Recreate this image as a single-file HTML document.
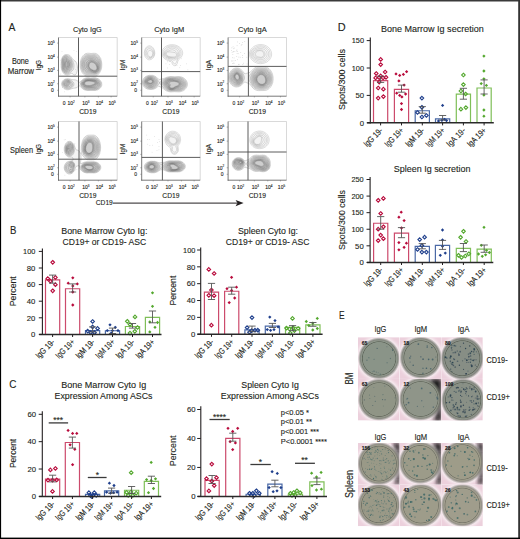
<!DOCTYPE html>
<html><head><meta charset="utf-8"><style>
html,body{margin:0;padding:0;background:#fff;}
svg{display:block;}
text{font-family:"Liberation Sans", sans-serif;stroke:#231f20;stroke-width:0.12px;}
</style></head><body>
<svg width="520" height="539" viewBox="0 0 520 539">
<rect x="0.00" y="0.00" width="520.00" height="539.00" fill="#fff" stroke="none" stroke-width="1"/>
<text x="8.50" y="31.30" font-size="11.2" text-anchor="start" fill="#231f20" textLength="6.90" lengthAdjust="spacingAndGlyphs">A</text>
<text x="9.90" y="233.90" font-size="11.2" text-anchor="start" fill="#231f20" textLength="6.40" lengthAdjust="spacingAndGlyphs">B</text>
<text x="9.20" y="387.90" font-size="11.2" text-anchor="start" fill="#231f20" textLength="7.20" lengthAdjust="spacingAndGlyphs">C</text>
<text x="337.80" y="31.10" font-size="11.2" text-anchor="start" fill="#231f20" textLength="7.90" lengthAdjust="spacingAndGlyphs">D</text>
<text x="339.10" y="318.90" font-size="11.2" text-anchor="start" fill="#231f20" textLength="5.60" lengthAdjust="spacingAndGlyphs">E</text>
<text x="61.20" y="233.60" font-size="9.5" text-anchor="start" fill="#231f20" textLength="86.30" lengthAdjust="spacingAndGlyphs">Bone Marrow Cyto Ig:</text>
<text x="62.50" y="245.00" font-size="9.5" text-anchor="start" fill="#231f20" textLength="83.70" lengthAdjust="spacingAndGlyphs">CD19+ or CD19- ASC</text>
<text x="238.00" y="233.60" font-size="9.5" text-anchor="start" fill="#231f20" textLength="60.00" lengthAdjust="spacingAndGlyphs">Spleen Cyto Ig:</text>
<text x="225.80" y="245.00" font-size="9.5" text-anchor="start" fill="#231f20" textLength="83.70" lengthAdjust="spacingAndGlyphs">CD19+ or CD19- ASC</text>
<text x="61.20" y="388.00" font-size="9.5" text-anchor="start" fill="#231f20" textLength="85.00" lengthAdjust="spacingAndGlyphs">Bone Marrow Cyto Ig</text>
<text x="54.50" y="399.30" font-size="9.5" text-anchor="start" fill="#231f20" textLength="98.00" lengthAdjust="spacingAndGlyphs">Expression Among ASCs</text>
<text x="241.30" y="388.00" font-size="9.5" text-anchor="start" fill="#231f20" textLength="57.50" lengthAdjust="spacingAndGlyphs">Spleen Cyto Ig</text>
<text x="220.80" y="399.30" font-size="9.5" text-anchor="start" fill="#231f20" textLength="98.00" lengthAdjust="spacingAndGlyphs">Expression Among ASCs</text>
<text x="381.00" y="32.20" font-size="9.5" text-anchor="start" fill="#231f20" textLength="102.70" lengthAdjust="spacingAndGlyphs">Bone Marrow Ig secretion</text>
<text x="393.80" y="171.80" font-size="9.5" text-anchor="start" fill="#231f20" textLength="76.70" lengthAdjust="spacingAndGlyphs">Spleen Ig secretion</text>
<text x="16.10" y="291.20" font-size="9.6" text-anchor="middle" fill="#231f20" textLength="30.00" lengthAdjust="spacingAndGlyphs" transform="rotate(-90 16.10 291.20)">Percent</text>
<text x="175.80" y="290.60" font-size="9.6" text-anchor="middle" fill="#231f20" textLength="29.80" lengthAdjust="spacingAndGlyphs" transform="rotate(-90 175.80 290.60)">Percent</text>
<text x="16.30" y="453.40" font-size="9.6" text-anchor="middle" fill="#231f20" textLength="29.30" lengthAdjust="spacingAndGlyphs" transform="rotate(-90 16.30 453.40)">Percent</text>
<text x="175.80" y="450.90" font-size="9.6" text-anchor="middle" fill="#231f20" textLength="30.80" lengthAdjust="spacingAndGlyphs" transform="rotate(-90 175.80 450.90)">Percent</text>
<text x="345.00" y="79.60" font-size="9.6" text-anchor="middle" fill="#231f20" textLength="61.00" lengthAdjust="spacingAndGlyphs" transform="rotate(-90 345.00 79.60)">Spots/300 cells</text>
<text x="345.00" y="220.00" font-size="9.6" text-anchor="middle" fill="#231f20" textLength="60.00" lengthAdjust="spacingAndGlyphs" transform="rotate(-90 345.00 220.00)">Spots/300 cells</text>
<path d="M45.50,334.40V279.79H59.70V334.40" fill="#fff" stroke="#cc4a6c" stroke-width="1.2"/>
<path d="M65.50,334.40V288.75H79.70V334.40" fill="#fff" stroke="#cc4a6c" stroke-width="1.2"/>
<path d="M85.50,334.40V330.58H99.70V334.40" fill="#fff" stroke="#4a69a6" stroke-width="1.2"/>
<path d="M105.40,334.40V330.75H119.60V334.40" fill="#fff" stroke="#4a69a6" stroke-width="1.2"/>
<path d="M125.40,334.40V326.51H139.60V334.40" fill="#fff" stroke="#7fbf58" stroke-width="1.2"/>
<path d="M145.40,334.40V317.38H159.60V334.40" fill="#fff" stroke="#7fbf58" stroke-width="1.2"/>
<path d="M52.70,260.50L54.50,262.30L52.70,264.10L50.90,262.30Z" fill="none" stroke="#b80b3c" stroke-width="1.1"/>
<path d="M47.80,276.80L49.60,278.60L47.80,280.40L46.00,278.60Z" fill="none" stroke="#b80b3c" stroke-width="1.1"/>
<path d="M50.40,279.40L52.20,281.20L50.40,283.00L48.60,281.20Z" fill="none" stroke="#b80b3c" stroke-width="1.1"/>
<path d="M55.40,275.70L57.20,277.50L55.40,279.30L53.60,277.50Z" fill="none" stroke="#b80b3c" stroke-width="1.1"/>
<path d="M55.40,282.90L57.20,284.70L55.40,286.50L53.60,284.70Z" fill="none" stroke="#b80b3c" stroke-width="1.1"/>
<path d="M52.70,289.00L54.50,290.80L52.70,292.60L50.90,290.80Z" fill="none" stroke="#b80b3c" stroke-width="1.1"/>
<path d="M72.80,276.15L74.45,277.80L72.80,279.45L71.15,277.80Z" fill="#b80b3c"/>
<path d="M68.20,281.55L69.85,283.20L68.20,284.85L66.55,283.20Z" fill="#b80b3c"/>
<path d="M77.30,282.25L78.95,283.90L77.30,285.55L75.65,283.90Z" fill="#b80b3c"/>
<path d="M72.80,284.25L74.45,285.90L72.80,287.55L71.15,285.90Z" fill="#b80b3c"/>
<path d="M72.80,290.35L74.45,292.00L72.80,293.65L71.15,292.00Z" fill="#b80b3c"/>
<path d="M72.80,303.35L74.45,305.00L72.80,306.65L71.15,305.00Z" fill="#b80b3c"/>
<path d="M92.60,319.70L94.40,321.50L92.60,323.30L90.80,321.50Z" fill="none" stroke="#1f3f8c" stroke-width="1.1"/>
<path d="M92.60,325.10L94.40,326.90L92.60,328.70L90.80,326.90Z" fill="none" stroke="#1f3f8c" stroke-width="1.1"/>
<path d="M97.60,326.60L99.40,328.40L97.60,330.20L95.80,328.40Z" fill="none" stroke="#1f3f8c" stroke-width="1.1"/>
<path d="M87.70,329.30L89.50,331.10L87.70,332.90L85.90,331.10Z" fill="none" stroke="#1f3f8c" stroke-width="1.1"/>
<path d="M90.70,330.90L92.50,332.70L90.70,334.50L88.90,332.70Z" fill="none" stroke="#1f3f8c" stroke-width="1.1"/>
<path d="M94.50,330.90L96.30,332.70L94.50,334.50L92.70,332.70Z" fill="none" stroke="#1f3f8c" stroke-width="1.1"/>
<path d="M110.00,323.15L111.65,324.80L110.00,326.45L108.35,324.80Z" fill="#1f3f8c"/>
<path d="M115.30,325.65L116.95,327.30L115.30,328.95L113.65,327.30Z" fill="#1f3f8c"/>
<path d="M107.30,328.95L108.95,330.60L107.30,332.25L105.65,330.60Z" fill="#1f3f8c"/>
<path d="M112.50,328.95L114.15,330.60L112.50,332.25L110.85,330.60Z" fill="#1f3f8c"/>
<path d="M118.00,328.95L119.65,330.60L118.00,332.25L116.35,330.60Z" fill="#1f3f8c"/>
<path d="M111.30,331.45L112.95,333.10L111.30,334.75L109.65,333.10Z" fill="#1f3f8c"/>
<path d="M135.00,315.10L136.80,316.90L135.00,318.70L133.20,316.90Z" fill="none" stroke="#54a82e" stroke-width="1.1"/>
<path d="M127.30,319.50L129.10,321.30L127.30,323.10L125.50,321.30Z" fill="none" stroke="#54a82e" stroke-width="1.1"/>
<path d="M130.00,322.60L131.80,324.40L130.00,326.20L128.20,324.40Z" fill="none" stroke="#54a82e" stroke-width="1.1"/>
<path d="M137.50,325.70L139.30,327.50L137.50,329.30L135.70,327.50Z" fill="none" stroke="#54a82e" stroke-width="1.1"/>
<path d="M134.80,329.50L136.60,331.30L134.80,333.10L133.00,331.30Z" fill="none" stroke="#54a82e" stroke-width="1.1"/>
<path d="M130.00,331.30L131.80,333.10L130.00,334.90L128.20,333.10Z" fill="none" stroke="#54a82e" stroke-width="1.1"/>
<path d="M152.50,291.15L154.15,292.80L152.50,294.45L150.85,292.80Z" fill="#54a82e"/>
<path d="M152.50,304.65L154.15,306.30L152.50,307.95L150.85,306.30Z" fill="#54a82e"/>
<path d="M149.80,320.25L151.45,321.90L149.80,323.55L148.15,321.90Z" fill="#54a82e"/>
<path d="M157.50,320.85L159.15,322.50L157.50,324.15L155.85,322.50Z" fill="#54a82e"/>
<path d="M155.00,325.65L156.65,327.30L155.00,328.95L153.35,327.30Z" fill="#54a82e"/>
<path d="M149.80,330.25L151.45,331.90L149.80,333.55L148.15,331.90Z" fill="#54a82e"/>
<path d="M52.60,275.10V283.20M49.00,275.10H56.20M49.00,283.20H56.20" stroke="#555555" stroke-width="0.9" fill="none"/>
<path d="M72.60,283.90V292.00M69.00,283.90H76.20M69.00,292.00H76.20" stroke="#555555" stroke-width="0.9" fill="none"/>
<path d="M92.60,326.90V332.00M89.00,326.90H96.20M89.00,332.00H96.20" stroke="#555555" stroke-width="0.9" fill="none"/>
<path d="M112.50,328.10V333.50M108.90,328.10H116.10M108.90,333.50H116.10" stroke="#555555" stroke-width="0.9" fill="none"/>
<path d="M132.50,323.50V328.10M128.90,323.50H136.10M128.90,328.10H136.10" stroke="#555555" stroke-width="0.9" fill="none"/>
<path d="M152.50,311.00V322.80M148.90,311.00H156.10M148.90,322.80H156.10" stroke="#555555" stroke-width="0.9" fill="none"/>
<line x1="42.40" y1="248.60" x2="42.40" y2="335.00" stroke="#231f20" stroke-width="1.1"/>
<line x1="39.20" y1="334.40" x2="161.50" y2="334.40" stroke="#2a2a2a" stroke-width="1.5"/>
<line x1="38.80" y1="334.40" x2="42.40" y2="334.40" stroke="#231f20" stroke-width="1"/>
<text x="35.40" y="337.15" font-size="7.8" text-anchor="end" fill="#231f20" textLength="4.30" lengthAdjust="spacingAndGlyphs">0</text>
<line x1="38.80" y1="317.80" x2="42.40" y2="317.80" stroke="#231f20" stroke-width="1"/>
<text x="35.40" y="320.55" font-size="7.8" text-anchor="end" fill="#231f20" textLength="8.60" lengthAdjust="spacingAndGlyphs">20</text>
<line x1="38.80" y1="301.20" x2="42.40" y2="301.20" stroke="#231f20" stroke-width="1"/>
<text x="35.40" y="303.95" font-size="7.8" text-anchor="end" fill="#231f20" textLength="8.60" lengthAdjust="spacingAndGlyphs">40</text>
<line x1="38.80" y1="284.60" x2="42.40" y2="284.60" stroke="#231f20" stroke-width="1"/>
<text x="35.40" y="287.35" font-size="7.8" text-anchor="end" fill="#231f20" textLength="8.60" lengthAdjust="spacingAndGlyphs">60</text>
<line x1="38.80" y1="268.00" x2="42.40" y2="268.00" stroke="#231f20" stroke-width="1"/>
<text x="35.40" y="270.75" font-size="7.8" text-anchor="end" fill="#231f20" textLength="8.60" lengthAdjust="spacingAndGlyphs">80</text>
<line x1="38.80" y1="251.40" x2="42.40" y2="251.40" stroke="#231f20" stroke-width="1"/>
<text x="35.40" y="254.15" font-size="7.8" text-anchor="end" fill="#231f20" textLength="12.30" lengthAdjust="spacingAndGlyphs">100</text>
<line x1="52.60" y1="334.40" x2="52.60" y2="337.00" stroke="#231f20" stroke-width="1"/>
<text x="55.40" y="342.70" font-size="8.6" text-anchor="end" fill="#231f20" textLength="23.20" lengthAdjust="spacingAndGlyphs" transform="rotate(-45 55.40 342.70)">IgG 19-</text>
<line x1="72.60" y1="334.40" x2="72.60" y2="337.00" stroke="#231f20" stroke-width="1"/>
<text x="75.40" y="342.70" font-size="8.6" text-anchor="end" fill="#231f20" textLength="23.20" lengthAdjust="spacingAndGlyphs" transform="rotate(-45 75.40 342.70)">IgG 19+</text>
<line x1="92.60" y1="334.40" x2="92.60" y2="337.00" stroke="#231f20" stroke-width="1"/>
<text x="95.40" y="342.70" font-size="8.6" text-anchor="end" fill="#231f20" textLength="23.20" lengthAdjust="spacingAndGlyphs" transform="rotate(-45 95.40 342.70)">IgM 19-</text>
<line x1="112.50" y1="334.40" x2="112.50" y2="337.00" stroke="#231f20" stroke-width="1"/>
<text x="115.30" y="342.70" font-size="8.6" text-anchor="end" fill="#231f20" textLength="23.20" lengthAdjust="spacingAndGlyphs" transform="rotate(-45 115.30 342.70)">IgM 19+</text>
<line x1="132.50" y1="334.40" x2="132.50" y2="337.00" stroke="#231f20" stroke-width="1"/>
<text x="135.30" y="342.70" font-size="8.6" text-anchor="end" fill="#231f20" textLength="23.20" lengthAdjust="spacingAndGlyphs" transform="rotate(-45 135.30 342.70)">IgA 19-</text>
<line x1="152.50" y1="334.40" x2="152.50" y2="337.00" stroke="#231f20" stroke-width="1"/>
<text x="155.30" y="342.70" font-size="8.6" text-anchor="end" fill="#231f20" textLength="23.20" lengthAdjust="spacingAndGlyphs" transform="rotate(-45 155.30 342.70)">IgA 19+</text>
<path d="M204.40,334.20V292.10H218.60V334.20" fill="#fff" stroke="#cc4a6c" stroke-width="1.2"/>
<path d="M224.60,334.20V291.26H238.80V334.20" fill="#fff" stroke="#cc4a6c" stroke-width="1.2"/>
<path d="M244.90,334.20V329.82H259.10V334.20" fill="#fff" stroke="#4a69a6" stroke-width="1.2"/>
<path d="M265.30,334.20V326.20H279.50V334.20" fill="#fff" stroke="#4a69a6" stroke-width="1.2"/>
<path d="M285.50,334.20V327.46H299.70V334.20" fill="#fff" stroke="#7fbf58" stroke-width="1.2"/>
<path d="M305.80,334.20V324.94H320.00V334.20" fill="#fff" stroke="#7fbf58" stroke-width="1.2"/>
<path d="M208.80,267.60L210.60,269.40L208.80,271.20L207.00,269.40Z" fill="none" stroke="#b80b3c" stroke-width="1.1"/>
<path d="M214.10,271.70L215.90,273.50L214.10,275.30L212.30,273.50Z" fill="none" stroke="#b80b3c" stroke-width="1.1"/>
<path d="M211.40,288.20L213.20,290.00L211.40,291.80L209.60,290.00Z" fill="none" stroke="#b80b3c" stroke-width="1.1"/>
<path d="M208.80,293.50L210.60,295.30L208.80,297.10L207.00,295.30Z" fill="none" stroke="#b80b3c" stroke-width="1.1"/>
<path d="M214.10,293.90L215.90,295.70L214.10,297.50L212.30,295.70Z" fill="none" stroke="#b80b3c" stroke-width="1.1"/>
<path d="M211.40,323.40L213.20,325.20L211.40,327.00L209.60,325.20Z" fill="none" stroke="#b80b3c" stroke-width="1.1"/>
<path d="M231.60,275.65L233.25,277.30L231.60,278.95L229.95,277.30Z" fill="#b80b3c"/>
<path d="M227.00,287.05L228.65,288.70L227.00,290.35L225.35,288.70Z" fill="#b80b3c"/>
<path d="M236.50,285.55L238.15,287.20L236.50,288.85L234.85,287.20Z" fill="#b80b3c"/>
<path d="M231.60,288.75L233.25,290.40L231.60,292.05L229.95,290.40Z" fill="#b80b3c"/>
<path d="M234.70,296.35L236.35,298.00L234.70,299.65L233.05,298.00Z" fill="#b80b3c"/>
<path d="M229.20,300.95L230.85,302.60L229.20,304.25L227.55,302.60Z" fill="#b80b3c"/>
<path d="M252.00,315.80L253.80,317.60L252.00,319.40L250.20,317.60Z" fill="none" stroke="#1f3f8c" stroke-width="1.1"/>
<path d="M247.10,325.80L248.90,327.60L247.10,329.40L245.30,327.60Z" fill="none" stroke="#1f3f8c" stroke-width="1.1"/>
<path d="M251.70,328.90L253.50,330.70L251.70,332.50L249.90,330.70Z" fill="none" stroke="#1f3f8c" stroke-width="1.1"/>
<path d="M255.00,328.40L256.80,330.20L255.00,332.00L253.20,330.20Z" fill="none" stroke="#1f3f8c" stroke-width="1.1"/>
<path d="M257.80,328.40L259.60,330.20L257.80,332.00L256.00,330.20Z" fill="none" stroke="#1f3f8c" stroke-width="1.1"/>
<path d="M249.50,330.40L251.30,332.20L249.50,334.00L247.70,332.20Z" fill="none" stroke="#1f3f8c" stroke-width="1.1"/>
<path d="M269.80,315.45L271.45,317.10L269.80,318.75L268.15,317.10Z" fill="#1f3f8c"/>
<path d="M275.00,318.95L276.65,320.60L275.00,322.25L273.35,320.60Z" fill="#1f3f8c"/>
<path d="M278.10,325.25L279.75,326.90L278.10,328.55L276.45,326.90Z" fill="#1f3f8c"/>
<path d="M267.30,327.95L268.95,329.60L267.30,331.25L265.65,329.60Z" fill="#1f3f8c"/>
<path d="M270.60,328.65L272.25,330.30L270.60,331.95L268.95,330.30Z" fill="#1f3f8c"/>
<path d="M274.00,327.95L275.65,329.60L274.00,331.25L272.35,329.60Z" fill="#1f3f8c"/>
<path d="M292.50,316.60L294.30,318.40L292.50,320.20L290.70,318.40Z" fill="none" stroke="#54a82e" stroke-width="1.1"/>
<path d="M286.50,326.30L288.30,328.10L286.50,329.90L284.70,328.10Z" fill="none" stroke="#54a82e" stroke-width="1.1"/>
<path d="M289.40,327.20L291.20,329.00L289.40,330.80L287.60,329.00Z" fill="none" stroke="#54a82e" stroke-width="1.1"/>
<path d="M293.10,326.00L294.90,327.80L293.10,329.60L291.30,327.80Z" fill="none" stroke="#54a82e" stroke-width="1.1"/>
<path d="M298.10,326.70L299.90,328.50L298.10,330.30L296.30,328.50Z" fill="none" stroke="#54a82e" stroke-width="1.1"/>
<path d="M290.30,331.30L292.10,333.10L290.30,334.90L288.50,333.10Z" fill="none" stroke="#54a82e" stroke-width="1.1"/>
<path d="M294.40,328.80L296.20,330.60L294.40,332.40L292.60,330.60Z" fill="none" stroke="#54a82e" stroke-width="1.1"/>
<path d="M317.30,316.75L318.95,318.40L317.30,320.05L315.65,318.40Z" fill="#54a82e"/>
<path d="M306.30,319.85L307.95,321.50L306.30,323.15L304.65,321.50Z" fill="#54a82e"/>
<path d="M312.80,321.45L314.45,323.10L312.80,324.75L311.15,323.10Z" fill="#54a82e"/>
<path d="M308.80,323.95L310.45,325.60L308.80,327.25L307.15,325.60Z" fill="#54a82e"/>
<path d="M317.30,326.85L318.95,328.50L317.30,330.15L315.65,328.50Z" fill="#54a82e"/>
<path d="M312.80,328.35L314.45,330.00L312.80,331.65L311.15,330.00Z" fill="#54a82e"/>
<path d="M211.50,283.40V299.50M207.90,283.40H215.10M207.90,299.50H215.10" stroke="#555555" stroke-width="0.9" fill="none"/>
<path d="M231.70,287.20V294.20M228.10,287.20H235.30M228.10,294.20H235.30" stroke="#555555" stroke-width="0.9" fill="none"/>
<path d="M252.00,326.10V331.70M248.40,326.10H255.60M248.40,331.70H255.60" stroke="#555555" stroke-width="0.9" fill="none"/>
<path d="M272.40,323.40V327.50M268.80,323.40H276.00M268.80,327.50H276.00" stroke="#555555" stroke-width="0.9" fill="none"/>
<path d="M292.60,325.60V330.60M289.00,325.60H296.20M289.00,330.60H296.20" stroke="#555555" stroke-width="0.9" fill="none"/>
<path d="M312.90,322.50V326.30M309.30,322.50H316.50M309.30,326.30H316.50" stroke="#555555" stroke-width="0.9" fill="none"/>
<line x1="200.70" y1="247.50" x2="200.70" y2="334.80" stroke="#231f20" stroke-width="1.1"/>
<line x1="197.50" y1="334.20" x2="322.60" y2="334.20" stroke="#2a2a2a" stroke-width="1.5"/>
<line x1="197.10" y1="334.20" x2="200.70" y2="334.20" stroke="#231f20" stroke-width="1"/>
<text x="195.40" y="336.95" font-size="7.8" text-anchor="end" fill="#231f20" textLength="4.30" lengthAdjust="spacingAndGlyphs">0</text>
<line x1="197.10" y1="317.36" x2="200.70" y2="317.36" stroke="#231f20" stroke-width="1"/>
<text x="195.40" y="320.11" font-size="7.8" text-anchor="end" fill="#231f20" textLength="8.60" lengthAdjust="spacingAndGlyphs">20</text>
<line x1="197.10" y1="300.52" x2="200.70" y2="300.52" stroke="#231f20" stroke-width="1"/>
<text x="195.40" y="303.27" font-size="7.8" text-anchor="end" fill="#231f20" textLength="8.60" lengthAdjust="spacingAndGlyphs">40</text>
<line x1="197.10" y1="283.68" x2="200.70" y2="283.68" stroke="#231f20" stroke-width="1"/>
<text x="195.40" y="286.43" font-size="7.8" text-anchor="end" fill="#231f20" textLength="8.60" lengthAdjust="spacingAndGlyphs">60</text>
<line x1="197.10" y1="266.84" x2="200.70" y2="266.84" stroke="#231f20" stroke-width="1"/>
<text x="195.40" y="269.59" font-size="7.8" text-anchor="end" fill="#231f20" textLength="8.60" lengthAdjust="spacingAndGlyphs">80</text>
<line x1="197.10" y1="250.00" x2="200.70" y2="250.00" stroke="#231f20" stroke-width="1"/>
<text x="195.40" y="252.75" font-size="7.8" text-anchor="end" fill="#231f20" textLength="12.30" lengthAdjust="spacingAndGlyphs">100</text>
<line x1="211.50" y1="334.20" x2="211.50" y2="336.80" stroke="#231f20" stroke-width="1"/>
<text x="214.30" y="342.50" font-size="8.6" text-anchor="end" fill="#231f20" textLength="23.20" lengthAdjust="spacingAndGlyphs" transform="rotate(-45 214.30 342.50)">IgG 19-</text>
<line x1="231.70" y1="334.20" x2="231.70" y2="336.80" stroke="#231f20" stroke-width="1"/>
<text x="234.50" y="342.50" font-size="8.6" text-anchor="end" fill="#231f20" textLength="23.20" lengthAdjust="spacingAndGlyphs" transform="rotate(-45 234.50 342.50)">IgG 19+</text>
<line x1="252.00" y1="334.20" x2="252.00" y2="336.80" stroke="#231f20" stroke-width="1"/>
<text x="254.80" y="342.50" font-size="8.6" text-anchor="end" fill="#231f20" textLength="23.20" lengthAdjust="spacingAndGlyphs" transform="rotate(-45 254.80 342.50)">IgM 19-</text>
<line x1="272.40" y1="334.20" x2="272.40" y2="336.80" stroke="#231f20" stroke-width="1"/>
<text x="275.20" y="342.50" font-size="8.6" text-anchor="end" fill="#231f20" textLength="23.20" lengthAdjust="spacingAndGlyphs" transform="rotate(-45 275.20 342.50)">IgM 19+</text>
<line x1="292.60" y1="334.20" x2="292.60" y2="336.80" stroke="#231f20" stroke-width="1"/>
<text x="295.40" y="342.50" font-size="8.6" text-anchor="end" fill="#231f20" textLength="23.20" lengthAdjust="spacingAndGlyphs" transform="rotate(-45 295.40 342.50)">IgA 19-</text>
<line x1="312.90" y1="334.20" x2="312.90" y2="336.80" stroke="#231f20" stroke-width="1"/>
<text x="315.70" y="342.50" font-size="8.6" text-anchor="end" fill="#231f20" textLength="23.20" lengthAdjust="spacingAndGlyphs" transform="rotate(-45 315.70 342.50)">IgA 19+</text>
<path d="M45.50,496.40V479.16H59.70V496.40" fill="#fff" stroke="#cc4a6c" stroke-width="1.2"/>
<path d="M65.30,496.40V442.49H79.50V496.40" fill="#fff" stroke="#cc4a6c" stroke-width="1.2"/>
<path d="M85.50,496.40V494.35H99.70V496.40" fill="#fff" stroke="#4a69a6" stroke-width="1.2"/>
<path d="M104.50,496.40V490.93H118.70V496.40" fill="#fff" stroke="#4a69a6" stroke-width="1.2"/>
<path d="M124.50,496.40V490.24H138.70V496.40" fill="#fff" stroke="#7fbf58" stroke-width="1.2"/>
<path d="M144.30,496.40V481.35H158.50V496.40" fill="#fff" stroke="#7fbf58" stroke-width="1.2"/>
<path d="M50.40,468.10L52.20,469.90L50.40,471.70L48.60,469.90Z" fill="none" stroke="#b80b3c" stroke-width="1.1"/>
<path d="M55.40,466.70L57.20,468.50L55.40,470.30L53.60,468.50Z" fill="none" stroke="#b80b3c" stroke-width="1.1"/>
<path d="M48.00,478.40L49.80,480.20L48.00,482.00L46.20,480.20Z" fill="none" stroke="#b80b3c" stroke-width="1.1"/>
<path d="M52.50,478.40L54.30,480.20L52.50,482.00L50.70,480.20Z" fill="none" stroke="#b80b3c" stroke-width="1.1"/>
<path d="M56.70,478.10L58.50,479.90L56.70,481.70L54.90,479.90Z" fill="none" stroke="#b80b3c" stroke-width="1.1"/>
<path d="M52.50,489.60L54.30,491.40L52.50,493.20L50.70,491.40Z" fill="none" stroke="#b80b3c" stroke-width="1.1"/>
<path d="M68.10,428.75L69.75,430.40L68.10,432.05L66.45,430.40Z" fill="#b80b3c"/>
<path d="M72.60,431.75L74.25,433.40L72.60,435.05L70.95,433.40Z" fill="#b80b3c"/>
<path d="M76.80,431.75L78.45,433.40L76.80,435.05L75.15,433.40Z" fill="#b80b3c"/>
<path d="M70.10,443.15L71.75,444.80L70.10,446.45L68.45,444.80Z" fill="#b80b3c"/>
<path d="M74.80,447.65L76.45,449.30L74.80,450.95L73.15,449.30Z" fill="#b80b3c"/>
<path d="M72.60,463.05L74.25,464.70L72.60,466.35L70.95,464.70Z" fill="#b80b3c"/>
<path d="M88.90,490.90L90.70,492.70L88.90,494.50L87.10,492.70Z" fill="none" stroke="#1f3f8c" stroke-width="1.1"/>
<path d="M94.30,490.90L96.10,492.70L94.30,494.50L92.50,492.70Z" fill="none" stroke="#1f3f8c" stroke-width="1.1"/>
<path d="M90.50,493.50L92.30,495.30L90.50,497.10L88.70,495.30Z" fill="none" stroke="#1f3f8c" stroke-width="1.1"/>
<path d="M92.80,493.50L94.60,495.30L92.80,497.10L91.00,495.30Z" fill="none" stroke="#1f3f8c" stroke-width="1.1"/>
<path d="M96.20,493.50L98.00,495.30L96.20,497.10L94.40,495.30Z" fill="none" stroke="#1f3f8c" stroke-width="1.1"/>
<path d="M91.50,494.70L93.30,496.50L91.50,498.30L89.70,496.50Z" fill="none" stroke="#1f3f8c" stroke-width="1.1"/>
<path d="M109.40,481.55L111.05,483.20L109.40,484.85L107.75,483.20Z" fill="#1f3f8c"/>
<path d="M114.00,483.85L115.65,485.50L114.00,487.15L112.35,485.50Z" fill="#1f3f8c"/>
<path d="M106.60,490.55L108.25,492.20L106.60,493.85L104.95,492.20Z" fill="#1f3f8c"/>
<path d="M110.50,491.55L112.15,493.20L110.50,494.85L108.85,493.20Z" fill="#1f3f8c"/>
<path d="M113.50,491.05L115.15,492.70L113.50,494.35L111.85,492.70Z" fill="#1f3f8c"/>
<path d="M117.10,490.55L118.75,492.20L117.10,493.85L115.45,492.20Z" fill="#1f3f8c"/>
<path d="M131.20,470.90L133.00,472.70L131.20,474.50L129.40,472.70Z" fill="none" stroke="#54a82e" stroke-width="1.1"/>
<path d="M126.60,490.60L128.40,492.40L126.60,494.20L124.80,492.40Z" fill="none" stroke="#54a82e" stroke-width="1.1"/>
<path d="M131.00,490.20L132.80,492.00L131.00,493.80L129.20,492.00Z" fill="none" stroke="#54a82e" stroke-width="1.1"/>
<path d="M136.20,491.40L138.00,493.20L136.20,495.00L134.40,493.20Z" fill="none" stroke="#54a82e" stroke-width="1.1"/>
<path d="M128.20,493.50L130.00,495.30L128.20,497.10L126.40,495.30Z" fill="none" stroke="#54a82e" stroke-width="1.1"/>
<path d="M132.80,493.50L134.60,495.30L132.80,497.10L131.00,495.30Z" fill="none" stroke="#54a82e" stroke-width="1.1"/>
<path d="M151.20,460.75L152.85,462.40L151.20,464.05L149.55,462.40Z" fill="#54a82e"/>
<path d="M146.60,477.95L148.25,479.60L146.60,481.25L144.95,479.60Z" fill="#54a82e"/>
<path d="M155.50,477.15L157.15,478.80L155.50,480.45L153.85,478.80Z" fill="#54a82e"/>
<path d="M151.20,478.75L152.85,480.40L151.20,482.05L149.55,480.40Z" fill="#54a82e"/>
<path d="M153.50,486.85L155.15,488.50L153.50,490.15L151.85,488.50Z" fill="#54a82e"/>
<path d="M148.50,491.05L150.15,492.70L148.50,494.35L146.85,492.70Z" fill="#54a82e"/>
<path d="M52.60,475.20V481.90M49.00,475.20H56.20M49.00,481.90H56.20" stroke="#555555" stroke-width="0.9" fill="none"/>
<path d="M72.40,437.10V448.10M68.80,437.10H76.00M68.80,448.10H76.00" stroke="#555555" stroke-width="0.9" fill="none"/>
<path d="M111.60,488.10V493.20M108.00,488.10H115.20M108.00,493.20H115.20" stroke="#555555" stroke-width="0.9" fill="none"/>
<path d="M131.60,486.50V493.50M128.00,486.50H135.20M128.00,493.50H135.20" stroke="#555555" stroke-width="0.9" fill="none"/>
<path d="M151.40,476.20V483.50M147.80,476.20H155.00M147.80,483.50H155.00" stroke="#555555" stroke-width="0.9" fill="none"/>
<line x1="42.30" y1="411.30" x2="42.30" y2="497.00" stroke="#231f20" stroke-width="1.1"/>
<line x1="39.10" y1="496.40" x2="161.20" y2="496.40" stroke="#2a2a2a" stroke-width="1.5"/>
<line x1="38.70" y1="496.40" x2="42.30" y2="496.40" stroke="#231f20" stroke-width="1"/>
<text x="36.00" y="499.15" font-size="7.8" text-anchor="end" fill="#231f20" textLength="4.30" lengthAdjust="spacingAndGlyphs">0</text>
<line x1="38.70" y1="469.03" x2="42.30" y2="469.03" stroke="#231f20" stroke-width="1"/>
<text x="36.00" y="471.78" font-size="7.8" text-anchor="end" fill="#231f20" textLength="8.60" lengthAdjust="spacingAndGlyphs">20</text>
<line x1="38.70" y1="441.67" x2="42.30" y2="441.67" stroke="#231f20" stroke-width="1"/>
<text x="36.00" y="444.42" font-size="7.8" text-anchor="end" fill="#231f20" textLength="8.60" lengthAdjust="spacingAndGlyphs">40</text>
<line x1="38.70" y1="414.30" x2="42.30" y2="414.30" stroke="#231f20" stroke-width="1"/>
<text x="36.00" y="417.05" font-size="7.8" text-anchor="end" fill="#231f20" textLength="8.60" lengthAdjust="spacingAndGlyphs">60</text>
<line x1="52.60" y1="496.40" x2="52.60" y2="499.00" stroke="#231f20" stroke-width="1"/>
<text x="55.40" y="504.70" font-size="8.6" text-anchor="end" fill="#231f20" textLength="23.20" lengthAdjust="spacingAndGlyphs" transform="rotate(-45 55.40 504.70)">IgG 19-</text>
<line x1="72.40" y1="496.40" x2="72.40" y2="499.00" stroke="#231f20" stroke-width="1"/>
<text x="75.20" y="504.70" font-size="8.6" text-anchor="end" fill="#231f20" textLength="23.20" lengthAdjust="spacingAndGlyphs" transform="rotate(-45 75.20 504.70)">IgG 19+</text>
<line x1="92.60" y1="496.40" x2="92.60" y2="499.00" stroke="#231f20" stroke-width="1"/>
<text x="95.40" y="504.70" font-size="8.6" text-anchor="end" fill="#231f20" textLength="23.20" lengthAdjust="spacingAndGlyphs" transform="rotate(-45 95.40 504.70)">IgM 19-</text>
<line x1="111.60" y1="496.40" x2="111.60" y2="499.00" stroke="#231f20" stroke-width="1"/>
<text x="114.40" y="504.70" font-size="8.6" text-anchor="end" fill="#231f20" textLength="23.20" lengthAdjust="spacingAndGlyphs" transform="rotate(-45 114.40 504.70)">IgM 19+</text>
<line x1="131.60" y1="496.40" x2="131.60" y2="499.00" stroke="#231f20" stroke-width="1"/>
<text x="134.40" y="504.70" font-size="8.6" text-anchor="end" fill="#231f20" textLength="23.20" lengthAdjust="spacingAndGlyphs" transform="rotate(-45 134.40 504.70)">IgA 19-</text>
<line x1="151.40" y1="496.40" x2="151.40" y2="499.00" stroke="#231f20" stroke-width="1"/>
<text x="154.20" y="504.70" font-size="8.6" text-anchor="end" fill="#231f20" textLength="23.20" lengthAdjust="spacingAndGlyphs" transform="rotate(-45 154.20 504.70)">IgA 19+</text>
<line x1="48.70" y1="422.90" x2="68.10" y2="422.90" stroke="#3a3a3a" stroke-width="1.3"/>
<text x="58.20" y="423.00" font-size="8.5" text-anchor="middle" fill="#231f20">***</text>
<line x1="87.80" y1="477.50" x2="106.60" y2="477.50" stroke="#3a3a3a" stroke-width="1.3"/>
<text x="97.40" y="477.70" font-size="8.5" text-anchor="middle" fill="#231f20">*</text>
<path d="M205.00,496.40V480.47H219.20V496.40" fill="#fff" stroke="#cc4a6c" stroke-width="1.2"/>
<path d="M225.70,496.40V438.47H239.90V496.40" fill="#fff" stroke="#cc4a6c" stroke-width="1.2"/>
<path d="M246.10,496.40V494.23H260.30V496.40" fill="#fff" stroke="#4a69a6" stroke-width="1.2"/>
<path d="M267.80,496.40V484.09H282.00V496.40" fill="#fff" stroke="#4a69a6" stroke-width="1.2"/>
<path d="M288.30,496.40V494.23H302.50V496.40" fill="#fff" stroke="#7fbf58" stroke-width="1.2"/>
<path d="M309.80,496.40V481.92H324.00V496.40" fill="#fff" stroke="#7fbf58" stroke-width="1.2"/>
<path d="M211.80,462.30L213.60,464.10L211.80,465.90L210.00,464.10Z" fill="none" stroke="#b80b3c" stroke-width="1.1"/>
<path d="M206.50,476.90L208.30,478.70L206.50,480.50L204.70,478.70Z" fill="none" stroke="#b80b3c" stroke-width="1.1"/>
<path d="M211.80,479.40L213.60,481.20L211.80,483.00L210.00,481.20Z" fill="none" stroke="#b80b3c" stroke-width="1.1"/>
<path d="M216.50,475.90L218.30,477.70L216.50,479.50L214.70,477.70Z" fill="none" stroke="#b80b3c" stroke-width="1.1"/>
<path d="M214.20,483.80L216.00,485.60L214.20,487.40L212.40,485.60Z" fill="none" stroke="#b80b3c" stroke-width="1.1"/>
<path d="M208.90,489.10L210.70,490.90L208.90,492.70L207.10,490.90Z" fill="none" stroke="#b80b3c" stroke-width="1.1"/>
<path d="M228.00,426.65L229.65,428.30L228.00,429.95L226.35,428.30Z" fill="#b80b3c"/>
<path d="M232.70,429.85L234.35,431.50L232.70,433.15L231.05,431.50Z" fill="#b80b3c"/>
<path d="M237.70,426.65L239.35,428.30L237.70,429.95L236.05,428.30Z" fill="#b80b3c"/>
<path d="M230.10,440.05L231.75,441.70L230.10,443.35L228.45,441.70Z" fill="#b80b3c"/>
<path d="M235.40,441.25L237.05,442.90L235.40,444.55L233.75,442.90Z" fill="#b80b3c"/>
<path d="M232.70,447.95L234.35,449.60L232.70,451.25L231.05,449.60Z" fill="#b80b3c"/>
<path d="M249.50,491.50L251.30,493.30L249.50,495.10L247.70,493.30Z" fill="none" stroke="#1f3f8c" stroke-width="1.1"/>
<path d="M252.80,491.50L254.60,493.30L252.80,495.10L251.00,493.30Z" fill="none" stroke="#1f3f8c" stroke-width="1.1"/>
<path d="M256.40,489.00L258.20,490.80L256.40,492.60L254.60,490.80Z" fill="none" stroke="#1f3f8c" stroke-width="1.1"/>
<path d="M259.30,491.50L261.10,493.30L259.30,495.10L257.50,493.30Z" fill="none" stroke="#1f3f8c" stroke-width="1.1"/>
<path d="M251.20,493.20L253.00,495.00L251.20,496.80L249.40,495.00Z" fill="none" stroke="#1f3f8c" stroke-width="1.1"/>
<path d="M254.40,493.60L256.20,495.40L254.40,497.20L252.60,495.40Z" fill="none" stroke="#1f3f8c" stroke-width="1.1"/>
<path d="M272.10,470.05L273.75,471.70L272.10,473.35L270.45,471.70Z" fill="#1f3f8c"/>
<path d="M277.30,471.75L278.95,473.40L277.30,475.05L275.65,473.40Z" fill="#1f3f8c"/>
<path d="M269.10,485.95L270.75,487.60L269.10,489.25L267.45,487.60Z" fill="#1f3f8c"/>
<path d="M273.20,490.05L274.85,491.70L273.20,493.35L271.55,491.70Z" fill="#1f3f8c"/>
<path d="M277.00,489.15L278.65,490.80L277.00,492.45L275.35,490.80Z" fill="#1f3f8c"/>
<path d="M280.90,485.95L282.55,487.60L280.90,489.25L279.25,487.60Z" fill="#1f3f8c"/>
<path d="M290.40,491.50L292.20,493.30L290.40,495.10L288.60,493.30Z" fill="none" stroke="#54a82e" stroke-width="1.1"/>
<path d="M293.60,490.70L295.40,492.50L293.60,494.30L291.80,492.50Z" fill="none" stroke="#54a82e" stroke-width="1.1"/>
<path d="M296.90,489.00L298.70,490.80L296.90,492.60L295.10,490.80Z" fill="none" stroke="#54a82e" stroke-width="1.1"/>
<path d="M300.20,491.00L302.00,492.80L300.20,494.60L298.40,492.80Z" fill="none" stroke="#54a82e" stroke-width="1.1"/>
<path d="M295.30,493.20L297.10,495.00L295.30,496.80L293.50,495.00Z" fill="none" stroke="#54a82e" stroke-width="1.1"/>
<path d="M292.00,493.60L293.80,495.40L292.00,497.20L290.20,495.40Z" fill="none" stroke="#54a82e" stroke-width="1.1"/>
<path d="M311.60,471.55L313.25,473.20L311.60,474.85L309.95,473.20Z" fill="#54a82e"/>
<path d="M321.10,470.75L322.75,472.40L321.10,474.05L319.45,472.40Z" fill="#54a82e"/>
<path d="M316.50,475.35L318.15,477.00L316.50,478.65L314.85,477.00Z" fill="#54a82e"/>
<path d="M312.00,483.95L313.65,485.60L312.00,487.25L310.35,485.60Z" fill="#54a82e"/>
<path d="M316.50,488.35L318.15,490.00L316.50,491.65L314.85,490.00Z" fill="#54a82e"/>
<path d="M321.40,487.55L323.05,489.20L321.40,490.85L319.75,489.20Z" fill="#54a82e"/>
<path d="M212.10,475.50V483.50M208.50,475.50H215.70M208.50,483.50H215.70" stroke="#555555" stroke-width="0.9" fill="none"/>
<path d="M232.80,433.20V441.20M229.20,433.20H236.40M229.20,441.20H236.40" stroke="#555555" stroke-width="0.9" fill="none"/>
<path d="M274.90,480.20V486.80M271.30,480.20H278.50M271.30,486.80H278.50" stroke="#555555" stroke-width="0.9" fill="none"/>
<path d="M316.90,478.10V484.60M313.30,478.10H320.50M313.30,484.60H320.50" stroke="#555555" stroke-width="0.9" fill="none"/>
<line x1="200.80" y1="406.30" x2="200.80" y2="497.00" stroke="#231f20" stroke-width="1.1"/>
<line x1="197.60" y1="496.40" x2="327.00" y2="496.40" stroke="#2a2a2a" stroke-width="1.5"/>
<line x1="197.20" y1="496.40" x2="200.80" y2="496.40" stroke="#231f20" stroke-width="1"/>
<text x="195.50" y="499.15" font-size="7.8" text-anchor="end" fill="#231f20" textLength="4.30" lengthAdjust="spacingAndGlyphs">0</text>
<line x1="197.20" y1="467.43" x2="200.80" y2="467.43" stroke="#231f20" stroke-width="1"/>
<text x="195.50" y="470.18" font-size="7.8" text-anchor="end" fill="#231f20" textLength="8.60" lengthAdjust="spacingAndGlyphs">20</text>
<line x1="197.20" y1="438.47" x2="200.80" y2="438.47" stroke="#231f20" stroke-width="1"/>
<text x="195.50" y="441.22" font-size="7.8" text-anchor="end" fill="#231f20" textLength="8.60" lengthAdjust="spacingAndGlyphs">40</text>
<line x1="197.20" y1="409.50" x2="200.80" y2="409.50" stroke="#231f20" stroke-width="1"/>
<text x="195.50" y="412.25" font-size="7.8" text-anchor="end" fill="#231f20" textLength="8.60" lengthAdjust="spacingAndGlyphs">60</text>
<line x1="212.10" y1="496.40" x2="212.10" y2="499.00" stroke="#231f20" stroke-width="1"/>
<text x="214.90" y="504.70" font-size="8.6" text-anchor="end" fill="#231f20" textLength="23.20" lengthAdjust="spacingAndGlyphs" transform="rotate(-45 214.90 504.70)">IgG 19-</text>
<line x1="232.80" y1="496.40" x2="232.80" y2="499.00" stroke="#231f20" stroke-width="1"/>
<text x="235.60" y="504.70" font-size="8.6" text-anchor="end" fill="#231f20" textLength="23.20" lengthAdjust="spacingAndGlyphs" transform="rotate(-45 235.60 504.70)">IgG 19+</text>
<line x1="253.20" y1="496.40" x2="253.20" y2="499.00" stroke="#231f20" stroke-width="1"/>
<text x="256.00" y="504.70" font-size="8.6" text-anchor="end" fill="#231f20" textLength="23.20" lengthAdjust="spacingAndGlyphs" transform="rotate(-45 256.00 504.70)">IgM 19-</text>
<line x1="274.90" y1="496.40" x2="274.90" y2="499.00" stroke="#231f20" stroke-width="1"/>
<text x="277.70" y="504.70" font-size="8.6" text-anchor="end" fill="#231f20" textLength="23.20" lengthAdjust="spacingAndGlyphs" transform="rotate(-45 277.70 504.70)">IgM 19+</text>
<line x1="295.40" y1="496.40" x2="295.40" y2="499.00" stroke="#231f20" stroke-width="1"/>
<text x="298.20" y="504.70" font-size="8.6" text-anchor="end" fill="#231f20" textLength="23.20" lengthAdjust="spacingAndGlyphs" transform="rotate(-45 298.20 504.70)">IgA 19-</text>
<line x1="316.90" y1="496.40" x2="316.90" y2="499.00" stroke="#231f20" stroke-width="1"/>
<text x="319.70" y="504.70" font-size="8.6" text-anchor="end" fill="#231f20" textLength="23.20" lengthAdjust="spacingAndGlyphs" transform="rotate(-45 319.70 504.70)">IgA 19+</text>
<line x1="209.50" y1="419.50" x2="229.70" y2="419.50" stroke="#3a3a3a" stroke-width="1.3"/>
<text x="219.50" y="419.90" font-size="8.5" text-anchor="middle" fill="#231f20">****</text>
<line x1="250.40" y1="464.50" x2="270.80" y2="464.50" stroke="#3a3a3a" stroke-width="1.3"/>
<text x="260.30" y="464.50" font-size="8.5" text-anchor="middle" fill="#231f20">*</text>
<line x1="295.00" y1="463.30" x2="314.90" y2="463.30" stroke="#3a3a3a" stroke-width="1.3"/>
<text x="304.50" y="463.30" font-size="8.5" text-anchor="middle" fill="#231f20">**</text>
<text x="280.80" y="414.50" font-size="7.5" text-anchor="start" fill="#231f20">p&lt;0.05 *</text>
<text x="280.80" y="424.20" font-size="7.5" text-anchor="start" fill="#231f20">p&lt;0.01 **</text>
<text x="280.80" y="433.90" font-size="7.5" text-anchor="start" fill="#231f20">p&lt;0.001 ***</text>
<text x="280.80" y="443.60" font-size="7.5" text-anchor="start" fill="#231f20">P&lt;0.0001 ****</text>
<path d="M373.50,122.80V80.60H387.70V122.80" fill="#fff" stroke="#cc4a6c" stroke-width="1.2"/>
<path d="M394.40,122.80V89.37H408.60V122.80" fill="#fff" stroke="#cc4a6c" stroke-width="1.2"/>
<path d="M415.20,122.80V110.74H429.40V122.80" fill="#fff" stroke="#4a69a6" stroke-width="1.2"/>
<path d="M435.50,122.80V118.80H449.70V122.80" fill="#fff" stroke="#4a69a6" stroke-width="1.2"/>
<path d="M456.30,122.80V94.03H470.50V122.80" fill="#fff" stroke="#7fbf58" stroke-width="1.2"/>
<path d="M477.00,122.80V88.00H491.20V122.80" fill="#fff" stroke="#7fbf58" stroke-width="1.2"/>
<path d="M380.70,57.60L382.50,59.40L380.70,61.20L378.90,59.40Z" fill="none" stroke="#b80b3c" stroke-width="1.1"/>
<path d="M380.70,62.80L382.50,64.60L380.70,66.40L378.90,64.60Z" fill="none" stroke="#b80b3c" stroke-width="1.1"/>
<path d="M376.20,71.70L378.00,73.50L376.20,75.30L374.40,73.50Z" fill="none" stroke="#b80b3c" stroke-width="1.1"/>
<path d="M385.10,70.20L386.90,72.00L385.10,73.80L383.30,72.00Z" fill="none" stroke="#b80b3c" stroke-width="1.1"/>
<path d="M380.70,74.10L382.50,75.90L380.70,77.70L378.90,75.90Z" fill="none" stroke="#b80b3c" stroke-width="1.1"/>
<path d="M375.60,76.10L377.40,77.90L375.60,79.70L373.80,77.90Z" fill="none" stroke="#b80b3c" stroke-width="1.1"/>
<path d="M379.20,75.80L381.00,77.60L379.20,79.40L377.40,77.60Z" fill="none" stroke="#b80b3c" stroke-width="1.1"/>
<path d="M383.10,76.10L384.90,77.90L383.10,79.70L381.30,77.90Z" fill="none" stroke="#b80b3c" stroke-width="1.1"/>
<path d="M386.00,75.50L387.80,77.30L386.00,79.10L384.20,77.30Z" fill="none" stroke="#b80b3c" stroke-width="1.1"/>
<path d="M379.20,80.30L381.00,82.10L379.20,83.90L377.40,82.10Z" fill="none" stroke="#b80b3c" stroke-width="1.1"/>
<path d="M378.20,86.20L380.00,88.00L378.20,89.80L376.40,88.00Z" fill="none" stroke="#b80b3c" stroke-width="1.1"/>
<path d="M383.40,87.40L385.20,89.20L383.40,91.00L381.60,89.20Z" fill="none" stroke="#b80b3c" stroke-width="1.1"/>
<path d="M378.20,96.30L380.00,98.10L378.20,99.90L376.40,98.10Z" fill="none" stroke="#b80b3c" stroke-width="1.1"/>
<path d="M383.40,94.80L385.20,96.60L383.40,98.40L381.60,96.60Z" fill="none" stroke="#b80b3c" stroke-width="1.1"/>
<path d="M396.00,72.25L397.65,73.90L396.00,75.55L394.35,73.90Z" fill="#b80b3c"/>
<path d="M399.70,73.75L401.35,75.40L399.70,77.05L398.05,75.40Z" fill="#b80b3c"/>
<path d="M403.40,72.75L405.05,74.40L403.40,76.05L401.75,74.40Z" fill="#b80b3c"/>
<path d="M406.60,70.05L408.25,71.70L406.60,73.35L404.95,71.70Z" fill="#b80b3c"/>
<path d="M398.90,79.25L400.55,80.90L398.90,82.55L397.25,80.90Z" fill="#b80b3c"/>
<path d="M404.10,83.45L405.75,85.10L404.10,86.75L402.45,85.10Z" fill="#b80b3c"/>
<path d="M396.70,91.55L398.35,93.20L396.70,94.85L395.05,93.20Z" fill="#b80b3c"/>
<path d="M399.70,93.75L401.35,95.40L399.70,97.05L398.05,95.40Z" fill="#b80b3c"/>
<path d="M401.90,95.25L403.55,96.90L401.90,98.55L400.25,96.90Z" fill="#b80b3c"/>
<path d="M405.60,92.35L407.25,94.00L405.60,95.65L403.95,94.00Z" fill="#b80b3c"/>
<path d="M401.50,101.95L403.15,103.60L401.50,105.25L399.85,103.60Z" fill="#b80b3c"/>
<path d="M401.50,107.85L403.15,109.50L401.50,111.15L399.85,109.50Z" fill="#b80b3c"/>
<path d="M421.90,96.30L423.70,98.10L421.90,99.90L420.10,98.10Z" fill="none" stroke="#1f3f8c" stroke-width="1.1"/>
<path d="M421.90,105.50L423.70,107.30L421.90,109.10L420.10,107.30Z" fill="none" stroke="#1f3f8c" stroke-width="1.1"/>
<path d="M417.50,110.70L419.30,112.50L417.50,114.30L415.70,112.50Z" fill="none" stroke="#1f3f8c" stroke-width="1.1"/>
<path d="M426.40,113.70L428.20,115.50L426.40,117.30L424.60,115.50Z" fill="none" stroke="#1f3f8c" stroke-width="1.1"/>
<path d="M421.90,115.20L423.70,117.00L421.90,118.80L420.10,117.00Z" fill="none" stroke="#1f3f8c" stroke-width="1.1"/>
<path d="M442.60,103.75L444.25,105.40L442.60,107.05L440.95,105.40Z" fill="#1f3f8c"/>
<path d="M441.90,118.75L443.55,120.40L441.90,122.05L440.25,120.40Z" fill="#1f3f8c"/>
<path d="M444.50,117.65L446.15,119.30L444.50,120.95L442.85,119.30Z" fill="#1f3f8c"/>
<path d="M438.50,119.35L440.15,121.00L438.50,122.65L436.85,121.00Z" fill="#1f3f8c"/>
<path d="M446.50,118.95L448.15,120.60L446.50,122.25L444.85,120.60Z" fill="#1f3f8c"/>
<path d="M463.40,73.20L465.20,75.00L463.40,76.80L461.60,75.00Z" fill="none" stroke="#54a82e" stroke-width="1.1"/>
<path d="M463.40,82.80L465.20,84.60L463.40,86.40L461.60,84.60Z" fill="none" stroke="#54a82e" stroke-width="1.1"/>
<path d="M460.90,89.20L462.70,91.00L460.90,92.80L459.10,91.00Z" fill="none" stroke="#54a82e" stroke-width="1.1"/>
<path d="M465.60,92.20L467.40,94.00L465.60,95.80L463.80,94.00Z" fill="none" stroke="#54a82e" stroke-width="1.1"/>
<path d="M460.90,107.40L462.70,109.20L460.90,111.00L459.10,109.20Z" fill="none" stroke="#54a82e" stroke-width="1.1"/>
<path d="M465.90,105.80L467.70,107.60L465.90,109.40L464.10,107.60Z" fill="none" stroke="#54a82e" stroke-width="1.1"/>
<path d="M483.90,54.45L485.55,56.10L483.90,57.75L482.25,56.10Z" fill="#54a82e"/>
<path d="M483.90,69.35L485.55,71.00L483.90,72.65L482.25,71.00Z" fill="#54a82e"/>
<path d="M483.90,77.15L485.55,78.80L483.90,80.45L482.25,78.80Z" fill="#54a82e"/>
<path d="M481.20,81.95L482.85,83.60L481.20,85.25L479.55,83.60Z" fill="#54a82e"/>
<path d="M486.40,83.75L488.05,85.40L486.40,87.05L484.75,85.40Z" fill="#54a82e"/>
<path d="M483.90,93.45L485.55,95.10L483.90,96.75L482.25,95.10Z" fill="#54a82e"/>
<path d="M483.90,108.35L485.55,110.00L483.90,111.65L482.25,110.00Z" fill="#54a82e"/>
<path d="M483.90,114.55L485.55,116.20L483.90,117.85L482.25,116.20Z" fill="#54a82e"/>
<path d="M380.60,76.20V82.40M377.00,76.20H384.20M377.00,82.40H384.20" stroke="#555555" stroke-width="0.9" fill="none"/>
<path d="M401.50,85.10V92.20M397.90,85.10H405.10M397.90,92.20H405.10" stroke="#555555" stroke-width="0.9" fill="none"/>
<path d="M422.30,106.60V113.20M418.70,106.60H425.90M418.70,113.20H425.90" stroke="#555555" stroke-width="0.9" fill="none"/>
<path d="M442.60,115.50V120.00M439.00,115.50H446.20M439.00,120.00H446.20" stroke="#555555" stroke-width="0.9" fill="none"/>
<path d="M463.40,88.30V99.20M459.80,88.30H467.00M459.80,99.20H467.00" stroke="#555555" stroke-width="0.9" fill="none"/>
<path d="M484.10,79.90V94.00M480.50,79.90H487.70M480.50,94.00H487.70" stroke="#555555" stroke-width="0.9" fill="none"/>
<line x1="370.30" y1="37.60" x2="370.30" y2="123.40" stroke="#231f20" stroke-width="1.1"/>
<line x1="367.10" y1="122.80" x2="493.80" y2="122.80" stroke="#2a2a2a" stroke-width="1.5"/>
<line x1="366.70" y1="122.80" x2="370.30" y2="122.80" stroke="#231f20" stroke-width="1"/>
<text x="364.00" y="125.55" font-size="7.8" text-anchor="end" fill="#231f20" textLength="4.30" lengthAdjust="spacingAndGlyphs">0</text>
<line x1="366.70" y1="95.40" x2="370.30" y2="95.40" stroke="#231f20" stroke-width="1"/>
<text x="364.00" y="98.15" font-size="7.8" text-anchor="end" fill="#231f20" textLength="8.60" lengthAdjust="spacingAndGlyphs">50</text>
<line x1="366.70" y1="68.00" x2="370.30" y2="68.00" stroke="#231f20" stroke-width="1"/>
<text x="364.00" y="70.75" font-size="7.8" text-anchor="end" fill="#231f20" textLength="12.30" lengthAdjust="spacingAndGlyphs">100</text>
<line x1="366.70" y1="40.60" x2="370.30" y2="40.60" stroke="#231f20" stroke-width="1"/>
<text x="364.00" y="43.35" font-size="7.8" text-anchor="end" fill="#231f20" textLength="12.30" lengthAdjust="spacingAndGlyphs">150</text>
<line x1="380.60" y1="122.80" x2="380.60" y2="125.40" stroke="#231f20" stroke-width="1"/>
<text x="383.40" y="131.10" font-size="8.6" text-anchor="end" fill="#231f20" textLength="23.20" lengthAdjust="spacingAndGlyphs" transform="rotate(-45 383.40 131.10)">IgG 19-</text>
<line x1="401.50" y1="122.80" x2="401.50" y2="125.40" stroke="#231f20" stroke-width="1"/>
<text x="404.30" y="131.10" font-size="8.6" text-anchor="end" fill="#231f20" textLength="23.20" lengthAdjust="spacingAndGlyphs" transform="rotate(-45 404.30 131.10)">IgG 19+</text>
<line x1="422.30" y1="122.80" x2="422.30" y2="125.40" stroke="#231f20" stroke-width="1"/>
<text x="425.10" y="131.10" font-size="8.6" text-anchor="end" fill="#231f20" textLength="23.20" lengthAdjust="spacingAndGlyphs" transform="rotate(-45 425.10 131.10)">IgM 19-</text>
<line x1="442.60" y1="122.80" x2="442.60" y2="125.40" stroke="#231f20" stroke-width="1"/>
<text x="445.40" y="131.10" font-size="8.6" text-anchor="end" fill="#231f20" textLength="23.20" lengthAdjust="spacingAndGlyphs" transform="rotate(-45 445.40 131.10)">IgM 19+</text>
<line x1="463.40" y1="122.80" x2="463.40" y2="125.40" stroke="#231f20" stroke-width="1"/>
<text x="466.20" y="131.10" font-size="8.6" text-anchor="end" fill="#231f20" textLength="23.20" lengthAdjust="spacingAndGlyphs" transform="rotate(-45 466.20 131.10)">IgA 19-</text>
<line x1="484.10" y1="122.80" x2="484.10" y2="125.40" stroke="#231f20" stroke-width="1"/>
<text x="486.90" y="131.10" font-size="8.6" text-anchor="end" fill="#231f20" textLength="23.20" lengthAdjust="spacingAndGlyphs" transform="rotate(-45 486.90 131.10)">IgA 19+</text>
<path d="M373.60,262.40V223.27H387.80V262.40" fill="#fff" stroke="#cc4a6c" stroke-width="1.2"/>
<path d="M394.40,262.40V233.22H408.60V262.40" fill="#fff" stroke="#cc4a6c" stroke-width="1.2"/>
<path d="M415.20,262.40V246.32H429.40V262.40" fill="#fff" stroke="#4a69a6" stroke-width="1.2"/>
<path d="M435.40,262.40V245.32H449.60V262.40" fill="#fff" stroke="#4a69a6" stroke-width="1.2"/>
<path d="M456.30,262.40V248.31H470.50V262.40" fill="#fff" stroke="#7fbf58" stroke-width="1.2"/>
<path d="M477.10,262.40V249.14H491.30V262.40" fill="#fff" stroke="#7fbf58" stroke-width="1.2"/>
<path d="M378.20,198.50L380.00,200.30L378.20,202.10L376.40,200.30Z" fill="none" stroke="#b80b3c" stroke-width="1.1"/>
<path d="M383.40,196.60L385.20,198.40L383.40,200.20L381.60,198.40Z" fill="none" stroke="#b80b3c" stroke-width="1.1"/>
<path d="M380.70,211.70L382.50,213.50L380.70,215.30L378.90,213.50Z" fill="none" stroke="#b80b3c" stroke-width="1.1"/>
<path d="M378.20,227.40L380.00,229.20L378.20,231.00L376.40,229.20Z" fill="none" stroke="#b80b3c" stroke-width="1.1"/>
<path d="M383.40,225.00L385.20,226.80L383.40,228.60L381.60,226.80Z" fill="none" stroke="#b80b3c" stroke-width="1.1"/>
<path d="M380.70,233.30L382.50,235.10L380.70,236.90L378.90,235.10Z" fill="none" stroke="#b80b3c" stroke-width="1.1"/>
<path d="M378.20,238.80L380.00,240.60L378.20,242.40L376.40,240.60Z" fill="none" stroke="#b80b3c" stroke-width="1.1"/>
<path d="M383.40,236.90L385.20,238.70L383.40,240.50L381.60,238.70Z" fill="none" stroke="#b80b3c" stroke-width="1.1"/>
<path d="M401.20,210.55L402.85,212.20L401.20,213.85L399.55,212.20Z" fill="#b80b3c"/>
<path d="M398.90,215.55L400.55,217.20L398.90,218.85L397.25,217.20Z" fill="#b80b3c"/>
<path d="M404.10,218.95L405.75,220.60L404.10,222.25L402.45,220.60Z" fill="#b80b3c"/>
<path d="M401.50,226.35L403.15,228.00L401.50,229.65L399.85,228.00Z" fill="#b80b3c"/>
<path d="M398.90,240.95L400.55,242.60L398.90,244.25L397.25,242.60Z" fill="#b80b3c"/>
<path d="M406.40,241.55L408.05,243.20L406.40,244.85L404.75,243.20Z" fill="#b80b3c"/>
<path d="M404.10,245.65L405.75,247.30L404.10,248.95L402.45,247.30Z" fill="#b80b3c"/>
<path d="M398.90,248.15L400.55,249.80L398.90,251.45L397.25,249.80Z" fill="#b80b3c"/>
<path d="M419.70,237.80L421.50,239.60L419.70,241.40L417.90,239.60Z" fill="none" stroke="#1f3f8c" stroke-width="1.1"/>
<path d="M424.60,235.40L426.40,237.20L424.60,239.00L422.80,237.20Z" fill="none" stroke="#1f3f8c" stroke-width="1.1"/>
<path d="M421.90,243.70L423.70,245.50L421.90,247.30L420.10,245.50Z" fill="none" stroke="#1f3f8c" stroke-width="1.1"/>
<path d="M417.50,247.70L419.30,249.50L417.50,251.30L415.70,249.50Z" fill="none" stroke="#1f3f8c" stroke-width="1.1"/>
<path d="M421.90,250.30L423.70,252.10L421.90,253.90L420.10,252.10Z" fill="none" stroke="#1f3f8c" stroke-width="1.1"/>
<path d="M426.40,250.30L428.20,252.10L426.40,253.90L424.60,252.10Z" fill="none" stroke="#1f3f8c" stroke-width="1.1"/>
<path d="M442.50,228.35L444.15,230.00L442.50,231.65L440.85,230.00Z" fill="#1f3f8c"/>
<path d="M442.50,238.35L444.15,240.00L442.50,241.65L440.85,240.00Z" fill="#1f3f8c"/>
<path d="M442.50,244.65L444.15,246.30L442.50,247.95L440.85,246.30Z" fill="#1f3f8c"/>
<path d="M445.30,251.45L446.95,253.10L445.30,254.75L443.65,253.10Z" fill="#1f3f8c"/>
<path d="M440.30,253.65L441.95,255.30L440.30,256.95L438.65,255.30Z" fill="#1f3f8c"/>
<path d="M463.50,229.50L465.30,231.30L463.50,233.10L461.70,231.30Z" fill="none" stroke="#54a82e" stroke-width="1.1"/>
<path d="M460.60,235.50L462.40,237.30L460.60,239.10L458.80,237.30Z" fill="none" stroke="#54a82e" stroke-width="1.1"/>
<path d="M466.00,239.70L467.80,241.50L466.00,243.30L464.20,241.50Z" fill="none" stroke="#54a82e" stroke-width="1.1"/>
<path d="M458.50,253.50L460.30,255.30L458.50,257.10L456.70,255.30Z" fill="none" stroke="#54a82e" stroke-width="1.1"/>
<path d="M461.50,255.70L463.30,257.50L461.50,259.30L459.70,257.50Z" fill="none" stroke="#54a82e" stroke-width="1.1"/>
<path d="M465.30,254.20L467.10,256.00L465.30,257.80L463.50,256.00Z" fill="none" stroke="#54a82e" stroke-width="1.1"/>
<path d="M468.80,252.00L470.60,253.80L468.80,255.60L467.00,253.80Z" fill="none" stroke="#54a82e" stroke-width="1.1"/>
<path d="M484.00,225.65L485.65,227.30L484.00,228.95L482.35,227.30Z" fill="#54a82e"/>
<path d="M481.30,243.65L482.95,245.30L481.30,246.95L479.65,245.30Z" fill="#54a82e"/>
<path d="M486.50,248.65L488.15,250.30L486.50,251.95L484.85,250.30Z" fill="#54a82e"/>
<path d="M489.40,250.85L491.05,252.50L489.40,254.15L487.75,252.50Z" fill="#54a82e"/>
<path d="M478.50,252.35L480.15,254.00L478.50,255.65L476.85,254.00Z" fill="#54a82e"/>
<path d="M485.60,253.15L487.25,254.80L485.60,256.45L483.95,254.80Z" fill="#54a82e"/>
<path d="M482.30,254.65L483.95,256.30L482.30,257.95L480.65,256.30Z" fill="#54a82e"/>
<path d="M380.70,216.60V229.20M377.10,216.60H384.30M377.10,229.20H384.30" stroke="#555555" stroke-width="0.9" fill="none"/>
<path d="M401.50,227.60V237.70M397.90,227.60H405.10M397.90,237.70H405.10" stroke="#555555" stroke-width="0.9" fill="none"/>
<path d="M422.30,243.60V248.80M418.70,243.60H425.90M418.70,248.80H425.90" stroke="#555555" stroke-width="0.9" fill="none"/>
<path d="M442.50,240.40V249.40M438.90,240.40H446.10M438.90,249.40H446.10" stroke="#555555" stroke-width="0.9" fill="none"/>
<path d="M463.40,243.50V251.60M459.80,243.50H467.00M459.80,251.60H467.00" stroke="#555555" stroke-width="0.9" fill="none"/>
<path d="M484.20,245.00V252.30M480.60,245.00H487.80M480.60,252.30H487.80" stroke="#555555" stroke-width="0.9" fill="none"/>
<line x1="370.10" y1="177.00" x2="370.10" y2="263.00" stroke="#231f20" stroke-width="1.1"/>
<line x1="366.90" y1="262.40" x2="493.30" y2="262.40" stroke="#2a2a2a" stroke-width="1.5"/>
<line x1="366.50" y1="262.40" x2="370.10" y2="262.40" stroke="#231f20" stroke-width="1"/>
<text x="363.70" y="265.15" font-size="7.8" text-anchor="end" fill="#231f20" textLength="4.30" lengthAdjust="spacingAndGlyphs">0</text>
<line x1="366.50" y1="245.82" x2="370.10" y2="245.82" stroke="#231f20" stroke-width="1"/>
<text x="363.70" y="248.57" font-size="7.8" text-anchor="end" fill="#231f20" textLength="8.60" lengthAdjust="spacingAndGlyphs">50</text>
<line x1="366.50" y1="229.24" x2="370.10" y2="229.24" stroke="#231f20" stroke-width="1"/>
<text x="363.70" y="231.99" font-size="7.8" text-anchor="end" fill="#231f20" textLength="12.30" lengthAdjust="spacingAndGlyphs">100</text>
<line x1="366.50" y1="212.66" x2="370.10" y2="212.66" stroke="#231f20" stroke-width="1"/>
<text x="363.70" y="215.41" font-size="7.8" text-anchor="end" fill="#231f20" textLength="12.30" lengthAdjust="spacingAndGlyphs">150</text>
<line x1="366.50" y1="196.08" x2="370.10" y2="196.08" stroke="#231f20" stroke-width="1"/>
<text x="363.70" y="198.83" font-size="7.8" text-anchor="end" fill="#231f20" textLength="12.30" lengthAdjust="spacingAndGlyphs">200</text>
<line x1="366.50" y1="179.50" x2="370.10" y2="179.50" stroke="#231f20" stroke-width="1"/>
<text x="363.70" y="182.25" font-size="7.8" text-anchor="end" fill="#231f20" textLength="12.30" lengthAdjust="spacingAndGlyphs">250</text>
<line x1="380.70" y1="262.40" x2="380.70" y2="265.00" stroke="#231f20" stroke-width="1"/>
<text x="383.50" y="270.70" font-size="8.6" text-anchor="end" fill="#231f20" textLength="23.20" lengthAdjust="spacingAndGlyphs" transform="rotate(-45 383.50 270.70)">IgG 19-</text>
<line x1="401.50" y1="262.40" x2="401.50" y2="265.00" stroke="#231f20" stroke-width="1"/>
<text x="404.30" y="270.70" font-size="8.6" text-anchor="end" fill="#231f20" textLength="23.20" lengthAdjust="spacingAndGlyphs" transform="rotate(-45 404.30 270.70)">IgG 19+</text>
<line x1="422.30" y1="262.40" x2="422.30" y2="265.00" stroke="#231f20" stroke-width="1"/>
<text x="425.10" y="270.70" font-size="8.6" text-anchor="end" fill="#231f20" textLength="23.20" lengthAdjust="spacingAndGlyphs" transform="rotate(-45 425.10 270.70)">IgM 19-</text>
<line x1="442.50" y1="262.40" x2="442.50" y2="265.00" stroke="#231f20" stroke-width="1"/>
<text x="445.30" y="270.70" font-size="8.6" text-anchor="end" fill="#231f20" textLength="23.20" lengthAdjust="spacingAndGlyphs" transform="rotate(-45 445.30 270.70)">IgM 19+</text>
<line x1="463.40" y1="262.40" x2="463.40" y2="265.00" stroke="#231f20" stroke-width="1"/>
<text x="466.20" y="270.70" font-size="8.6" text-anchor="end" fill="#231f20" textLength="23.20" lengthAdjust="spacingAndGlyphs" transform="rotate(-45 466.20 270.70)">IgA 19-</text>
<line x1="484.20" y1="262.40" x2="484.20" y2="265.00" stroke="#231f20" stroke-width="1"/>
<text x="487.00" y="270.70" font-size="8.6" text-anchor="end" fill="#231f20" textLength="23.20" lengthAdjust="spacingAndGlyphs" transform="rotate(-45 487.00 270.70)">IgA 19+</text>
<defs><filter id="fb" x="-20%" y="-20%" width="140%" height="140%"><feGaussianBlur stdDeviation="0.3"/></filter></defs>
<text x="87.30" y="32.00" font-size="7.6" text-anchor="middle" fill="#231f20" textLength="28.80" lengthAdjust="spacingAndGlyphs">Cyto IgG</text>
<text x="169.20" y="32.00" font-size="7.6" text-anchor="middle" fill="#231f20" textLength="30.00" lengthAdjust="spacingAndGlyphs">Cyto IgM</text>
<text x="252.40" y="32.00" font-size="7.6" text-anchor="middle" fill="#231f20" textLength="28.80" lengthAdjust="spacingAndGlyphs">Cyto IgA</text>
<text x="20.40" y="64.40" font-size="8.4" text-anchor="middle" fill="#231f20" textLength="17.00" lengthAdjust="spacingAndGlyphs">Bone</text>
<text x="20.90" y="73.60" font-size="8.4" text-anchor="middle" fill="#231f20" textLength="26.20" lengthAdjust="spacingAndGlyphs">Marrow</text>
<text x="21.50" y="153.40" font-size="8.4" text-anchor="middle" fill="#231f20" textLength="23.00" lengthAdjust="spacingAndGlyphs">Spleen</text>
<g filter="url(#fb)"><path d="M95.5,76.0L94.0,76.2L90.8,75.9L87.8,76.2L86.0,75.9L84.5,75.1L83.3,74.0L82.3,72.8L81.4,71.0L80.6,68.8L80.2,66.0L80.2,63.5L80.6,60.8L81.3,58.5L82.6,56.2L84.0,54.7L85.8,53.6L87.8,53.2L91.0,53.5L94.5,53.3L96.0,53.5L97.2,54.2L98.6,55.2L99.7,56.8L100.7,58.5L101.4,61.0L101.8,64.0L101.7,67.0L101.2,69.5L100.1,72.0L98.9,73.8L97.5,75.1L95.5,76.0ZM74.8,75.0L73.8,74.8L72.2,73.5L71.8,73.3L71.0,73.5L68.2,74.9L67.2,75.0L66.0,74.8L65.0,74.4L64.0,73.7L63.1,72.8L62.3,71.5L61.6,69.5L61.1,66.8L61.0,64.0L61.3,60.8L61.8,58.5L62.4,57.0L63.3,55.8L64.5,54.9L65.8,54.6L67.2,54.6L68.5,54.8L69.8,55.4L71.1,56.8L73.2,59.7L75.5,61.3L76.5,62.8L77.0,64.2L77.4,66.2L77.5,68.2L77.3,70.2L77.0,72.0L76.4,73.5L75.5,74.6L74.8,75.0ZM95.0,90.5L91.0,90.4L87.5,90.5L85.0,90.1L83.8,89.6L82.5,88.8L80.0,86.2L79.2,85.8L78.8,86.0L77.2,87.3L76.0,87.9L73.2,88.3L69.0,89.6L67.5,89.7L66.2,89.6L65.0,89.1L64.0,88.6L62.5,87.0L61.7,85.0L61.6,83.8L61.8,82.8L62.4,81.2L63.5,80.0L65.0,79.1L66.8,78.7L68.5,78.7L72.8,79.7L75.8,79.9L77.2,80.7L78.8,82.1L79.2,82.3L79.8,82.1L83.0,79.2L84.5,78.4L86.0,77.9L87.8,77.6L90.8,77.9L94.0,77.6L95.8,77.8L98.5,78.9L100.2,80.3L101.5,82.2L101.8,84.5L101.6,85.8L101.2,86.8L99.8,88.6L97.8,89.9L95.0,90.5Z" fill="#6a6a6a" fill-opacity="0.070" stroke="#555" stroke-opacity="0.52" stroke-width="0.45"/><path d="M95.5,74.8L94.0,75.0L90.8,74.7L88.0,74.9L86.5,74.7L85.2,74.2L84.2,73.5L83.2,72.4L82.4,71.0L81.6,69.0L81.1,66.8L81.0,64.5L81.2,62.0L81.8,59.8L82.8,57.8L84.0,56.2L85.5,55.0L86.5,54.6L87.8,54.5L91.0,54.7L94.0,54.5L95.2,54.6L96.5,55.0L97.8,55.9L98.8,57.0L99.7,58.5L100.6,61.0L101.0,63.2L101.0,65.8L100.6,68.5L99.8,70.8L98.8,72.5L97.2,74.0L95.5,74.8ZM68.0,73.8L67.0,73.9L65.8,73.7L64.0,72.7L63.2,71.8L62.6,70.8L61.9,68.0L61.7,62.5L62.2,59.0L62.7,57.8L63.5,56.5L64.5,55.7L65.5,55.4L66.8,55.5L68.5,56.0L69.5,56.5L70.5,57.4L71.6,59.0L72.6,61.0L73.6,63.2L74.0,65.0L73.9,67.8L73.6,69.0L73.0,70.0L69.8,72.9L68.0,73.8ZM95.5,89.8L87.2,89.9L85.8,89.6L84.2,89.1L82.4,87.8L81.0,85.8L80.4,84.0L80.8,82.5L81.8,81.1L83.2,79.9L84.8,79.1L86.2,78.6L87.8,78.5L91.0,78.6L94.5,78.5L96.0,78.7L97.8,79.3L99.2,80.3L100.4,81.8L101.0,83.5L100.9,85.2L100.3,86.8L99.0,88.2L97.5,89.2L95.5,89.8ZM69.0,88.8L67.0,88.8L65.2,88.3L63.8,87.2L62.8,85.8L62.4,84.0L62.7,82.2L63.7,80.8L65.0,79.8L67.2,79.4L69.8,79.8L72.2,81.0L73.0,81.8L73.7,82.8L73.9,83.8L73.9,84.8L73.6,85.8L73.1,86.5L71.2,87.9L69.0,88.8Z" fill="#6a6a6a" fill-opacity="0.070" stroke="#555" stroke-opacity="0.52" stroke-width="0.45"/><path d="M94.2,74.0L91.0,73.7L87.8,73.9L86.5,73.7L85.5,73.2L84.5,72.4L83.5,71.3L82.8,70.0L82.1,68.0L81.7,65.8L81.7,63.8L82.1,61.5L82.6,59.8L83.6,58.0L84.8,56.7L86.0,55.9L87.8,55.5L91.0,55.7L94.0,55.5L95.2,55.7L96.5,56.2L97.5,57.0L98.5,58.1L99.3,59.5L100.1,62.0L100.4,64.5L100.2,67.2L99.6,69.8L98.7,71.5L97.5,72.9L96.0,73.7L94.2,74.0ZM68.0,72.8L66.0,73.0L65.0,72.7L64.2,72.2L63.0,70.5L62.4,68.2L62.2,62.2L62.4,59.8L62.8,58.5L63.5,57.3L64.2,56.6L65.2,56.1L66.2,56.1L67.5,56.5L69.0,57.3L70.0,58.1L70.9,59.2L71.6,60.8L72.5,63.8L72.6,66.5L71.9,69.0L71.1,70.2L70.0,71.5L69.0,72.3L68.0,72.8ZM95.0,89.3L87.5,89.3L86.0,89.1L84.8,88.7L83.1,87.5L81.7,85.8L81.1,84.0L81.4,82.5L82.2,81.4L83.5,80.3L84.8,79.6L86.5,79.1L88.2,79.0L91.2,79.1L94.8,79.1L96.2,79.3L97.5,79.8L99.0,80.9L99.9,82.2L100.3,83.8L100.2,85.2L99.5,86.8L98.3,88.0L96.8,88.9L95.0,89.3ZM68.5,88.0L67.0,88.0L65.5,87.5L64.2,86.6L63.4,85.2L63.1,83.8L63.4,82.2L64.2,81.0L65.5,80.2L67.5,79.9L69.5,80.3L71.5,81.8L72.3,83.0L72.5,83.8L72.5,84.8L71.8,86.2L70.2,87.5L68.5,88.0Z" fill="#6a6a6a" fill-opacity="0.070" stroke="#555" stroke-opacity="0.52" stroke-width="0.45"/><path d="M95.0,73.3L91.0,72.8L88.0,72.8L86.8,72.6L85.0,71.6L83.7,70.0L83.0,68.2L82.5,66.5L82.4,64.5L82.6,62.8L83.0,61.0L83.8,59.4L84.8,58.0L85.8,57.2L86.8,56.8L88.0,56.6L94.8,56.7L95.8,57.0L96.8,57.6L98.3,59.5L99.2,61.5L99.6,64.0L99.7,66.5L99.3,68.8L98.6,70.8L97.8,71.9L96.5,72.8L95.0,73.3ZM67.2,72.0L66.2,72.2L65.5,72.1L64.2,71.4L63.2,69.8L62.8,67.8L62.6,62.0L62.9,59.8L63.3,58.5L64.0,57.6L64.8,57.0L65.5,56.8L66.2,56.8L67.3,57.2L68.8,58.2L69.8,59.1L71.0,61.2L71.7,64.0L71.6,66.8L70.8,69.0L69.2,71.0L67.2,72.0ZM95.8,88.5L94.0,88.7L87.8,88.7L85.2,88.2L83.5,87.1L82.1,85.5L81.6,84.0L81.8,82.8L82.5,81.8L83.8,80.7L85.2,79.9L86.8,79.5L88.5,79.3L94.2,79.5L96.8,80.1L98.0,80.8L98.9,81.8L99.5,83.0L99.6,84.5L99.3,85.8L98.5,87.0L97.2,88.0L95.8,88.5ZM68.2,87.0L66.8,87.1L65.5,86.7L64.5,85.9L63.9,85.0L63.7,83.8L63.9,82.5L64.6,81.5L65.5,80.9L67.5,80.4L69.0,80.6L70.2,81.5L70.9,82.8L71.2,84.2L70.8,85.5L69.8,86.5L68.2,87.0Z" fill="#6a6a6a" fill-opacity="0.070" stroke="#555" stroke-opacity="0.52" stroke-width="0.45"/><path d="M67.0,71.3L65.8,71.4L64.5,70.8L63.7,69.5L63.2,67.5L63.1,62.0L63.3,60.2L63.7,59.0L64.2,58.2L64.8,57.8L65.5,57.5L66.2,57.6L67.1,58.0L69.3,60.0L70.3,61.8L70.9,64.0L70.8,66.2L70.1,68.2L68.8,70.0L67.0,71.3ZM96.0,72.5L94.2,72.7L91.0,72.0L87.2,71.6L86.0,71.0L84.8,69.8L84.0,68.5L83.5,67.0L83.2,65.5L83.3,63.8L83.5,62.2L84.0,60.8L84.8,59.5L85.8,58.6L86.8,58.0L88.0,57.7L93.8,57.7L95.8,58.2L97.2,59.6L98.2,61.2L98.8,63.2L99.1,65.2L99.0,67.5L98.7,69.5L98.1,70.8L97.2,71.8L96.0,72.5ZM95.0,88.0L88.0,88.1L85.5,87.6L84.0,86.8L82.7,85.5L82.1,84.2L82.2,83.0L82.8,82.0L83.8,81.2L85.2,80.3L86.8,79.8L88.5,79.7L94.0,79.9L96.2,80.4L97.5,81.1L98.4,82.0L98.9,83.2L98.9,84.5L98.5,85.8L97.7,86.8L96.5,87.6L95.0,88.0ZM67.2,86.3L66.0,86.2L64.8,85.5L64.3,84.5L64.3,83.2L64.8,82.2L65.8,81.5L67.2,80.9L68.5,80.9L69.2,81.2L69.8,81.8L70.0,82.5L69.9,83.2L69.0,85.2L68.2,85.9L67.2,86.3Z" fill="#6a6a6a" fill-opacity="0.070" stroke="#555" stroke-opacity="0.52" stroke-width="0.45"/><path d="M66.5,70.6L65.5,70.5L64.5,69.8L63.9,68.5L63.7,67.0L63.6,62.2L63.8,60.7L64.5,59.1L65.0,58.7L65.8,58.4L67.0,58.8L68.9,60.8L69.7,62.2L70.1,64.2L69.9,66.2L69.4,67.8L67.8,69.8L66.5,70.6ZM96.0,72.0L95.0,72.2L94.0,72.2L88.5,70.6L86.8,69.9L85.5,68.8L84.5,66.7L84.3,64.0L84.5,62.7L85.0,61.5L86.2,59.9L87.2,59.3L88.5,58.9L90.2,58.7L92.2,58.7L93.8,59.0L95.0,59.4L95.9,60.0L96.7,60.8L97.6,62.2L98.2,64.0L98.5,65.8L98.5,67.8L98.3,69.2L97.8,70.5L97.0,71.4L96.0,72.0ZM93.2,87.5L88.0,87.5L86.5,87.3L85.2,86.9L84.0,86.2L83.0,85.1L82.6,84.0L82.7,83.0L83.4,82.0L84.5,81.1L85.8,80.4L87.0,80.1L88.8,80.0L94.0,80.3L96.0,80.7L97.2,81.5L98.0,82.5L98.2,83.8L97.9,85.0L97.2,86.0L96.2,86.8L95.0,87.3L93.2,87.5ZM67.2,85.5L66.2,85.6L65.4,85.2L64.9,84.5L64.9,83.5L65.4,82.8L67.0,81.6L68.2,81.3L69.1,81.8L69.4,82.2L69.4,82.8L68.0,85.0L67.2,85.5Z" fill="#6a6a6a" fill-opacity="0.070" stroke="#555" stroke-opacity="0.52" stroke-width="0.45"/><path d="M66.8,69.5L65.8,69.5L65.0,68.9L64.4,67.8L64.2,66.2L64.1,63.0L64.3,61.5L65.0,60.1L66.0,59.4L67.0,59.7L68.3,61.0L69.1,62.5L69.5,64.0L69.4,65.5L68.9,67.0L68.0,68.5L66.8,69.5ZM95.2,71.8L93.5,71.6L89.8,70.2L88.1,69.2L86.8,67.8L86.0,65.8L86.1,63.8L86.8,62.0L88.4,60.5L90.5,59.8L92.8,60.0L95.2,61.1L96.2,62.0L97.0,63.0L97.6,64.2L97.9,65.5L98.1,67.2L98.0,68.8L97.7,69.8L97.1,70.8L96.2,71.4L95.2,71.8ZM91.5,87.0L87.2,86.9L86.0,86.6L84.8,86.1L83.8,85.4L83.2,84.5L83.0,83.8L83.3,82.8L84.0,81.9L85.0,81.1L86.2,80.6L87.8,80.3L94.5,80.7L95.8,81.1L96.8,81.8L97.3,82.5L97.5,83.5L97.2,84.2L96.5,85.2L95.5,85.9L94.2,86.5L91.5,87.0ZM66.8,84.5L66.0,84.2L65.9,83.8L67.2,82.3L68.0,82.2L68.4,82.5L68.4,83.0L67.2,84.2L66.8,84.5Z" fill="#6a6a6a" fill-opacity="0.070" stroke="#555" stroke-opacity="0.52" stroke-width="0.45"/><path d="M66.5,68.5L65.8,68.2L65.0,67.0L64.7,65.8L64.6,64.2L64.7,62.8L65.1,61.8L65.8,60.8L66.5,60.5L67.2,60.8L68.2,62.0L68.7,63.2L68.9,64.5L68.7,65.8L68.1,67.2L67.2,68.2L66.5,68.5ZM95.5,71.3L93.8,71.2L90.7,70.0L89.1,69.0L88.1,67.8L87.6,66.0L87.8,63.8L88.5,62.2L89.8,61.1L90.5,60.8L91.5,60.7L93.2,61.1L95.5,62.5L96.8,64.0L97.5,66.2L97.7,68.5L97.4,69.5L97.0,70.2L96.2,70.9L95.5,71.3ZM92.0,86.3L90.5,86.5L88.2,86.4L85.5,86.0L84.5,85.4L83.8,84.8L83.6,84.0L83.7,83.0L84.4,82.0L85.2,81.3L86.5,80.8L87.8,80.6L94.2,81.0L95.5,81.4L96.4,82.0L96.7,82.5L96.8,83.2L96.3,84.2L95.2,84.9L92.0,86.3Z" fill="#6a6a6a" fill-opacity="0.070" stroke="#555" stroke-opacity="0.52" stroke-width="0.45"/><path d="M66.8,67.3L66.2,67.2L65.8,66.6L65.4,65.8L65.2,64.5L65.5,62.6L66.0,61.8L66.5,61.6L67.0,61.8L67.5,62.5L67.9,64.5L67.7,66.2L67.2,67.0L66.8,67.3ZM95.5,70.8L94.2,70.9L93.0,70.6L90.4,69.2L89.1,68.0L88.5,66.5L88.5,64.8L89.0,63.1L90.0,62.0L91.5,61.6L93.0,61.9L95.0,63.0L96.2,64.2L97.1,66.5L97.3,68.2L96.8,69.8L95.5,70.8ZM91.0,85.8L87.8,86.0L85.5,85.5L84.8,85.0L84.3,84.5L84.1,83.8L84.2,83.0L84.7,82.2L85.6,81.5L86.5,81.1L87.8,80.9L93.8,81.4L95.0,81.7L95.8,82.2L96.0,82.8L96.0,83.2L95.4,84.0L93.8,84.8L91.0,85.8Z" fill="#6a6a6a" fill-opacity="0.070" stroke="#555" stroke-opacity="0.52" stroke-width="0.45"/><path d="M95.2,70.3L94.0,70.4L92.8,70.0L90.8,68.9L89.6,67.8L89.0,66.2L89.1,64.8L89.6,63.5L90.5,62.5L91.8,62.2L93.2,62.6L94.8,63.5L95.8,64.8L96.7,66.8L96.9,68.2L96.4,69.5L95.2,70.3ZM89.5,85.5L87.0,85.4L85.5,85.0L84.7,84.0L84.7,83.2L84.9,82.5L85.7,81.8L86.5,81.4L88.8,81.1L91.2,81.3L93.4,81.8L94.6,82.2L95.0,82.8L94.9,83.5L93.8,84.2L91.2,85.2L89.5,85.5Z" fill="#e4e4e4" fill-opacity="0.55" stroke="#555" stroke-opacity="0.52" stroke-width="0.45"/></g>
<rect x="62.4" y="87.3" width="0.55" height="0.55" fill="#888" fill-opacity="0.5"/><rect x="73.7" y="61.2" width="0.55" height="0.55" fill="#888" fill-opacity="0.5"/><rect x="68.9" y="69.8" width="0.55" height="0.55" fill="#888" fill-opacity="0.5"/><rect x="71.7" y="84.7" width="0.55" height="0.55" fill="#888" fill-opacity="0.5"/><rect x="61.7" y="51.2" width="0.55" height="0.55" fill="#888" fill-opacity="0.5"/><rect x="75.0" y="69.0" width="0.55" height="0.55" fill="#888" fill-opacity="0.5"/><rect x="73.7" y="50.1" width="0.55" height="0.55" fill="#888" fill-opacity="0.5"/><rect x="68.0" y="81.7" width="0.55" height="0.55" fill="#888" fill-opacity="0.5"/><rect x="64.1" y="91.6" width="0.55" height="0.55" fill="#888" fill-opacity="0.5"/><rect x="76.2" y="51.3" width="0.55" height="0.55" fill="#888" fill-opacity="0.5"/><rect x="60.5" y="73.8" width="0.55" height="0.55" fill="#888" fill-opacity="0.5"/><rect x="76.9" y="66.8" width="0.55" height="0.55" fill="#888" fill-opacity="0.5"/><rect x="63.9" y="68.6" width="0.55" height="0.55" fill="#888" fill-opacity="0.5"/><rect x="60.5" y="59.8" width="0.55" height="0.55" fill="#888" fill-opacity="0.5"/>
<path d="M58.50,37.50H117.20V96.20" fill="none" stroke="#c8c8c8" stroke-width="0.7"/>
<line x1="78.50" y1="37.50" x2="78.50" y2="96.20" stroke="#4a4a4a" stroke-width="0.9"/>
<line x1="58.50" y1="76.20" x2="117.20" y2="76.20" stroke="#4a4a4a" stroke-width="0.9"/>
<line x1="58.50" y1="37.50" x2="58.50" y2="96.60" stroke="#555" stroke-width="0.8"/>
<line x1="58.10" y1="96.20" x2="117.20" y2="96.20" stroke="#555" stroke-width="0.8"/>
<line x1="57.10" y1="43.10" x2="58.50" y2="43.10" stroke="#666" stroke-width="0.5"/>
<text x="47.40" y="44.90" font-size="5.0" fill="#231f20">10<tspan font-size="3.0" dy="-2.2">5</tspan></text>
<line x1="57.10" y1="57.13" x2="58.50" y2="57.13" stroke="#666" stroke-width="0.5"/>
<text x="47.40" y="58.93" font-size="5.0" fill="#231f20">10<tspan font-size="3.0" dy="-2.2">4</tspan></text>
<line x1="57.10" y1="70.39" x2="58.50" y2="70.39" stroke="#666" stroke-width="0.5"/>
<text x="47.40" y="72.19" font-size="5.0" fill="#231f20">10<tspan font-size="3.0" dy="-2.2">3</tspan></text>
<line x1="57.10" y1="83.78" x2="58.50" y2="83.78" stroke="#666" stroke-width="0.5"/>
<text x="47.40" y="85.58" font-size="5.0" fill="#231f20">10<tspan font-size="3.0" dy="-2.2">2</tspan></text>
<line x1="57.10" y1="90.29" x2="58.50" y2="90.29" stroke="#666" stroke-width="0.5"/>
<text x="53.90" y="92.09" font-size="5.0" text-anchor="end" fill="#231f20">0</text>
<line x1="70.08" y1="96.20" x2="70.08" y2="97.40" stroke="#666" stroke-width="0.5"/>
<text x="67.48" y="105.40" font-size="5.0" fill="#231f20">10<tspan font-size="3.0" dy="-2.2">2</tspan></text>
<line x1="84.87" y1="96.20" x2="84.87" y2="97.40" stroke="#666" stroke-width="0.5"/>
<text x="82.27" y="105.40" font-size="5.0" fill="#231f20">10<tspan font-size="3.0" dy="-2.2">3</tspan></text>
<line x1="98.37" y1="96.20" x2="98.37" y2="97.40" stroke="#666" stroke-width="0.5"/>
<text x="95.77" y="105.40" font-size="5.0" fill="#231f20">10<tspan font-size="3.0" dy="-2.2">4</tspan></text>
<line x1="111.11" y1="96.20" x2="111.11" y2="97.40" stroke="#666" stroke-width="0.5"/>
<text x="108.51" y="105.40" font-size="5.0" fill="#231f20">10<tspan font-size="3.0" dy="-2.2">5</tspan></text>
<text x="64.25" y="105.40" font-size="5.0" text-anchor="middle" fill="#231f20">0</text>
<text x="87.85" y="114.40" font-size="8.0" text-anchor="middle" fill="#231f20" textLength="17.20" lengthAdjust="spacingAndGlyphs">CD19</text>
<text x="41.50" y="65.09" font-size="7.6" text-anchor="middle" fill="#231f20" textLength="10.40" lengthAdjust="spacingAndGlyphs" transform="rotate(-90 41.50 65.09)">IgG</text>
<g filter="url(#fb)"><path d="M149.4,59.8L148.4,59.6L147.4,59.2L145.9,57.8L145.1,56.5L144.6,55.2L144.3,52.8L144.7,50.2L145.7,48.0L146.4,47.2L147.4,46.4L148.4,46.0L149.4,45.8L150.4,46.0L151.4,46.4L152.4,47.1L153.3,48.0L154.4,50.2L154.8,53.2L154.4,55.8L153.3,57.8L151.4,59.3L150.4,59.6L149.4,59.8Z" fill="#888" fill-opacity="0.02" stroke="#6a6a6a" stroke-opacity="0.50" stroke-width="0.45"/><path d="M150.4,58.5L148.7,58.5L147.0,57.5L145.8,55.8L145.3,53.8L145.3,51.5L146.1,49.2L147.4,47.7L148.2,47.3L149.2,47.1L150.7,47.3L152.2,48.3L153.6,50.5L154.1,52.5L154.1,54.5L153.4,56.2L152.2,57.6L150.4,58.5Z" fill="#888" fill-opacity="0.02" stroke="#6a6a6a" stroke-opacity="0.50" stroke-width="0.45"/><path d="M150.9,57.6L149.7,57.6L148.2,57.0L147.1,55.8L146.4,54.0L146.3,52.2L146.8,50.5L147.7,49.2L148.9,48.6L150.2,48.6L151.4,49.3L152.7,50.7L153.3,52.2L153.4,53.8L153.1,55.2L152.1,56.8L150.9,57.6Z" fill="#888" fill-opacity="0.02" stroke="#6a6a6a" stroke-opacity="0.50" stroke-width="0.45"/><path d="M150.9,57.0L149.9,57.1L148.9,56.5L148.1,55.5L147.6,54.2L147.6,53.0L147.9,51.7L148.7,50.7L149.7,50.3L150.7,50.4L151.7,50.9L152.3,51.8L152.7,52.8L152.7,54.0L152.3,55.5L151.7,56.5L150.9,57.0Z" fill="#888" fill-opacity="0.02" stroke="#6a6a6a" stroke-opacity="0.50" stroke-width="0.45"/></g>
<g filter="url(#fb)"><path d="M174.9,65.8L173.9,65.6L173.1,65.0L172.4,64.0L171.7,62.2L171.0,61.5L167.4,60.4L164.7,58.8L163.0,57.0L162.1,55.2L161.8,53.8L161.8,52.2L162.3,50.5L162.9,49.2L163.9,48.0L165.2,46.8L166.7,45.9L168.2,45.3L170.2,44.8L172.7,44.7L174.7,44.9L176.9,45.6L178.9,46.7L180.3,47.8L181.5,49.2L182.3,51.0L182.6,52.2L182.6,53.8L182.3,55.0L181.8,56.2L180.5,58.0L178.2,60.2L177.2,63.5L176.5,64.8L175.7,65.5L174.9,65.8Z" fill="#888" fill-opacity="0.02" stroke="#6a6a6a" stroke-opacity="0.50" stroke-width="0.45"/><path d="M174.9,63.8L174.2,63.8L173.7,63.4L172.4,61.2L171.6,60.5L167.9,59.4L165.4,58.0L164.1,56.8L163.2,55.2L162.9,54.0L163.0,52.8L163.4,51.2L164.0,50.0L165.7,48.0L166.9,47.1L168.4,46.4L170.4,45.9L172.2,45.8L173.9,45.9L175.9,46.4L177.4,47.1L179.0,48.2L180.1,49.5L180.9,51.0L181.2,53.2L181.0,54.5L180.6,55.8L179.6,57.2L177.4,59.5L176.0,63.0L175.4,63.6L174.9,63.8Z" fill="#888" fill-opacity="0.02" stroke="#6a6a6a" stroke-opacity="0.50" stroke-width="0.45"/><path d="M174.9,60.0L173.4,60.1L171.7,59.3L167.7,58.1L165.7,57.1L164.3,55.8L163.8,54.8L163.7,54.0L164.1,52.2L165.7,49.8L167.4,48.2L168.9,47.4L170.4,47.0L172.2,46.8L173.9,47.0L175.4,47.4L176.9,48.2L178.2,49.2L179.1,50.2L179.7,51.5L179.9,52.8L179.8,54.2L179.4,55.8L178.2,57.5L175.9,59.5L174.9,60.0Z" fill="#888" fill-opacity="0.02" stroke="#6a6a6a" stroke-opacity="0.50" stroke-width="0.45"/><path d="M175.2,58.5L173.7,58.7L169.9,57.9L167.4,57.2L166.2,56.6L165.2,55.7L164.6,54.5L164.6,53.2L165.1,52.2L165.9,51.2L167.9,49.5L170.2,48.4L171.7,48.1L173.2,48.2L174.7,48.6L175.9,49.2L177.0,50.0L177.9,51.2L178.5,53.0L178.7,54.5L178.4,55.8L177.8,56.8L176.4,57.9L175.2,58.5Z" fill="#888" fill-opacity="0.02" stroke="#6a6a6a" stroke-opacity="0.50" stroke-width="0.45"/><path d="M174.4,57.8L170.2,57.3L168.4,56.9L166.9,56.2L166.0,55.5L165.5,54.8L165.3,53.8L165.7,52.8L166.3,52.0L167.2,51.4L170.9,49.9L172.9,49.8L174.7,50.5L175.9,51.5L176.9,52.6L177.6,53.8L177.7,54.8L177.4,55.8L176.6,56.8L175.5,57.5L174.4,57.8Z" fill="#888" fill-opacity="0.02" stroke="#6a6a6a" stroke-opacity="0.50" stroke-width="0.45"/><path d="M174.2,57.0L170.9,56.9L169.2,56.6L167.9,56.1L167.0,55.5L166.4,54.8L166.2,53.8L166.4,53.0L167.4,52.1L169.2,51.8L174.2,52.4L175.4,52.8L176.4,53.8L176.6,55.0L176.3,55.8L175.7,56.4L174.2,57.0Z" fill="#888" fill-opacity="0.02" stroke="#6a6a6a" stroke-opacity="0.50" stroke-width="0.45"/></g>
<g filter="url(#fb)"><path d="M179.9,91.8L178.2,91.9L174.4,91.7L170.7,91.9L168.4,91.6L165.9,90.6L162.2,87.8L158.9,86.2L158.2,86.3L155.7,88.3L153.7,89.2L150.4,89.5L147.4,89.1L145.2,87.9L144.2,87.0L143.3,85.8L142.8,84.5L142.5,83.0L142.5,81.5L142.8,80.2L143.8,78.2L145.2,76.8L146.9,75.9L149.4,75.3L152.2,75.3L154.4,75.9L156.2,76.9L158.4,79.1L159.2,79.5L163.8,78.5L167.2,77.1L169.4,76.6L171.2,76.5L174.9,76.7L178.7,76.5L181.4,76.9L183.9,78.1L186.0,80.0L187.1,82.2L187.4,83.5L187.4,85.0L187.1,86.2L186.6,87.5L185.0,89.5L183.7,90.5L182.4,91.1L179.9,91.8Z" fill="#6a6a6a" fill-opacity="0.070" stroke="#555" stroke-opacity="0.52" stroke-width="0.45"/><path d="M151.7,88.8L148.9,88.7L146.4,87.8L144.6,86.2L143.6,84.2L143.3,83.0L143.3,81.8L144.0,79.5L145.4,77.6L146.4,76.9L147.7,76.4L149.2,76.0L151.2,76.0L153.2,76.3L154.7,76.9L155.7,77.5L156.7,78.5L159.6,82.8L159.6,83.0L157.1,86.0L155.7,87.3L153.7,88.4L151.7,88.8ZM179.4,91.0L174.7,90.9L170.4,91.1L168.9,90.9L167.4,90.4L165.2,89.0L161.7,85.8L160.5,84.2L159.7,83.0L159.7,82.8L161.0,81.2L162.3,80.2L166.4,78.2L168.7,77.5L170.7,77.2L174.7,77.5L178.9,77.3L180.7,77.6L182.2,78.1L184.2,79.4L185.7,81.2L186.4,83.2L186.3,85.5L185.5,87.5L183.9,89.2L181.9,90.4L179.4,91.0Z" fill="#6a6a6a" fill-opacity="0.070" stroke="#555" stroke-opacity="0.52" stroke-width="0.45"/><path d="M152.4,88.0L149.9,88.2L147.7,87.6L145.8,86.5L144.5,84.8L143.9,82.5L144.3,80.5L145.4,78.5L147.2,77.2L148.7,76.7L149.9,76.5L151.4,76.6L152.9,76.9L154.2,77.4L155.4,78.2L156.2,79.0L157.0,80.2L157.5,81.5L157.6,82.8L157.3,84.0L156.8,85.0L155.9,86.1L154.9,87.0L153.7,87.6L152.4,88.0ZM179.7,90.3L170.7,90.5L168.9,90.2L167.4,89.6L165.2,88.0L162.9,85.2L162.5,84.2L162.4,83.2L162.8,81.5L163.9,80.2L165.7,79.1L167.4,78.4L169.4,77.9L179.2,78.1L180.7,78.3L182.2,78.9L183.9,80.2L185.1,81.8L185.6,83.5L185.6,85.2L184.9,87.0L183.4,88.7L181.7,89.7L179.7,90.3Z" fill="#6a6a6a" fill-opacity="0.070" stroke="#555" stroke-opacity="0.52" stroke-width="0.45"/><path d="M151.7,87.5L149.4,87.5L147.4,86.8L145.9,85.5L144.8,83.5L144.5,81.8L145.1,80.0L146.4,78.3L147.9,77.4L149.2,77.1L150.4,77.0L152.9,77.5L155.0,78.8L155.8,79.8L156.4,80.8L156.6,81.8L156.7,83.0L156.4,84.0L155.9,85.0L155.2,85.8L154.2,86.6L152.9,87.2L151.7,87.5ZM172.4,90.0L170.2,89.9L168.2,89.3L166.5,88.2L164.5,86.0L163.6,84.5L163.4,82.8L163.8,81.5L165.0,80.2L166.4,79.3L168.2,78.7L169.7,78.4L171.4,78.3L180.2,78.9L182.2,79.8L183.8,81.2L184.7,83.0L184.8,85.0L184.1,86.8L182.7,88.3L181.2,89.1L179.7,89.6L175.2,89.7L172.4,90.0Z" fill="#6a6a6a" fill-opacity="0.070" stroke="#555" stroke-opacity="0.52" stroke-width="0.45"/><path d="M152.2,86.8L150.2,86.9L148.2,86.4L146.7,85.2L145.2,83.2L145.0,82.0L145.3,80.8L146.4,79.0L147.7,78.0L149.7,77.5L151.9,77.8L153.9,78.8L155.3,80.5L155.7,81.5L155.8,82.5L155.3,84.2L154.1,85.8L152.2,86.8ZM173.4,89.5L171.4,89.7L169.7,89.4L168.2,88.8L167.0,87.8L165.1,85.5L164.3,84.0L164.1,83.0L164.3,82.2L164.6,81.5L165.3,80.8L166.4,79.9L167.9,79.2L169.4,78.9L171.2,78.8L179.7,79.6L181.4,80.3L182.9,81.5L183.8,83.0L183.9,84.5L183.4,86.1L182.4,87.5L181.2,88.3L179.7,88.8L175.9,89.0L173.4,89.5Z" fill="#6a6a6a" fill-opacity="0.070" stroke="#555" stroke-opacity="0.52" stroke-width="0.45"/><path d="M150.9,86.3L149.4,86.1L148.3,85.5L146.2,83.7L145.5,82.5L145.5,81.2L146.2,80.0L147.4,78.7L148.9,78.0L150.7,78.0L152.4,78.6L153.8,79.8L154.7,81.5L154.6,83.2L153.9,84.8L152.7,85.8L150.9,86.3ZM172.9,89.3L171.4,89.4L169.9,89.2L168.7,88.6L167.8,87.8L165.6,85.0L165.0,83.8L165.0,82.2L165.4,81.5L166.2,80.8L167.3,80.0L168.7,79.5L170.2,79.3L171.9,79.3L179.4,80.5L180.9,81.1L182.2,82.2L182.8,83.5L182.8,84.8L182.3,86.0L181.4,87.0L179.4,87.9L176.2,88.4L172.9,89.3Z" fill="#6a6a6a" fill-opacity="0.070" stroke="#555" stroke-opacity="0.52" stroke-width="0.45"/><path d="M151.7,85.3L150.4,85.5L149.4,85.2L146.9,83.7L146.1,82.8L145.9,81.8L146.2,80.8L147.2,79.6L148.4,78.7L149.9,78.4L151.4,78.6L152.7,79.4L153.5,80.5L153.9,81.8L153.6,83.2L152.8,84.5L151.7,85.3ZM172.7,89.0L171.4,89.1L170.2,88.9L169.2,88.5L168.4,87.8L167.5,86.0L166.1,84.5L165.7,83.5L165.8,82.2L166.8,81.0L167.7,80.4L168.9,79.9L170.4,79.7L171.9,79.8L178.4,80.9L179.9,81.5L181.1,82.5L181.7,83.5L181.7,84.5L181.3,85.5L180.5,86.2L178.9,87.1L176.4,87.7L174.2,88.6L172.7,89.0Z" fill="#6a6a6a" fill-opacity="0.070" stroke="#555" stroke-opacity="0.52" stroke-width="0.45"/><path d="M151.2,84.3L149.9,84.3L147.7,83.5L146.9,83.0L146.6,82.5L146.4,81.8L146.6,81.0L146.9,80.5L148.4,79.4L149.7,78.9L151.2,79.0L152.4,79.8L153.2,81.0L153.2,82.2L152.4,83.5L151.2,84.3ZM172.2,88.8L170.1,88.5L169.2,88.0L168.8,87.5L168.2,85.8L166.9,84.4L166.5,83.5L166.6,82.2L167.5,81.2L168.4,80.7L169.7,80.3L172.4,80.3L177.9,81.4L179.4,82.0L180.2,82.8L180.6,83.5L180.7,84.2L180.4,85.0L179.7,85.8L178.4,86.5L175.9,87.2L173.9,88.3L172.2,88.8Z" fill="#6a6a6a" fill-opacity="0.070" stroke="#555" stroke-opacity="0.52" stroke-width="0.45"/><path d="M151.2,83.5L150.2,83.6L147.9,83.0L147.2,82.1L147.2,81.0L147.9,80.3L149.7,79.5L150.7,79.4L151.7,79.8L152.5,80.5L152.8,81.8L152.2,83.0L151.2,83.5ZM172.9,88.3L170.9,88.3L170.0,88.0L169.4,87.5L169.1,86.8L169.1,85.2L167.8,84.0L167.5,83.2L167.6,82.5L168.2,81.8L169.2,81.2L170.4,80.9L173.9,81.0L177.6,81.8L178.6,82.2L179.5,83.0L179.8,83.5L179.8,84.2L179.4,85.0L178.9,85.5L177.7,86.2L175.7,86.8L173.9,87.9L172.9,88.3Z" fill="#6a6a6a" fill-opacity="0.070" stroke="#555" stroke-opacity="0.52" stroke-width="0.45"/><path d="M151.2,83.1L149.9,83.1L148.4,82.6L147.8,81.8L147.9,81.0L148.7,80.5L150.2,79.9L150.9,79.9L151.7,80.2L152.2,80.8L152.4,81.8L151.9,82.6L151.2,83.1ZM173.2,87.8L172.2,87.9L171.2,87.9L170.4,87.6L169.9,87.1L169.8,86.2L170.3,85.2L170.4,84.8L169.4,83.8L169.2,83.2L169.3,82.8L169.8,82.2L170.7,81.8L171.7,81.5L174.4,81.4L177.1,82.0L178.7,83.0L179.0,83.5L179.0,84.2L178.3,85.2L177.4,85.8L175.2,86.5L173.2,87.8Z" fill="#e4e4e4" fill-opacity="0.55" stroke="#555" stroke-opacity="0.52" stroke-width="0.45"/></g>
<rect x="175.4" y="64.7" width="0.55" height="0.55" fill="#888" fill-opacity="0.6"/><rect x="186.3" y="63.6" width="0.55" height="0.55" fill="#888" fill-opacity="0.6"/><rect x="176.7" y="65.0" width="0.55" height="0.55" fill="#888" fill-opacity="0.6"/><rect x="169.2" y="64.1" width="0.55" height="0.55" fill="#888" fill-opacity="0.6"/><rect x="179.5" y="67.5" width="0.55" height="0.55" fill="#888" fill-opacity="0.6"/><rect x="167.2" y="61.6" width="0.55" height="0.55" fill="#888" fill-opacity="0.6"/><rect x="167.1" y="67.7" width="0.55" height="0.55" fill="#888" fill-opacity="0.6"/><rect x="180.9" y="58.5" width="0.55" height="0.55" fill="#888" fill-opacity="0.6"/><rect x="187.6" y="69.6" width="0.55" height="0.55" fill="#888" fill-opacity="0.6"/><rect x="180.0" y="65.4" width="0.55" height="0.55" fill="#888" fill-opacity="0.6"/><rect x="168.6" y="58.2" width="0.55" height="0.55" fill="#888" fill-opacity="0.6"/><rect x="177.2" y="58.7" width="0.55" height="0.55" fill="#888" fill-opacity="0.6"/><rect x="169.4" y="60.9" width="0.55" height="0.55" fill="#888" fill-opacity="0.6"/><rect x="165.7" y="63.6" width="0.55" height="0.55" fill="#888" fill-opacity="0.6"/>
<path d="M141.70,37.50H200.20V96.20" fill="none" stroke="#c8c8c8" stroke-width="0.7"/>
<line x1="161.50" y1="37.50" x2="161.50" y2="96.20" stroke="#4a4a4a" stroke-width="0.9"/>
<line x1="141.70" y1="71.60" x2="200.20" y2="71.60" stroke="#4a4a4a" stroke-width="0.9"/>
<line x1="141.70" y1="37.50" x2="141.70" y2="96.60" stroke="#555" stroke-width="0.8"/>
<line x1="141.30" y1="96.20" x2="200.20" y2="96.20" stroke="#555" stroke-width="0.8"/>
<line x1="140.30" y1="43.10" x2="141.70" y2="43.10" stroke="#666" stroke-width="0.5"/>
<text x="130.60" y="44.90" font-size="5.0" fill="#231f20">10<tspan font-size="3.0" dy="-2.2">5</tspan></text>
<line x1="140.30" y1="57.13" x2="141.70" y2="57.13" stroke="#666" stroke-width="0.5"/>
<text x="130.60" y="58.93" font-size="5.0" fill="#231f20">10<tspan font-size="3.0" dy="-2.2">4</tspan></text>
<line x1="140.30" y1="70.39" x2="141.70" y2="70.39" stroke="#666" stroke-width="0.5"/>
<text x="130.60" y="72.19" font-size="5.0" fill="#231f20">10<tspan font-size="3.0" dy="-2.2">3</tspan></text>
<line x1="140.30" y1="83.78" x2="141.70" y2="83.78" stroke="#666" stroke-width="0.5"/>
<text x="130.60" y="85.58" font-size="5.0" fill="#231f20">10<tspan font-size="3.0" dy="-2.2">2</tspan></text>
<line x1="140.30" y1="90.29" x2="141.70" y2="90.29" stroke="#666" stroke-width="0.5"/>
<text x="137.10" y="92.09" font-size="5.0" text-anchor="end" fill="#231f20">0</text>
<line x1="153.25" y1="96.20" x2="153.25" y2="97.40" stroke="#666" stroke-width="0.5"/>
<text x="150.65" y="105.40" font-size="5.0" fill="#231f20">10<tspan font-size="3.0" dy="-2.2">2</tspan></text>
<line x1="167.99" y1="96.20" x2="167.99" y2="97.40" stroke="#666" stroke-width="0.5"/>
<text x="165.39" y="105.40" font-size="5.0" fill="#231f20">10<tspan font-size="3.0" dy="-2.2">3</tspan></text>
<line x1="181.45" y1="96.20" x2="181.45" y2="97.40" stroke="#666" stroke-width="0.5"/>
<text x="178.85" y="105.40" font-size="5.0" fill="#231f20">10<tspan font-size="3.0" dy="-2.2">4</tspan></text>
<line x1="194.14" y1="96.20" x2="194.14" y2="97.40" stroke="#666" stroke-width="0.5"/>
<text x="191.54" y="105.40" font-size="5.0" fill="#231f20">10<tspan font-size="3.0" dy="-2.2">5</tspan></text>
<text x="147.43" y="105.40" font-size="5.0" text-anchor="middle" fill="#231f20">0</text>
<text x="170.95" y="114.40" font-size="8.0" text-anchor="middle" fill="#231f20" textLength="17.20" lengthAdjust="spacingAndGlyphs">CD19</text>
<text x="124.70" y="65.09" font-size="7.6" text-anchor="middle" fill="#231f20" textLength="10.40" lengthAdjust="spacingAndGlyphs" transform="rotate(-90 124.70 65.09)">IgM</text>
<g filter="url(#fb)"><path d="M262.6,63.5L260.4,63.7L258.4,63.5L256.4,62.9L254.6,62.0L252.8,60.8L251.4,59.2L250.2,57.5L249.5,55.8L249.3,54.2L249.5,52.5L250.2,50.8L251.1,49.2L252.3,47.9L253.8,46.6L255.6,45.6L257.6,44.9L259.9,44.6L262.1,44.6L264.4,45.1L266.1,45.8L267.9,46.9L269.3,48.2L270.4,49.8L271.3,51.8L271.6,53.8L271.5,55.8L270.9,57.5L269.9,59.2L268.4,60.9L266.6,62.2L264.6,63.0L262.6,63.5Z" fill="#888" fill-opacity="0.02" stroke="#6a6a6a" stroke-opacity="0.50" stroke-width="0.45"/><path d="M262.4,62.3L260.6,62.4L258.9,62.3L257.4,61.9L255.6,61.1L253.8,60.0L252.3,58.6L251.3,57.2L250.6,55.8L250.4,54.5L250.5,53.0L251.0,51.5L251.8,50.2L253.1,48.9L254.6,47.7L256.1,46.8L257.9,46.2L259.6,45.8L261.6,45.8L263.6,46.2L265.4,46.9L267.1,48.0L268.4,49.2L269.3,50.5L269.9,52.2L270.2,54.0L270.0,55.8L269.5,57.2L268.6,58.8L267.4,60.0L265.9,61.1L264.1,61.9L262.4,62.3Z" fill="#888" fill-opacity="0.02" stroke="#6a6a6a" stroke-opacity="0.50" stroke-width="0.45"/><path d="M262.4,61.0L260.9,61.2L259.4,61.1L256.4,60.1L254.6,59.1L253.3,58.2L252.3,57.0L251.7,55.8L251.4,54.8L251.4,53.5L251.8,52.2L252.3,51.2L253.1,50.2L254.3,49.2L257.4,47.6L259.1,47.2L260.9,47.0L262.6,47.2L264.1,47.7L265.6,48.5L266.8,49.5L267.8,50.8L268.4,52.0L268.7,53.5L268.7,55.0L268.3,56.5L267.6,57.8L266.6,58.9L265.4,59.9L263.9,60.6L262.4,61.0Z" fill="#888" fill-opacity="0.02" stroke="#6a6a6a" stroke-opacity="0.50" stroke-width="0.45"/><path d="M262.4,59.5L260.1,59.7L257.9,59.3L255.6,58.4L253.8,57.2L252.8,55.8L252.5,54.0L252.8,52.5L253.8,51.0L255.1,50.1L256.6,49.3L258.6,48.7L260.4,48.5L261.9,48.6L263.4,49.0L264.6,49.7L265.6,50.5L266.5,51.8L267.0,53.0L267.1,54.5L266.8,55.8L266.2,57.0L265.1,58.2L263.9,59.0L262.4,59.5Z" fill="#888" fill-opacity="0.02" stroke="#6a6a6a" stroke-opacity="0.50" stroke-width="0.45"/><path d="M262.1,58.1L260.4,58.2L257.9,58.0L256.4,57.6L255.1,56.8L254.1,55.8L253.7,54.5L253.8,53.2L254.5,52.0L256.1,50.8L259.1,49.9L261.4,49.9L262.4,50.2L263.4,50.8L264.3,51.8L264.8,52.8L265.1,53.8L265.1,55.0L264.7,56.0L264.0,57.0L263.1,57.7L262.1,58.1Z" fill="#888" fill-opacity="0.02" stroke="#6a6a6a" stroke-opacity="0.50" stroke-width="0.45"/><path d="M261.6,57.3L260.4,57.3L259.1,57.1L257.1,56.6L256.1,56.0L255.5,55.2L255.3,54.2L255.4,53.2L256.0,52.2L257.4,51.2L259.4,50.6L261.1,50.7L262.6,51.4L263.6,53.0L263.9,54.0L263.9,55.0L263.7,55.8L263.1,56.5L261.6,57.3Z" fill="#888" fill-opacity="0.02" stroke="#6a6a6a" stroke-opacity="0.50" stroke-width="0.45"/></g>
<g filter="url(#fb)"><path d="M264.6,90.5L258.6,90.6L257.1,90.4L255.6,89.9L254.1,89.1L252.9,88.0L249.6,83.9L245.1,82.1L244.6,82.1L244.1,82.3L241.3,85.3L239.1,86.6L237.8,86.9L236.3,87.0L235.1,86.9L233.6,86.3L232.1,85.3L230.9,84.0L229.9,82.5L229.1,80.5L228.8,78.5L228.8,76.5L229.2,74.2L229.9,72.5L231.1,70.8L232.6,69.3L234.3,68.4L235.8,68.0L238.1,68.1L240.1,68.9L241.9,70.2L244.3,73.3L245.3,73.7L250.1,72.3L253.6,68.7L255.1,67.7L256.6,67.1L258.9,66.8L263.9,66.8L265.9,67.1L267.4,67.6L268.9,68.6L270.1,69.8L271.0,71.0L272.0,72.8L272.7,74.8L273.0,76.5L273.2,78.8L273.0,80.8L272.7,82.5L272.0,84.5L271.3,86.0L270.2,87.5L269.1,88.6L267.6,89.6L266.4,90.2L264.6,90.5Z" fill="#6a6a6a" fill-opacity="0.070" stroke="#555" stroke-opacity="0.52" stroke-width="0.45"/><path d="M264.9,89.3L262.6,89.5L258.6,89.4L256.9,89.1L255.1,88.3L253.8,87.4L252.6,86.0L249.0,80.2L248.7,79.2L248.7,78.0L248.8,76.8L249.3,75.8L253.3,70.5L254.6,69.4L255.8,68.7L257.6,68.1L259.6,67.9L263.6,68.0L265.9,68.3L267.6,69.1L269.0,70.2L270.3,71.8L271.2,73.5L272.0,76.0L272.2,78.5L272.0,81.2L271.3,83.8L270.2,85.8L268.6,87.5L266.9,88.7L264.9,89.3ZM237.3,86.0L235.8,86.0L234.6,85.6L233.3,85.0L232.1,84.0L231.3,83.0L230.4,81.5L229.9,80.0L229.6,78.2L229.6,76.5L229.9,75.0L230.4,73.5L231.3,72.0L232.3,70.8L233.6,69.8L234.8,69.3L236.3,69.0L237.6,69.0L238.8,69.4L240.1,70.0L241.3,71.1L242.5,72.5L243.4,74.2L244.2,76.0L244.5,77.5L244.5,78.5L244.0,80.0L242.7,82.5L241.8,83.8L240.8,84.7L239.8,85.3L238.6,85.8L237.3,86.0Z" fill="#6a6a6a" fill-opacity="0.070" stroke="#555" stroke-opacity="0.52" stroke-width="0.45"/><path d="M262.6,88.5L258.1,88.3L256.6,87.9L255.1,87.2L253.8,86.1L252.8,84.8L251.7,82.8L250.8,80.5L250.5,78.8L250.6,77.2L251.1,75.8L251.8,74.2L253.1,72.2L254.2,71.0L255.6,69.9L257.1,69.3L259.4,68.9L262.4,68.9L264.6,69.1L266.4,69.6L267.9,70.5L269.1,71.8L270.2,73.5L270.9,75.2L271.4,77.8L271.3,80.2L270.7,82.8L269.8,84.8L268.4,86.5L266.9,87.5L265.1,88.2L262.6,88.5ZM238.6,85.0L237.3,85.2L235.8,85.1L234.6,84.7L233.3,84.0L232.3,83.0L231.4,81.8L230.8,80.2L230.5,79.0L230.3,77.5L230.5,75.8L230.9,74.2L231.6,73.0L232.3,71.9L233.4,71.0L234.6,70.3L235.8,69.9L237.1,69.9L238.3,70.1L239.6,70.7L240.6,71.5L241.5,72.5L242.3,73.8L243.2,76.5L243.2,79.2L242.7,81.0L242.2,82.2L241.5,83.2L240.6,84.1L238.6,85.0Z" fill="#6a6a6a" fill-opacity="0.070" stroke="#555" stroke-opacity="0.52" stroke-width="0.45"/><path d="M263.4,87.5L261.1,87.6L259.1,87.5L257.4,87.1L256.1,86.6L254.9,85.8L253.9,84.8L253.0,83.2L252.3,81.8L251.8,80.0L251.7,78.5L251.9,76.8L252.4,75.2L253.3,73.5L254.3,72.2L255.6,71.1L257.1,70.4L259.1,69.9L261.4,69.8L263.6,69.9L265.6,70.4L266.9,71.0L268.1,72.0L269.1,73.3L269.9,75.0L270.5,77.0L270.6,79.2L270.2,81.5L269.4,83.5L268.4,85.1L266.9,86.4L265.4,87.1L263.4,87.5ZM238.8,84.3L236.6,84.4L235.3,84.1L234.1,83.5L233.1,82.6L232.3,81.7L231.7,80.5L231.3,79.2L231.2,76.5L231.9,74.0L232.6,72.9L233.5,72.0L234.6,71.3L235.6,70.9L236.8,70.8L237.8,70.9L238.8,71.3L239.8,71.9L241.4,73.8L242.2,76.0L242.5,79.0L242.0,81.5L241.4,82.5L240.6,83.4L238.8,84.3Z" fill="#6a6a6a" fill-opacity="0.070" stroke="#555" stroke-opacity="0.52" stroke-width="0.45"/><path d="M262.6,86.8L260.9,86.8L259.1,86.6L257.6,86.2L256.4,85.6L255.3,84.8L254.3,83.7L253.5,82.2L253.0,80.8L252.8,79.2L252.8,77.8L253.2,76.0L253.8,74.6L254.8,73.2L255.8,72.2L257.1,71.5L258.4,71.0L260.1,70.7L262.1,70.7L263.9,70.9L265.6,71.5L266.9,72.3L268.0,73.5L268.8,74.8L269.4,76.2L269.7,78.0L269.6,80.0L269.2,81.8L268.3,83.5L267.3,84.8L265.9,85.8L264.4,86.4L262.6,86.8ZM238.3,83.8L236.3,83.5L234.1,82.3L232.8,80.8L232.0,78.8L232.0,76.5L232.8,74.2L233.5,73.2L234.3,72.5L236.1,71.7L237.1,71.7L238.1,71.9L239.8,73.0L241.0,74.8L241.8,77.2L241.9,79.8L241.2,81.8L240.1,83.1L239.3,83.5L238.3,83.8Z" fill="#6a6a6a" fill-opacity="0.070" stroke="#555" stroke-opacity="0.52" stroke-width="0.45"/><path d="M262.9,86.0L261.4,86.1L259.9,85.9L258.4,85.5L257.1,84.9L255.3,83.2L254.5,82.0L254.0,80.8L253.8,79.2L253.8,78.0L254.1,76.5L254.7,75.2L255.6,74.0L256.6,73.0L257.9,72.3L259.1,71.9L260.6,71.6L262.1,71.6L263.6,71.9L265.1,72.5L266.2,73.2L267.2,74.2L267.9,75.5L268.4,76.8L268.6,78.2L268.6,79.8L268.2,81.2L267.6,82.8L266.7,84.0L265.6,84.9L264.4,85.6L262.9,86.0ZM238.8,83.0L237.3,83.1L235.6,82.2L233.8,80.5L233.1,78.8L232.9,76.8L233.5,74.8L234.6,73.3L236.1,72.5L237.6,72.5L239.1,73.3L240.2,74.8L241.1,77.0L241.4,79.0L241.1,80.8L240.1,82.2L238.8,83.0Z" fill="#6a6a6a" fill-opacity="0.070" stroke="#555" stroke-opacity="0.52" stroke-width="0.45"/><path d="M262.4,85.5L260.9,85.5L259.6,85.2L257.4,84.1L256.4,83.2L255.6,82.2L254.8,80.0L254.7,78.5L255.0,77.2L255.4,76.0L256.1,75.0L257.9,73.4L259.1,72.8L260.4,72.5L261.6,72.4L262.9,72.6L264.1,73.1L265.1,73.8L266.1,74.8L266.7,75.8L267.5,78.0L267.3,80.8L267.0,82.0L266.3,83.2L265.6,84.1L264.6,84.8L263.6,85.3L262.4,85.5ZM238.8,82.3L237.6,82.4L236.3,81.8L234.9,80.2L234.0,78.5L233.7,76.8L234.0,75.2L234.8,73.9L236.1,73.1L237.6,73.1L238.8,73.8L239.7,75.0L240.5,77.0L240.8,78.8L240.6,80.2L239.9,81.5L238.8,82.3Z" fill="#6a6a6a" fill-opacity="0.070" stroke="#555" stroke-opacity="0.52" stroke-width="0.45"/><path d="M262.6,85.0L260.4,84.9L258.1,83.8L256.6,82.2L255.7,80.2L255.7,78.0L256.5,76.0L258.1,74.2L260.1,73.3L262.1,73.3L263.1,73.6L264.1,74.2L265.5,75.8L266.4,78.0L266.6,80.8L265.9,82.8L264.6,84.3L263.6,84.8L262.6,85.0ZM238.1,81.5L237.1,81.4L236.1,80.6L235.0,79.0L234.4,77.5L234.3,76.0L234.8,74.8L235.6,73.8L236.6,73.4L237.8,73.6L238.8,74.4L239.6,75.8L240.1,77.8L240.2,79.0L239.8,80.2L239.1,81.1L238.1,81.5Z" fill="#6a6a6a" fill-opacity="0.070" stroke="#555" stroke-opacity="0.52" stroke-width="0.45"/><path d="M237.8,80.5L237.1,80.4L236.1,79.6L235.3,78.5L234.8,77.2L234.8,76.0L235.1,75.0L235.8,74.2L236.6,73.9L237.6,74.0L238.4,74.5L239.0,75.5L239.5,77.0L239.6,78.2L239.4,79.2L238.6,80.2L237.8,80.5ZM263.1,84.5L261.1,84.6L259.1,83.8L257.4,82.2L256.5,80.5L256.4,78.5L257.1,76.5L258.4,75.0L260.1,74.1L261.9,74.0L263.6,74.8L264.9,76.1L265.7,78.0L266.0,80.2L265.7,82.2L264.6,83.7L263.1,84.5Z" fill="#6a6a6a" fill-opacity="0.070" stroke="#555" stroke-opacity="0.52" stroke-width="0.45"/><path d="M238.1,79.5L237.3,79.7L236.6,79.3L235.8,78.5L235.3,77.5L235.1,76.5L235.2,75.8L235.6,75.0L236.3,74.4L237.1,74.3L237.8,74.6L238.3,75.1L238.8,76.0L239.1,77.2L239.1,78.2L238.7,79.0L238.1,79.5ZM262.6,84.3L260.9,84.2L259.1,83.3L257.8,82.0L257.1,80.2L257.0,78.5L257.7,76.8L258.9,75.4L260.4,74.7L262.1,74.7L263.5,75.5L264.7,77.0L265.5,79.0L265.6,81.0L265.1,82.5L264.1,83.6L262.6,84.3Z" fill="#e4e4e4" fill-opacity="0.55" stroke="#555" stroke-opacity="0.52" stroke-width="0.45"/></g>
<rect x="238.6" y="56.8" width="0.55" height="0.55" fill="#888" fill-opacity="0.7"/><rect x="241.7" y="44.4" width="0.55" height="0.55" fill="#888" fill-opacity="0.7"/><rect x="231.2" y="50.0" width="0.55" height="0.55" fill="#888" fill-opacity="0.7"/><rect x="235.4" y="60.4" width="0.55" height="0.55" fill="#888" fill-opacity="0.7"/><rect x="242.0" y="55.4" width="0.55" height="0.55" fill="#888" fill-opacity="0.7"/><rect x="239.9" y="56.9" width="0.55" height="0.55" fill="#888" fill-opacity="0.7"/><rect x="233.3" y="51.6" width="0.55" height="0.55" fill="#888" fill-opacity="0.7"/><rect x="233.6" y="62.7" width="0.55" height="0.55" fill="#888" fill-opacity="0.7"/><rect x="231.9" y="60.7" width="0.55" height="0.55" fill="#888" fill-opacity="0.7"/><rect x="232.2" y="57.5" width="0.55" height="0.55" fill="#888" fill-opacity="0.7"/><rect x="236.4" y="50.7" width="0.55" height="0.55" fill="#888" fill-opacity="0.7"/><rect x="244.5" y="41.4" width="0.55" height="0.55" fill="#888" fill-opacity="0.7"/><rect x="232.0" y="63.0" width="0.55" height="0.55" fill="#888" fill-opacity="0.7"/><rect x="239.1" y="43.2" width="0.55" height="0.55" fill="#888" fill-opacity="0.7"/><rect x="246.8" y="63.7" width="0.55" height="0.55" fill="#888" fill-opacity="0.7"/><rect x="232.8" y="51.2" width="0.55" height="0.55" fill="#888" fill-opacity="0.7"/><rect x="233.2" y="48.5" width="0.55" height="0.55" fill="#888" fill-opacity="0.7"/><rect x="240.9" y="44.9" width="0.55" height="0.55" fill="#888" fill-opacity="0.7"/><rect x="242.1" y="42.2" width="0.55" height="0.55" fill="#888" fill-opacity="0.7"/><rect x="233.7" y="60.6" width="0.55" height="0.55" fill="#888" fill-opacity="0.7"/><rect x="237.4" y="51.1" width="0.55" height="0.55" fill="#888" fill-opacity="0.7"/><rect x="240.5" y="52.4" width="0.55" height="0.55" fill="#888" fill-opacity="0.7"/><rect x="237.2" y="41.7" width="0.55" height="0.55" fill="#888" fill-opacity="0.7"/><rect x="242.6" y="64.2" width="0.55" height="0.55" fill="#888" fill-opacity="0.7"/><rect x="246.6" y="56.9" width="0.55" height="0.55" fill="#888" fill-opacity="0.7"/><rect x="236.7" y="49.7" width="0.55" height="0.55" fill="#888" fill-opacity="0.7"/><rect x="242.0" y="57.2" width="0.55" height="0.55" fill="#888" fill-opacity="0.7"/><rect x="232.8" y="46.6" width="0.55" height="0.55" fill="#888" fill-opacity="0.7"/><rect x="236.8" y="53.3" width="0.55" height="0.55" fill="#888" fill-opacity="0.7"/><rect x="244.0" y="53.0" width="0.55" height="0.55" fill="#888" fill-opacity="0.7"/><rect x="231.5" y="60.7" width="0.55" height="0.55" fill="#888" fill-opacity="0.7"/><rect x="237.9" y="53.5" width="0.55" height="0.55" fill="#888" fill-opacity="0.7"/><rect x="234.6" y="51.3" width="0.55" height="0.55" fill="#888" fill-opacity="0.7"/><rect x="237.2" y="59.5" width="0.55" height="0.55" fill="#888" fill-opacity="0.7"/><rect x="232.6" y="54.2" width="0.55" height="0.55" fill="#888" fill-opacity="0.7"/><rect x="233.8" y="57.7" width="0.55" height="0.55" fill="#888" fill-opacity="0.7"/><rect x="231.6" y="47.6" width="0.55" height="0.55" fill="#888" fill-opacity="0.7"/><rect x="236.5" y="56.3" width="0.55" height="0.55" fill="#888" fill-opacity="0.7"/><rect x="231.8" y="52.0" width="0.55" height="0.55" fill="#888" fill-opacity="0.7"/><rect x="234.3" y="47.8" width="0.55" height="0.55" fill="#888" fill-opacity="0.7"/><rect x="238.6" y="64.0" width="0.55" height="0.55" fill="#888" fill-opacity="0.7"/><rect x="238.7" y="63.9" width="0.55" height="0.55" fill="#888" fill-opacity="0.7"/><rect x="233.7" y="63.2" width="0.55" height="0.55" fill="#888" fill-opacity="0.7"/><rect x="236.8" y="45.5" width="0.55" height="0.55" fill="#888" fill-opacity="0.7"/><rect x="243.0" y="62.9" width="0.55" height="0.55" fill="#888" fill-opacity="0.7"/>
<path d="M228.10,37.50H286.50V96.20" fill="none" stroke="#c8c8c8" stroke-width="0.7"/>
<line x1="248.40" y1="37.50" x2="248.40" y2="96.20" stroke="#4a4a4a" stroke-width="0.9"/>
<line x1="228.10" y1="66.40" x2="286.50" y2="66.40" stroke="#4a4a4a" stroke-width="0.9"/>
<line x1="228.10" y1="37.50" x2="228.10" y2="96.60" stroke="#555" stroke-width="0.8"/>
<line x1="227.70" y1="96.20" x2="286.50" y2="96.20" stroke="#555" stroke-width="0.8"/>
<line x1="226.70" y1="43.10" x2="228.10" y2="43.10" stroke="#666" stroke-width="0.5"/>
<text x="217.00" y="44.90" font-size="5.0" fill="#231f20">10<tspan font-size="3.0" dy="-2.2">5</tspan></text>
<line x1="226.70" y1="57.13" x2="228.10" y2="57.13" stroke="#666" stroke-width="0.5"/>
<text x="217.00" y="58.93" font-size="5.0" fill="#231f20">10<tspan font-size="3.0" dy="-2.2">4</tspan></text>
<line x1="226.70" y1="70.39" x2="228.10" y2="70.39" stroke="#666" stroke-width="0.5"/>
<text x="217.00" y="72.19" font-size="5.0" fill="#231f20">10<tspan font-size="3.0" dy="-2.2">3</tspan></text>
<line x1="226.70" y1="83.78" x2="228.10" y2="83.78" stroke="#666" stroke-width="0.5"/>
<text x="217.00" y="85.58" font-size="5.0" fill="#231f20">10<tspan font-size="3.0" dy="-2.2">2</tspan></text>
<line x1="226.70" y1="90.29" x2="228.10" y2="90.29" stroke="#666" stroke-width="0.5"/>
<text x="223.50" y="92.09" font-size="5.0" text-anchor="end" fill="#231f20">0</text>
<line x1="239.64" y1="96.20" x2="239.64" y2="97.40" stroke="#666" stroke-width="0.5"/>
<text x="237.04" y="105.40" font-size="5.0" fill="#231f20">10<tspan font-size="3.0" dy="-2.2">2</tspan></text>
<line x1="254.35" y1="96.20" x2="254.35" y2="97.40" stroke="#666" stroke-width="0.5"/>
<text x="251.75" y="105.40" font-size="5.0" fill="#231f20">10<tspan font-size="3.0" dy="-2.2">3</tspan></text>
<line x1="267.78" y1="96.20" x2="267.78" y2="97.40" stroke="#666" stroke-width="0.5"/>
<text x="265.18" y="105.40" font-size="5.0" fill="#231f20">10<tspan font-size="3.0" dy="-2.2">4</tspan></text>
<line x1="280.46" y1="96.20" x2="280.46" y2="97.40" stroke="#666" stroke-width="0.5"/>
<text x="277.86" y="105.40" font-size="5.0" fill="#231f20">10<tspan font-size="3.0" dy="-2.2">5</tspan></text>
<text x="233.82" y="105.40" font-size="5.0" text-anchor="middle" fill="#231f20">0</text>
<text x="257.30" y="114.40" font-size="8.0" text-anchor="middle" fill="#231f20" textLength="17.20" lengthAdjust="spacingAndGlyphs">CD19</text>
<text x="211.10" y="65.09" font-size="7.6" text-anchor="middle" fill="#231f20" textLength="10.40" lengthAdjust="spacingAndGlyphs" transform="rotate(-90 211.10 65.09)">IgA</text>
<g filter="url(#fb)"><path d="M94.0,159.8L89.0,159.9L87.5,159.7L86.5,159.3L85.1,158.2L83.6,156.8L82.1,154.8L81.4,153.0L81.2,150.5L81.3,146.8L81.7,144.0L82.4,141.2L83.4,139.0L84.6,137.2L86.2,135.9L87.8,135.3L89.5,135.1L93.2,135.1L94.5,135.3L95.8,135.9L97.1,137.0L98.3,138.5L99.3,140.5L100.0,142.5L100.5,145.2L100.6,148.2L100.3,151.0L99.6,153.8L98.6,156.0L97.2,157.9L95.8,159.1L94.0,159.8ZM70.8,173.8L69.5,174.0L68.5,173.9L67.2,173.4L66.2,172.6L64.9,170.8L64.4,169.2L64.2,168.0L64.3,166.5L64.7,165.0L65.3,163.8L66.2,162.6L68.0,161.5L72.5,160.6L72.8,160.5L73.0,160.0L72.9,158.2L72.5,157.4L72.0,157.2L68.8,157.1L67.5,156.6L66.5,155.8L65.1,153.8L64.4,151.5L64.2,149.5L64.3,147.8L65.1,144.8L66.0,143.2L67.0,142.2L68.0,141.6L69.2,141.3L71.0,141.6L72.6,142.8L74.1,145.0L75.8,149.4L76.2,149.9L77.5,150.1L78.5,150.6L79.4,151.5L80.4,153.0L80.9,154.5L81.0,157.0L80.9,159.8L80.3,163.2L80.5,163.8L84.0,162.3L86.5,161.7L94.5,161.7L97.0,162.4L99.0,163.6L100.3,165.2L100.8,167.2L100.6,168.8L99.9,170.2L98.8,171.4L97.0,172.4L95.5,172.8L94.0,173.0L90.5,172.9L86.8,173.0L84.0,172.4L81.8,171.0L80.9,170.0L80.1,168.8L79.2,165.6L78.8,165.6L76.0,166.4L74.6,170.0L73.6,171.8L72.2,173.2L70.8,173.8Z" fill="#6a6a6a" fill-opacity="0.070" stroke="#555" stroke-opacity="0.52" stroke-width="0.45"/><path d="M93.8,158.5L92.0,158.7L89.0,158.6L87.8,158.4L86.5,157.8L85.2,156.9L84.1,155.5L83.1,153.8L82.6,152.2L82.2,149.8L82.1,147.2L82.4,144.5L83.1,142.0L83.9,140.0L85.0,138.4L86.2,137.3L87.8,136.6L89.5,136.3L92.5,136.3L94.0,136.5L95.2,137.0L96.5,137.9L97.6,139.2L98.4,140.8L99.2,142.8L99.7,145.2L99.8,148.0L99.6,150.5L98.9,153.0L97.9,155.2L96.8,156.8L95.5,157.8L93.8,158.5ZM71.0,156.0L70.0,156.2L69.0,156.2L68.0,155.9L67.0,155.1L65.7,153.2L64.9,150.5L65.0,147.5L65.3,146.0L65.9,144.8L66.6,143.8L67.5,142.9L69.2,142.2L71.0,142.4L72.5,143.6L73.7,145.8L74.3,148.5L74.4,151.0L73.8,153.2L72.6,155.0L71.0,156.0ZM71.0,173.0L69.8,173.1L68.5,172.9L66.8,172.0L65.9,171.0L65.4,170.0L65.0,168.8L64.9,167.2L65.5,165.0L66.8,163.2L67.5,162.7L68.8,162.1L70.5,161.5L71.8,161.4L73.0,161.8L74.1,162.8L74.6,164.0L74.8,165.5L74.4,167.8L73.4,171.0L72.5,172.3L71.8,172.8L71.0,173.0ZM95.2,172.3L93.8,172.5L90.5,172.3L87.0,172.4L85.2,172.2L84.0,171.7L82.3,170.5L81.2,169.0L80.7,167.2L80.8,166.2L81.1,165.5L81.9,164.5L83.0,163.6L84.5,162.9L86.2,162.4L94.0,162.3L95.8,162.6L97.0,163.1L98.4,164.0L99.5,165.2L100.0,166.5L100.0,168.0L99.5,169.5L98.5,170.7L97.0,171.7L95.2,172.3Z" fill="#6a6a6a" fill-opacity="0.070" stroke="#555" stroke-opacity="0.52" stroke-width="0.45"/><path d="M93.2,157.5L89.5,157.6L88.0,157.4L86.8,156.8L85.5,155.9L84.5,154.8L83.6,153.2L83.1,151.8L82.8,149.8L82.8,147.2L83.1,144.5L83.7,142.2L84.5,140.5L85.5,139.2L86.8,138.1L88.2,137.5L90.0,137.3L92.5,137.4L94.0,137.7L95.2,138.2L96.4,139.2L97.4,140.5L98.1,142.0L98.7,143.8L99.1,146.2L99.1,148.5L98.8,150.8L98.1,153.0L97.2,154.8L96.0,156.2L94.8,157.0L93.2,157.5ZM70.2,155.3L69.2,155.4L68.2,155.1L66.8,154.0L65.8,152.2L65.4,149.8L65.6,147.0L66.4,145.0L67.8,143.6L68.8,143.1L69.8,142.9L71.2,143.2L72.4,144.2L73.3,146.5L73.7,149.0L73.6,151.2L72.8,153.2L71.8,154.6L70.2,155.3ZM71.0,172.5L70.0,172.5L68.5,172.1L67.0,171.1L66.3,170.2L65.9,169.2L65.6,167.2L66.2,165.2L67.2,163.8L70.0,162.2L71.8,161.9L72.8,162.2L73.6,163.0L74.1,164.0L74.3,165.5L72.9,171.0L72.0,172.1L71.0,172.5ZM95.2,171.8L93.8,172.0L87.2,172.0L86.0,171.8L84.5,171.4L83.0,170.4L81.9,169.0L81.4,167.2L81.7,165.8L82.4,164.8L83.5,163.9L84.8,163.3L86.2,162.9L93.8,162.8L95.2,163.0L96.5,163.4L98.0,164.4L98.9,165.5L99.4,166.8L99.4,168.0L98.9,169.2L98.0,170.4L96.8,171.2L95.2,171.8Z" fill="#6a6a6a" fill-opacity="0.070" stroke="#555" stroke-opacity="0.52" stroke-width="0.45"/><path d="M92.8,156.5L89.5,156.6L88.0,156.4L86.8,155.8L85.8,155.1L84.7,154.0L84.0,152.8L83.5,151.2L83.3,149.5L83.3,147.5L83.7,144.8L84.3,142.5L85.0,141.0L86.0,139.8L87.2,138.8L88.5,138.3L90.0,138.2L92.0,138.3L93.5,138.6L94.8,139.2L95.8,140.0L96.8,141.2L97.4,142.5L98.0,144.2L98.3,146.2L98.4,148.5L98.1,150.5L97.4,152.5L96.6,154.0L95.5,155.3L94.2,156.1L92.8,156.5ZM69.8,154.5L68.2,154.4L67.5,154.0L66.8,153.2L66.0,151.5L65.8,149.2L66.2,146.8L67.0,145.0L67.8,144.4L68.8,143.9L70.2,143.5L71.5,144.0L72.4,145.2L73.0,147.0L73.1,149.5L72.8,151.5L72.0,153.0L71.0,154.0L69.8,154.5ZM71.0,172.0L69.8,171.8L67.5,170.3L66.7,169.0L66.5,167.4L66.8,166.0L67.6,164.8L69.8,162.9L70.8,162.4L71.5,162.3L72.5,162.6L73.3,163.2L73.8,164.2L73.9,165.5L73.6,166.8L72.9,168.5L72.5,170.8L72.0,171.5L71.0,172.0ZM95.0,171.3L93.5,171.5L87.5,171.5L85.0,171.0L83.5,170.1L82.6,169.0L82.0,167.2L82.1,166.0L82.8,165.1L83.8,164.3L86.2,163.4L93.5,163.3L96.0,163.8L97.2,164.5L98.2,165.5L98.7,166.5L98.8,167.8L98.4,169.0L97.6,170.0L96.5,170.8L95.0,171.3Z" fill="#6a6a6a" fill-opacity="0.070" stroke="#555" stroke-opacity="0.52" stroke-width="0.45"/><path d="M90.8,155.8L88.0,155.5L87.0,155.2L86.0,154.5L85.1,153.5L84.5,152.5L84.0,151.2L83.8,149.8L83.8,147.8L84.1,145.5L84.7,143.2L85.3,141.8L86.0,140.8L87.0,139.8L88.2,139.2L89.5,139.0L91.0,139.0L92.8,139.5L94.2,140.2L95.2,140.9L96.1,142.0L96.8,143.2L97.3,144.8L97.5,146.5L97.5,148.5L97.3,150.2L96.8,151.8L95.9,153.2L95.0,154.3L93.8,155.1L92.2,155.6L90.8,155.8ZM69.5,153.8L68.8,153.9L68.0,153.7L66.9,152.5L66.3,150.8L66.3,148.5L66.6,146.8L67.2,145.5L68.2,144.8L70.2,144.1L71.2,144.5L72.0,145.4L72.5,146.8L72.5,148.5L72.2,150.5L71.6,152.0L70.8,153.1L69.5,153.8ZM71.2,171.3L70.2,171.3L69.5,170.8L68.3,168.2L68.2,167.2L68.6,165.5L69.3,164.0L70.2,163.2L71.5,162.8L72.2,163.0L73.0,163.7L73.4,164.5L73.5,165.5L73.2,166.8L72.3,168.2L72.0,170.5L71.2,171.3ZM94.8,170.8L93.0,171.0L87.8,171.0L85.3,170.5L84.0,169.7L83.1,168.5L82.4,167.0L82.6,166.0L83.1,165.2L84.0,164.6L86.2,163.9L93.2,163.8L95.5,164.2L96.8,164.9L97.6,165.8L98.0,166.8L98.1,167.8L97.7,168.8L97.0,169.7L96.0,170.4L94.8,170.8Z" fill="#6a6a6a" fill-opacity="0.070" stroke="#555" stroke-opacity="0.52" stroke-width="0.45"/><path d="M89.5,155.0L88.2,154.9L87.2,154.6L86.2,154.0L85.5,153.2L84.5,151.2L84.2,148.8L84.9,144.5L86.0,141.8L86.8,140.9L87.8,140.2L88.8,139.8L90.0,139.7L91.2,139.8L92.5,140.3L93.9,141.2L94.9,142.2L95.7,143.5L96.2,144.8L96.5,146.2L96.6,147.8L96.4,149.2L96.0,150.7L95.4,152.0L94.6,153.0L93.7,153.8L92.5,154.4L91.0,154.9L89.5,155.0ZM69.5,153.1L68.8,153.2L68.2,153.1L67.2,152.2L66.7,150.8L66.7,148.2L67.0,146.8L67.6,145.8L68.5,145.3L70.2,144.8L71.0,145.0L71.6,145.8L72.0,146.8L72.0,148.0L71.8,149.3L70.7,151.8L70.2,152.5L69.5,153.1ZM71.2,167.8L70.8,167.7L70.0,167.0L69.6,166.2L69.5,165.5L69.6,164.8L70.0,164.1L70.5,163.7L71.2,163.5L72.0,163.7L72.5,164.1L72.8,164.8L72.9,165.5L72.5,166.8L72.0,167.4L71.2,167.8ZM91.2,170.5L87.5,170.4L85.3,169.8L84.2,168.9L83.2,167.8L82.9,166.8L83.0,166.0L83.7,165.2L84.5,164.8L85.8,164.4L87.0,164.3L94.0,164.5L95.5,165.0L96.6,165.8L97.1,166.5L97.3,167.5L97.0,168.5L96.4,169.2L95.5,169.8L94.5,170.2L91.2,170.5ZM70.8,169.9L70.5,169.9L70.4,169.5L70.8,169.1L71.0,169.1L71.1,169.5L70.8,169.9Z" fill="#6a6a6a" fill-opacity="0.070" stroke="#555" stroke-opacity="0.52" stroke-width="0.45"/><path d="M90.5,154.3L88.2,154.4L86.5,153.6L85.7,152.8L85.1,151.8L84.6,149.5L84.9,146.5L86.1,142.8L86.7,141.8L87.5,141.0L88.5,140.5L89.5,140.3L90.5,140.3L91.5,140.7L92.5,141.2L93.3,142.0L94.6,144.2L95.2,146.8L95.0,149.5L94.0,151.8L92.5,153.4L90.5,154.3ZM69.0,152.5L68.0,152.3L67.4,151.5L67.0,150.0L67.0,148.2L67.4,147.0L68.0,146.2L68.8,145.8L70.0,145.7L70.8,146.0L71.1,146.5L71.4,147.2L71.4,148.0L70.0,151.6L69.5,152.2L69.0,152.5ZM71.5,166.6L70.9,166.5L70.4,166.0L70.3,165.2L70.8,164.7L71.4,164.8L72.0,165.5L72.0,166.0L71.5,166.6ZM92.0,170.0L89.0,170.2L86.5,169.6L84.8,168.6L83.8,167.8L83.3,166.8L83.5,166.0L84.0,165.4L84.8,165.0L87.0,164.6L92.5,165.0L94.2,165.4L95.3,166.0L95.8,166.5L96.1,167.2L96.0,167.9L95.7,168.5L94.2,169.4L92.0,170.0Z" fill="#6a6a6a" fill-opacity="0.070" stroke="#555" stroke-opacity="0.52" stroke-width="0.45"/><path d="M90.2,153.8L88.5,153.9L87.5,153.6L86.8,153.2L86.1,152.5L85.5,151.6L85.0,149.5L85.3,146.5L86.4,143.2L87.8,141.6L88.5,141.2L89.5,140.9L91.2,141.2L92.5,142.2L93.4,143.8L93.9,146.0L93.8,149.0L93.2,151.2L92.0,152.8L90.2,153.8ZM69.0,151.4L68.5,151.4L68.0,151.0L67.5,149.8L67.4,148.8L67.8,147.5L68.5,146.7L69.0,146.5L69.5,146.7L69.8,147.0L70.1,148.2L69.5,150.8L69.0,151.4ZM91.5,169.8L89.0,169.9L87.0,169.4L84.2,167.6L83.9,167.0L83.9,166.2L84.8,165.4L86.5,164.9L90.5,165.1L92.5,165.6L93.7,166.5L94.0,167.2L94.0,168.0L93.3,169.0L91.5,169.8Z" fill="#6a6a6a" fill-opacity="0.070" stroke="#555" stroke-opacity="0.52" stroke-width="0.45"/><path d="M89.2,153.5L88.2,153.4L87.5,153.1L86.2,152.0L85.5,150.2L85.4,148.2L85.9,145.8L87.1,143.2L88.5,141.9L90.0,141.6L91.5,142.2L92.1,142.8L92.7,143.8L93.1,145.5L93.1,148.5L92.8,150.5L92.0,152.0L90.8,153.1L89.2,153.5ZM68.5,149.3L68.2,149.2L68.1,148.8L68.2,148.2L68.8,147.9L69.0,148.0L69.1,148.5L68.9,149.0L68.5,149.3ZM91.5,169.5L89.2,169.7L87.4,169.2L84.8,167.5L84.5,167.0L84.5,166.2L85.5,165.5L87.0,165.2L90.2,165.4L92.0,165.9L93.0,166.8L93.2,168.0L92.8,168.9L91.5,169.5Z" fill="#6a6a6a" fill-opacity="0.070" stroke="#555" stroke-opacity="0.52" stroke-width="0.45"/><path d="M89.8,153.0L88.8,153.1L88.0,152.9L86.8,152.0L86.0,150.5L85.7,148.5L86.1,146.2L87.2,144.1L88.5,142.7L89.2,142.4L90.0,142.3L91.2,142.7L92.2,144.0L92.6,145.5L92.7,148.0L92.4,150.0L92.0,151.2L91.0,152.4L89.8,153.0ZM90.5,169.5L88.8,169.5L87.2,168.9L85.4,167.5L85.1,167.0L85.1,166.5L86.0,165.8L87.2,165.5L90.0,165.6L91.8,166.1L92.7,167.0L92.9,167.8L92.8,168.2L92.0,169.0L90.5,169.5Z" fill="#e4e4e4" fill-opacity="0.55" stroke="#555" stroke-opacity="0.52" stroke-width="0.45"/></g>
<rect x="65.0" y="139.4" width="0.55" height="0.55" fill="#888" fill-opacity="0.5"/><rect x="67.7" y="141.7" width="0.55" height="0.55" fill="#888" fill-opacity="0.5"/><rect x="62.1" y="152.3" width="0.55" height="0.55" fill="#888" fill-opacity="0.5"/><rect x="76.6" y="169.4" width="0.55" height="0.55" fill="#888" fill-opacity="0.5"/><rect x="74.0" y="144.5" width="0.55" height="0.55" fill="#888" fill-opacity="0.5"/><rect x="70.1" y="146.9" width="0.55" height="0.55" fill="#888" fill-opacity="0.5"/><rect x="63.9" y="139.6" width="0.55" height="0.55" fill="#888" fill-opacity="0.5"/><rect x="64.6" y="174.9" width="0.55" height="0.55" fill="#888" fill-opacity="0.5"/><rect x="75.1" y="169.7" width="0.55" height="0.55" fill="#888" fill-opacity="0.5"/><rect x="74.6" y="143.3" width="0.55" height="0.55" fill="#888" fill-opacity="0.5"/>
<path d="M58.50,121.50H117.20V180.20" fill="none" stroke="#c8c8c8" stroke-width="0.7"/>
<line x1="79.00" y1="121.50" x2="79.00" y2="180.20" stroke="#4a4a4a" stroke-width="0.9"/>
<line x1="58.50" y1="159.20" x2="117.20" y2="159.20" stroke="#4a4a4a" stroke-width="0.9"/>
<line x1="58.50" y1="121.50" x2="58.50" y2="180.60" stroke="#555" stroke-width="0.8"/>
<line x1="58.10" y1="180.20" x2="117.20" y2="180.20" stroke="#555" stroke-width="0.8"/>
<line x1="57.10" y1="127.10" x2="58.50" y2="127.10" stroke="#666" stroke-width="0.5"/>
<text x="47.40" y="128.90" font-size="5.0" fill="#231f20">10<tspan font-size="3.0" dy="-2.2">5</tspan></text>
<line x1="57.10" y1="141.13" x2="58.50" y2="141.13" stroke="#666" stroke-width="0.5"/>
<text x="47.40" y="142.93" font-size="5.0" fill="#231f20">10<tspan font-size="3.0" dy="-2.2">4</tspan></text>
<line x1="57.10" y1="154.39" x2="58.50" y2="154.39" stroke="#666" stroke-width="0.5"/>
<text x="47.40" y="156.19" font-size="5.0" fill="#231f20">10<tspan font-size="3.0" dy="-2.2">3</tspan></text>
<line x1="57.10" y1="167.78" x2="58.50" y2="167.78" stroke="#666" stroke-width="0.5"/>
<text x="47.40" y="169.58" font-size="5.0" fill="#231f20">10<tspan font-size="3.0" dy="-2.2">2</tspan></text>
<line x1="57.10" y1="174.29" x2="58.50" y2="174.29" stroke="#666" stroke-width="0.5"/>
<text x="53.90" y="176.09" font-size="5.0" text-anchor="end" fill="#231f20">0</text>
<line x1="70.08" y1="180.20" x2="70.08" y2="181.40" stroke="#666" stroke-width="0.5"/>
<text x="67.48" y="189.40" font-size="5.0" fill="#231f20">10<tspan font-size="3.0" dy="-2.2">2</tspan></text>
<line x1="84.87" y1="180.20" x2="84.87" y2="181.40" stroke="#666" stroke-width="0.5"/>
<text x="82.27" y="189.40" font-size="5.0" fill="#231f20">10<tspan font-size="3.0" dy="-2.2">3</tspan></text>
<line x1="98.37" y1="180.20" x2="98.37" y2="181.40" stroke="#666" stroke-width="0.5"/>
<text x="95.77" y="189.40" font-size="5.0" fill="#231f20">10<tspan font-size="3.0" dy="-2.2">4</tspan></text>
<line x1="111.11" y1="180.20" x2="111.11" y2="181.40" stroke="#666" stroke-width="0.5"/>
<text x="108.51" y="189.40" font-size="5.0" fill="#231f20">10<tspan font-size="3.0" dy="-2.2">5</tspan></text>
<text x="64.25" y="189.40" font-size="5.0" text-anchor="middle" fill="#231f20">0</text>
<text x="87.85" y="198.40" font-size="8.0" text-anchor="middle" fill="#231f20" textLength="17.20" lengthAdjust="spacingAndGlyphs">CD19</text>
<text x="41.50" y="149.09" font-size="7.6" text-anchor="middle" fill="#231f20" textLength="10.40" lengthAdjust="spacingAndGlyphs" transform="rotate(-90 41.50 149.09)">IgG</text>
<g filter="url(#fb)"><path d="M175.2,154.3L174.2,154.4L173.2,154.1L172.4,153.7L171.6,152.8L170.8,151.0L170.3,147.8L167.9,146.0L166.7,144.8L165.6,142.8L165.0,140.8L164.9,139.0L165.1,137.5L165.6,136.0L166.3,134.8L167.4,133.4L168.7,132.4L170.2,131.6L171.4,131.3L172.9,131.2L174.4,131.4L175.9,131.9L177.4,132.8L178.7,134.0L179.5,135.2L180.1,136.5L180.5,138.2L180.6,140.2L180.2,142.0L179.7,143.5L178.2,145.7L178.0,146.2L178.4,149.5L178.1,151.5L176.9,153.3L176.2,153.9L175.2,154.3Z" fill="#888" fill-opacity="0.02" stroke="#6a6a6a" stroke-opacity="0.50" stroke-width="0.45"/><path d="M175.2,153.3L173.7,153.3L172.9,152.9L172.2,152.2L171.7,151.2L171.4,150.2L171.2,147.1L170.7,146.6L168.7,145.3L167.7,144.2L166.6,142.5L165.8,140.2L165.6,139.0L165.8,137.8L166.1,136.8L166.8,135.5L167.9,134.3L169.2,133.3L170.4,132.7L171.7,132.4L172.9,132.3L174.2,132.4L175.4,132.8L176.7,133.6L177.7,134.5L178.6,135.8L179.5,138.2L179.6,140.0L179.3,141.8L178.7,143.2L177.2,145.2L177.0,146.0L177.6,149.0L177.5,150.8L177.1,151.8L176.5,152.5L175.2,153.3Z" fill="#888" fill-opacity="0.02" stroke="#6a6a6a" stroke-opacity="0.50" stroke-width="0.45"/><path d="M175.2,152.1L173.9,152.1L172.8,151.2L172.3,149.8L172.5,147.2L172.4,146.8L172.0,146.2L169.7,144.9L168.5,143.8L167.1,141.8L166.4,139.8L166.3,138.5L166.5,137.5L167.4,135.8L169.2,134.4L171.7,133.5L173.9,133.5L175.2,133.9L176.2,134.5L177.7,136.2L178.5,138.5L178.6,140.2L178.3,142.0L177.6,143.5L176.1,145.2L175.7,146.0L175.8,146.5L176.6,148.8L176.6,150.2L176.0,151.5L175.2,152.1Z" fill="#888" fill-opacity="0.02" stroke="#6a6a6a" stroke-opacity="0.50" stroke-width="0.45"/><path d="M174.4,145.3L173.7,145.5L172.9,145.4L170.7,144.6L169.3,143.2L167.6,141.0L167.1,139.5L167.2,137.8L167.9,136.4L169.2,135.4L171.7,134.7L173.9,134.8L175.7,135.7L177.1,137.5L177.8,139.8L177.8,141.0L177.5,142.0L176.4,143.8L174.4,145.3Z" fill="#888" fill-opacity="0.02" stroke="#6a6a6a" stroke-opacity="0.50" stroke-width="0.45"/><path d="M173.9,144.5L172.7,144.6L171.2,144.0L169.9,142.9L168.3,140.8L167.9,139.5L167.9,138.2L168.4,137.0L169.4,136.2L171.2,135.8L173.7,136.3L175.4,137.2L176.6,138.5L177.1,140.2L177.0,141.2L176.7,142.2L175.6,143.8L173.9,144.5Z" fill="#888" fill-opacity="0.02" stroke="#6a6a6a" stroke-opacity="0.50" stroke-width="0.45"/><path d="M174.4,143.8L173.2,143.9L171.9,143.6L170.9,142.9L169.5,141.2L168.9,140.2L168.7,139.0L169.0,138.0L169.7,137.1L170.4,136.8L171.4,136.8L174.7,137.9L175.9,138.9L176.5,140.2L176.3,141.8L175.6,143.0L174.4,143.8Z" fill="#888" fill-opacity="0.02" stroke="#6a6a6a" stroke-opacity="0.50" stroke-width="0.45"/></g>
<g filter="url(#fb)"><path d="M154.2,172.8L151.2,172.8L148.7,172.3L146.7,171.4L145.3,170.0L144.5,168.2L144.3,166.2L145.1,164.2L146.4,162.8L148.7,161.7L151.4,161.2L155.2,161.4L158.6,162.5L159.7,162.7L164.2,162.3L167.7,161.1L169.4,160.8L178.2,160.8L180.9,161.3L182.9,162.3L184.4,163.8L185.3,165.5L185.3,167.2L184.9,168.2L184.3,169.2L182.7,170.6L180.2,171.7L177.7,172.0L169.2,172.0L166.9,171.4L163.7,170.0L161.7,169.7L160.2,170.0L156.9,172.1L154.2,172.8Z" fill="#6a6a6a" fill-opacity="0.070" stroke="#555" stroke-opacity="0.52" stroke-width="0.45"/><path d="M152.9,172.3L150.4,172.1L148.2,171.4L146.7,170.4L145.6,169.0L145.1,167.2L145.3,165.5L146.2,164.0L147.9,162.7L150.7,161.8L154.2,161.8L156.2,162.3L159.9,164.0L161.4,164.4L166.9,162.0L168.7,161.5L170.4,161.4L173.9,161.5L178.2,161.4L180.4,161.8L182.4,162.8L183.9,164.2L184.5,165.8L184.4,167.5L183.3,169.2L181.7,170.4L179.4,171.2L177.2,171.4L170.9,171.5L168.9,171.3L166.7,170.6L162.7,168.4L161.7,168.0L160.7,168.4L158.2,170.5L156.9,171.3L155.2,172.0L152.9,172.3Z" fill="#6a6a6a" fill-opacity="0.070" stroke="#555" stroke-opacity="0.52" stroke-width="0.45"/><path d="M175.4,171.0L170.7,171.1L168.4,170.7L166.9,170.1L165.1,169.0L163.8,167.8L163.3,166.5L163.5,165.2L164.4,164.1L166.4,162.9L168.2,162.2L169.9,161.9L178.7,162.0L180.9,162.6L182.6,163.8L183.5,165.0L183.8,166.2L183.5,167.8L182.7,169.0L181.4,169.9L179.7,170.6L178.2,170.9L175.4,171.0ZM152.9,171.8L150.9,171.7L148.9,171.1L147.4,170.2L146.3,169.0L145.8,167.2L146.0,165.5L146.8,164.2L148.2,163.1L149.4,162.6L150.9,162.3L152.7,162.2L154.4,162.4L155.9,162.8L157.4,163.6L158.8,164.5L159.6,165.5L159.9,166.5L159.8,167.5L159.2,168.5L158.1,169.8L156.9,170.6L155.9,171.1L154.4,171.6L152.9,171.8Z" fill="#6a6a6a" fill-opacity="0.070" stroke="#555" stroke-opacity="0.52" stroke-width="0.45"/><path d="M174.7,170.8L172.4,170.9L170.4,170.7L168.9,170.3L167.2,169.6L165.7,168.6L164.8,167.5L164.4,166.2L164.7,165.2L165.5,164.2L167.2,163.2L168.7,162.6L170.4,162.4L178.7,162.5L180.7,163.1L182.2,164.2L182.9,165.5L183.0,166.8L182.6,168.0L181.7,169.0L180.7,169.7L179.2,170.2L174.7,170.8ZM152.7,171.3L150.7,171.1L148.9,170.5L147.7,169.7L146.7,168.5L146.4,167.0L146.7,165.5L147.4,164.3L148.7,163.4L149.9,162.9L151.4,162.7L154.4,163.0L156.8,164.0L157.8,164.8L158.5,165.8L158.8,166.5L158.7,167.5L158.2,168.5L157.4,169.5L156.4,170.2L155.2,170.8L152.7,171.3Z" fill="#6a6a6a" fill-opacity="0.070" stroke="#555" stroke-opacity="0.52" stroke-width="0.45"/><path d="M174.4,170.5L172.4,170.6L170.7,170.4L169.2,170.0L167.8,169.2L166.4,168.2L165.7,167.2L165.4,166.2L165.7,165.2L166.6,164.2L167.9,163.4L169.4,163.0L171.2,162.8L178.4,163.0L180.4,163.7L181.7,164.8L182.2,165.8L182.2,166.8L181.8,168.0L180.9,168.9L179.9,169.5L178.7,169.9L174.4,170.5ZM154.2,170.5L152.7,170.7L150.9,170.6L149.2,170.1L147.9,169.2L147.2,168.2L147.0,167.0L147.2,165.5L147.9,164.5L148.7,163.9L149.7,163.4L152.2,163.1L154.7,163.6L156.6,164.8L157.3,165.5L157.6,166.2L157.7,167.0L157.5,168.0L156.2,169.6L154.2,170.5Z" fill="#6a6a6a" fill-opacity="0.070" stroke="#555" stroke-opacity="0.52" stroke-width="0.45"/><path d="M174.7,170.3L172.9,170.3L171.2,170.2L169.9,169.8L168.9,169.2L167.4,168.0L166.7,167.0L166.5,166.0L166.9,165.0L167.6,164.2L168.7,163.6L169.9,163.3L171.9,163.1L178.2,163.7L179.7,164.2L180.7,165.0L181.2,165.8L181.3,166.8L181.0,167.8L180.4,168.5L179.7,169.1L178.4,169.6L174.7,170.3ZM153.7,170.0L152.2,170.2L150.7,170.1L149.2,169.6L148.2,168.9L147.6,168.0L147.5,167.0L147.7,165.8L148.3,164.8L148.9,164.2L149.9,163.8L151.9,163.5L153.9,163.9L155.8,165.0L156.6,166.2L156.7,167.0L156.5,167.8L156.1,168.5L155.4,169.2L153.7,170.0Z" fill="#6a6a6a" fill-opacity="0.070" stroke="#555" stroke-opacity="0.52" stroke-width="0.45"/><path d="M174.9,170.0L171.9,170.0L170.8,169.8L169.7,169.2L169.0,168.5L167.6,166.2L167.5,165.5L167.9,164.8L168.7,164.1L169.9,163.6L172.9,163.5L175.2,163.8L177.7,164.5L178.9,165.0L179.7,165.7L180.2,166.5L180.3,167.2L180.1,168.0L179.7,168.5L177.9,169.4L174.9,170.0ZM153.4,169.5L152.2,169.7L150.7,169.7L149.4,169.3L148.7,168.8L148.1,168.0L147.9,167.0L148.1,166.0L148.7,165.0L149.9,164.2L151.7,163.9L153.4,164.2L154.9,165.1L155.7,166.2L155.8,167.5L155.0,168.8L153.4,169.5Z" fill="#6a6a6a" fill-opacity="0.070" stroke="#555" stroke-opacity="0.52" stroke-width="0.45"/><path d="M175.2,169.8L172.2,169.8L171.1,169.5L170.2,169.0L169.9,168.5L169.8,167.2L168.7,166.3L168.3,165.8L168.3,165.2L168.6,164.8L169.4,164.2L170.7,163.8L172.2,163.7L173.9,163.9L175.8,164.5L178.7,166.2L179.3,166.8L179.5,167.2L179.5,167.8L179.0,168.5L177.4,169.2L175.2,169.8ZM152.7,169.3L151.4,169.4L150.4,169.2L149.4,168.8L148.8,168.2L148.4,167.5L148.3,166.8L148.7,165.8L149.4,165.0L150.9,164.3L152.4,164.3L153.9,164.9L154.9,165.8L155.2,167.0L154.9,168.0L153.9,168.8L152.7,169.3Z" fill="#6a6a6a" fill-opacity="0.070" stroke="#555" stroke-opacity="0.52" stroke-width="0.45"/><path d="M175.2,169.5L172.9,169.5L171.1,169.0L170.6,168.2L170.7,167.0L169.2,165.8L169.1,165.5L169.2,165.0L169.8,164.5L170.9,164.1L172.2,164.0L173.7,164.2L175.1,164.8L178.6,167.0L178.8,167.8L178.2,168.5L176.7,169.2L175.2,169.5ZM151.9,169.0L150.9,169.0L149.9,168.6L149.2,168.0L148.8,167.2L148.8,166.5L149.4,165.6L150.4,164.9L151.4,164.6L152.7,164.7L153.7,165.2L154.5,166.0L154.7,166.8L154.5,167.5L154.0,168.2L153.1,168.8L151.9,169.0Z" fill="#6a6a6a" fill-opacity="0.070" stroke="#555" stroke-opacity="0.52" stroke-width="0.45"/><path d="M175.4,169.3L173.4,169.3L171.6,168.8L171.2,168.2L171.4,167.0L170.1,165.8L170.0,165.2L170.2,165.0L171.4,164.4L173.5,164.5L174.4,164.9L177.8,167.0L178.0,167.5L177.7,168.2L176.7,168.9L175.4,169.3ZM152.7,168.5L151.2,168.7L150.0,168.2L149.2,167.2L149.2,166.8L149.4,166.2L150.2,165.5L151.4,165.0L152.4,165.0L153.4,165.4L154.1,166.2L154.2,167.0L153.7,167.9L152.7,168.5Z" fill="#e4e4e4" fill-opacity="0.55" stroke="#555" stroke-opacity="0.52" stroke-width="0.45"/></g>
<rect x="158.7" y="146.0" width="0.55" height="0.55" fill="#888" fill-opacity="0.6"/><rect x="156.7" y="150.2" width="0.55" height="0.55" fill="#888" fill-opacity="0.6"/><rect x="149.6" y="145.1" width="0.55" height="0.55" fill="#888" fill-opacity="0.6"/><rect x="158.7" y="149.6" width="0.55" height="0.55" fill="#888" fill-opacity="0.6"/><rect x="154.0" y="136.2" width="0.55" height="0.55" fill="#888" fill-opacity="0.6"/><rect x="151.8" y="151.9" width="0.55" height="0.55" fill="#888" fill-opacity="0.6"/><rect x="147.4" y="139.1" width="0.55" height="0.55" fill="#888" fill-opacity="0.6"/><rect x="159.3" y="141.5" width="0.55" height="0.55" fill="#888" fill-opacity="0.6"/><rect x="148.9" y="139.0" width="0.55" height="0.55" fill="#888" fill-opacity="0.6"/><rect x="158.7" y="139.4" width="0.55" height="0.55" fill="#888" fill-opacity="0.6"/><rect x="152.0" y="144.9" width="0.55" height="0.55" fill="#888" fill-opacity="0.6"/><rect x="157.3" y="142.4" width="0.55" height="0.55" fill="#888" fill-opacity="0.6"/><rect x="147.1" y="143.9" width="0.55" height="0.55" fill="#888" fill-opacity="0.6"/><rect x="146.5" y="134.8" width="0.55" height="0.55" fill="#888" fill-opacity="0.6"/>
<path d="M141.70,121.50H200.20V180.20" fill="none" stroke="#c8c8c8" stroke-width="0.7"/>
<line x1="162.40" y1="121.50" x2="162.40" y2="180.20" stroke="#4a4a4a" stroke-width="0.9"/>
<line x1="141.70" y1="157.40" x2="200.20" y2="157.40" stroke="#4a4a4a" stroke-width="0.9"/>
<line x1="141.70" y1="121.50" x2="141.70" y2="180.60" stroke="#555" stroke-width="0.8"/>
<line x1="141.30" y1="180.20" x2="200.20" y2="180.20" stroke="#555" stroke-width="0.8"/>
<line x1="140.30" y1="127.10" x2="141.70" y2="127.10" stroke="#666" stroke-width="0.5"/>
<text x="130.60" y="128.90" font-size="5.0" fill="#231f20">10<tspan font-size="3.0" dy="-2.2">5</tspan></text>
<line x1="140.30" y1="141.13" x2="141.70" y2="141.13" stroke="#666" stroke-width="0.5"/>
<text x="130.60" y="142.93" font-size="5.0" fill="#231f20">10<tspan font-size="3.0" dy="-2.2">4</tspan></text>
<line x1="140.30" y1="154.39" x2="141.70" y2="154.39" stroke="#666" stroke-width="0.5"/>
<text x="130.60" y="156.19" font-size="5.0" fill="#231f20">10<tspan font-size="3.0" dy="-2.2">3</tspan></text>
<line x1="140.30" y1="167.78" x2="141.70" y2="167.78" stroke="#666" stroke-width="0.5"/>
<text x="130.60" y="169.58" font-size="5.0" fill="#231f20">10<tspan font-size="3.0" dy="-2.2">2</tspan></text>
<line x1="140.30" y1="174.29" x2="141.70" y2="174.29" stroke="#666" stroke-width="0.5"/>
<text x="137.10" y="176.09" font-size="5.0" text-anchor="end" fill="#231f20">0</text>
<line x1="153.25" y1="180.20" x2="153.25" y2="181.40" stroke="#666" stroke-width="0.5"/>
<text x="150.65" y="189.40" font-size="5.0" fill="#231f20">10<tspan font-size="3.0" dy="-2.2">2</tspan></text>
<line x1="167.99" y1="180.20" x2="167.99" y2="181.40" stroke="#666" stroke-width="0.5"/>
<text x="165.39" y="189.40" font-size="5.0" fill="#231f20">10<tspan font-size="3.0" dy="-2.2">3</tspan></text>
<line x1="181.45" y1="180.20" x2="181.45" y2="181.40" stroke="#666" stroke-width="0.5"/>
<text x="178.85" y="189.40" font-size="5.0" fill="#231f20">10<tspan font-size="3.0" dy="-2.2">4</tspan></text>
<line x1="194.14" y1="180.20" x2="194.14" y2="181.40" stroke="#666" stroke-width="0.5"/>
<text x="191.54" y="189.40" font-size="5.0" fill="#231f20">10<tspan font-size="3.0" dy="-2.2">5</tspan></text>
<text x="147.43" y="189.40" font-size="5.0" text-anchor="middle" fill="#231f20">0</text>
<text x="170.95" y="198.40" font-size="8.0" text-anchor="middle" fill="#231f20" textLength="17.20" lengthAdjust="spacingAndGlyphs">CD19</text>
<text x="124.70" y="149.09" font-size="7.6" text-anchor="middle" fill="#231f20" textLength="10.40" lengthAdjust="spacingAndGlyphs" transform="rotate(-90 124.70 149.09)">IgM</text>
<g filter="url(#fb)"><path d="M261.6,148.5L259.9,148.7L257.9,148.6L255.8,148.1L254.3,147.5L252.8,146.4L251.7,145.2L250.7,143.8L250.1,142.2L249.8,140.5L249.9,138.8L250.3,137.2L251.0,135.8L252.1,134.2L253.3,133.1L254.8,132.1L256.9,131.4L258.6,131.1L260.6,131.1L262.4,131.4L264.1,132.1L265.9,133.2L267.2,134.5L268.2,136.0L268.9,137.8L269.2,139.5L269.1,141.2L268.6,143.0L267.8,144.5L266.6,145.9L265.1,147.1L263.6,147.9L261.6,148.5Z" fill="#888" fill-opacity="0.02" stroke="#6a6a6a" stroke-opacity="0.50" stroke-width="0.45"/><path d="M260.6,147.5L258.9,147.6L257.1,147.4L255.6,146.9L254.3,146.3L253.1,145.3L252.2,144.2L251.5,143.0L251.2,141.8L251.0,140.2L251.2,138.5L251.7,137.0L252.4,135.8L253.3,134.7L254.6,133.7L256.1,132.9L257.9,132.4L259.6,132.2L261.4,132.4L262.9,132.9L264.4,133.6L265.6,134.6L266.6,135.8L267.3,137.0L267.8,138.5L267.9,140.0L267.7,141.5L267.2,143.0L266.2,144.5L265.1,145.6L263.6,146.6L262.1,147.2L260.6,147.5Z" fill="#888" fill-opacity="0.02" stroke="#6a6a6a" stroke-opacity="0.50" stroke-width="0.45"/><path d="M259.9,146.5L258.4,146.6L256.9,146.5L255.6,146.1L254.3,145.4L252.8,143.8L252.2,142.5L252.0,141.2L252.1,139.8L252.5,138.2L253.2,136.8L254.0,135.8L255.1,134.8L256.4,134.0L257.6,133.6L259.1,133.4L260.6,133.4L261.9,133.7L263.1,134.3L264.2,135.0L265.2,136.0L265.9,137.0L266.4,138.2L266.6,139.5L266.6,140.8L266.3,142.0L265.6,143.2L264.9,144.2L263.9,145.1L262.6,145.8L259.9,146.5Z" fill="#888" fill-opacity="0.02" stroke="#6a6a6a" stroke-opacity="0.50" stroke-width="0.45"/><path d="M258.4,145.8L257.1,145.7L255.8,145.4L254.0,144.2L253.3,143.2L252.9,142.2L252.8,141.2L252.9,140.0L253.4,138.8L254.1,137.7L256.1,135.7L257.1,135.2L258.4,134.8L259.6,134.6L260.9,134.8L262.9,135.7L264.4,137.2L265.1,139.0L265.0,141.0L264.2,142.8L262.9,144.1L260.6,145.3L258.4,145.8Z" fill="#888" fill-opacity="0.02" stroke="#6a6a6a" stroke-opacity="0.50" stroke-width="0.45"/><path d="M258.6,145.0L256.6,145.0L254.8,144.2L253.7,142.8L253.4,141.8L253.5,140.8L254.1,139.1L255.3,137.8L258.1,135.9L259.1,135.6L260.1,135.6L261.4,136.1L262.5,137.2L263.2,139.0L263.2,140.5L262.6,142.0L261.5,143.5L260.1,144.5L258.6,145.0Z" fill="#888" fill-opacity="0.02" stroke="#6a6a6a" stroke-opacity="0.50" stroke-width="0.45"/><path d="M257.9,144.5L256.1,144.3L254.8,143.5L254.0,142.0L254.1,140.5L255.0,139.0L258.0,136.8L259.1,136.3L260.1,136.3L261.3,137.0L261.8,138.0L261.1,142.0L260.6,143.0L259.9,143.8L258.9,144.3L257.9,144.5Z" fill="#888" fill-opacity="0.02" stroke="#6a6a6a" stroke-opacity="0.50" stroke-width="0.45"/></g>
<g filter="url(#fb)"><path d="M263.1,171.8L259.4,171.3L256.4,171.5L254.6,171.3L252.8,170.6L249.6,168.5L247.1,167.9L245.1,167.2L244.3,167.4L242.1,169.2L240.3,170.1L238.3,170.4L236.6,170.1L235.3,169.5L234.3,168.8L233.6,168.0L232.8,166.8L232.2,164.5L232.2,163.2L232.4,162.0L233.1,160.5L234.1,159.3L235.3,158.4L236.8,157.8L238.8,157.6L241.1,158.1L242.6,158.9L244.3,160.4L245.1,160.8L248.8,159.4L251.8,156.6L253.1,155.8L254.3,155.4L256.1,155.1L259.6,155.3L262.9,155.1L264.9,155.4L266.1,155.9L267.4,156.8L268.6,158.0L269.4,159.2L270.0,160.8L270.3,162.0L270.3,165.8L269.7,168.0L269.1,169.0L268.1,170.0L266.9,170.8L265.6,171.4L263.1,171.8Z" fill="#6a6a6a" fill-opacity="0.070" stroke="#555" stroke-opacity="0.52" stroke-width="0.45"/><path d="M264.4,171.0L262.4,171.1L258.9,170.6L255.6,170.6L253.6,170.1L252.1,169.1L247.5,165.5L246.7,164.2L246.8,163.2L247.5,162.2L251.6,157.9L252.8,156.9L254.1,156.3L256.1,156.0L259.6,156.2L262.9,156.0L264.1,156.1L265.4,156.5L267.4,157.9L268.8,160.0L269.5,162.2L269.6,165.5L269.2,167.5L268.1,169.2L266.4,170.4L264.4,171.0ZM239.6,169.6L237.6,169.6L235.6,168.9L234.1,167.5L233.0,165.5L232.9,163.2L233.5,161.0L234.6,159.5L236.3,158.6L237.6,158.3L239.3,158.3L240.6,158.6L241.8,159.1L242.8,159.7L243.8,160.8L245.2,163.5L245.3,164.0L245.0,164.8L242.8,167.7L241.3,168.9L239.6,169.6Z" fill="#6a6a6a" fill-opacity="0.070" stroke="#555" stroke-opacity="0.52" stroke-width="0.45"/><path d="M264.4,170.5L262.6,170.6L258.9,169.9L255.1,169.8L253.3,169.1L251.6,167.8L250.4,166.5L249.7,165.5L249.3,163.5L249.4,162.5L249.8,161.5L251.8,158.8L252.8,157.8L253.8,157.2L255.1,156.8L256.4,156.7L263.6,156.8L265.4,157.3L266.9,158.4L268.0,160.0L268.7,161.8L269.0,164.5L268.9,166.5L268.3,168.0L267.4,169.2L265.9,170.1L264.4,170.5ZM239.1,169.0L237.3,168.9L235.6,168.1L234.3,166.9L233.6,165.2L233.5,163.0L234.0,161.0L235.1,159.7L236.6,159.0L239.6,158.9L241.6,159.4L243.0,160.5L244.0,162.2L244.1,163.5L243.9,164.5L242.8,166.8L241.1,168.3L239.1,169.0Z" fill="#6a6a6a" fill-opacity="0.070" stroke="#555" stroke-opacity="0.52" stroke-width="0.45"/><path d="M264.6,170.0L262.4,170.1L258.6,169.3L255.3,169.0L254.1,168.6L252.8,167.9L251.1,166.0L250.6,165.0L250.4,164.0L250.6,162.0L251.9,159.8L252.8,158.8L253.8,158.1L254.8,157.7L256.1,157.5L263.4,157.5L264.9,157.9L266.1,158.7L267.2,160.0L267.9,161.5L268.4,164.0L268.4,166.0L268.0,167.5L267.3,168.5L266.1,169.4L264.6,170.0ZM239.6,168.3L238.1,168.4L236.6,168.0L235.3,167.1L234.5,165.8L234.0,163.8L234.1,161.8L234.8,160.4L236.1,159.5L237.6,159.3L240.8,159.6L242.3,160.3L243.2,161.5L243.5,162.5L243.5,163.5L243.0,165.2L241.5,167.2L240.6,167.9L239.6,168.3Z" fill="#6a6a6a" fill-opacity="0.070" stroke="#555" stroke-opacity="0.52" stroke-width="0.45"/><path d="M264.6,169.5L263.4,169.7L261.9,169.6L258.6,168.7L255.1,168.1L253.4,167.2L252.0,165.8L251.4,164.0L251.5,162.2L252.5,160.2L254.1,158.9L255.1,158.5L256.4,158.2L262.9,158.2L264.4,158.6L265.5,159.2L266.4,160.2L267.1,161.5L267.8,164.0L267.9,165.8L267.6,167.0L266.9,168.2L265.9,169.0L264.6,169.5ZM239.6,167.5L238.1,167.7L236.8,167.3L235.8,166.6L235.1,165.5L234.5,163.5L234.5,162.0L235.1,160.8L236.1,160.0L237.6,159.7L240.8,159.9L242.1,160.5L242.9,161.5L243.1,163.0L242.6,164.9L241.1,166.7L239.6,167.5Z" fill="#6a6a6a" fill-opacity="0.070" stroke="#555" stroke-opacity="0.52" stroke-width="0.45"/><path d="M264.4,169.0L263.1,169.2L261.6,169.0L255.5,167.2L254.1,166.6L252.9,165.2L252.3,163.8L252.4,162.2L253.0,161.0L253.8,160.1L254.8,159.5L256.1,159.1L257.9,158.9L262.1,158.9L263.6,159.3L264.9,159.9L265.8,161.0L266.5,162.2L267.2,164.2L267.3,165.8L267.1,166.8L266.5,167.8L265.6,168.5L264.4,169.0ZM239.6,166.6L238.3,166.7L237.3,166.5L236.3,165.7L235.3,164.3L234.9,163.2L234.9,162.2L235.3,161.2L236.1,160.5L237.3,160.1L240.6,160.2L241.6,160.5L242.4,161.2L242.7,162.0L242.8,162.8L242.2,164.5L241.1,165.8L239.6,166.6Z" fill="#6a6a6a" fill-opacity="0.070" stroke="#555" stroke-opacity="0.52" stroke-width="0.45"/><path d="M264.1,168.5L262.6,168.6L261.1,168.3L254.6,165.7L253.6,164.8L253.0,163.8L253.0,162.5L253.4,161.5L254.3,160.6L255.3,160.1L258.9,159.4L261.6,159.5L262.9,159.8L263.9,160.3L264.8,161.2L265.6,162.4L266.4,164.0L266.7,165.2L266.6,166.2L266.1,167.3L265.3,168.0L264.1,168.5ZM240.3,165.3L238.8,165.4L237.1,164.8L236.1,164.2L235.6,163.5L235.4,162.8L235.5,162.0L236.0,161.2L236.7,160.8L237.6,160.6L240.8,160.5L241.9,161.0L242.5,162.0L242.3,163.2L241.3,164.7L240.3,165.3Z" fill="#6a6a6a" fill-opacity="0.070" stroke="#555" stroke-opacity="0.52" stroke-width="0.45"/><path d="M264.1,167.8L262.6,168.0L261.1,167.7L255.1,165.2L254.2,164.5L253.7,163.8L253.6,162.8L253.8,162.0L254.3,161.3L255.1,160.8L257.6,160.1L260.6,159.8L262.8,160.5L263.6,161.1L264.3,162.0L265.6,163.9L266.0,165.0L265.9,166.0L265.6,166.7L265.1,167.2L264.1,167.8ZM240.8,164.3L239.8,164.5L236.9,163.8L236.2,163.0L236.3,162.2L236.9,161.5L237.6,161.2L239.1,161.1L240.6,160.8L241.3,160.9L242.0,161.5L242.2,162.5L241.8,163.4L240.8,164.3Z" fill="#6a6a6a" fill-opacity="0.070" stroke="#555" stroke-opacity="0.52" stroke-width="0.45"/><path d="M263.1,167.0L261.9,167.1L260.6,166.9L255.5,164.8L254.8,164.2L254.3,163.5L254.2,162.8L254.3,162.2L254.8,161.6L255.6,161.1L257.6,160.5L260.1,160.3L262.1,160.8L262.9,161.4L263.6,162.2L264.7,164.0L265.0,165.0L264.9,165.8L264.6,166.2L263.1,167.0ZM241.1,163.6L240.1,163.6L239.1,163.1L238.1,162.9L237.8,162.5L238.1,162.1L238.8,161.9L239.9,161.2L241.1,161.2L241.6,161.6L241.9,162.2L241.7,163.0L241.1,163.6Z" fill="#6a6a6a" fill-opacity="0.070" stroke="#555" stroke-opacity="0.52" stroke-width="0.45"/><path d="M261.9,166.3L260.4,166.1L256.0,164.5L254.9,163.5L254.8,162.8L255.0,162.2L256.1,161.3L257.9,160.8L260.1,160.7L261.6,161.2L262.9,162.5L263.6,163.8L263.8,164.5L263.8,165.0L263.4,165.6L261.9,166.3ZM241.1,163.1L240.3,163.2L239.8,162.8L239.6,162.2L239.9,161.8L240.6,161.5L241.1,161.8L241.4,162.5L241.1,163.1Z" fill="#e4e4e4" fill-opacity="0.55" stroke="#555" stroke-opacity="0.52" stroke-width="0.45"/></g>
<path d="M228.10,121.50H286.50V180.20" fill="none" stroke="#c8c8c8" stroke-width="0.7"/>
<line x1="248.00" y1="121.50" x2="248.00" y2="180.20" stroke="#4a4a4a" stroke-width="0.9"/>
<line x1="228.10" y1="152.00" x2="286.50" y2="152.00" stroke="#4a4a4a" stroke-width="0.9"/>
<line x1="228.10" y1="121.50" x2="228.10" y2="180.60" stroke="#555" stroke-width="0.8"/>
<line x1="227.70" y1="180.20" x2="286.50" y2="180.20" stroke="#555" stroke-width="0.8"/>
<line x1="226.70" y1="127.10" x2="228.10" y2="127.10" stroke="#666" stroke-width="0.5"/>
<text x="217.00" y="128.90" font-size="5.0" fill="#231f20">10<tspan font-size="3.0" dy="-2.2">5</tspan></text>
<line x1="226.70" y1="141.13" x2="228.10" y2="141.13" stroke="#666" stroke-width="0.5"/>
<text x="217.00" y="142.93" font-size="5.0" fill="#231f20">10<tspan font-size="3.0" dy="-2.2">4</tspan></text>
<line x1="226.70" y1="154.39" x2="228.10" y2="154.39" stroke="#666" stroke-width="0.5"/>
<text x="217.00" y="156.19" font-size="5.0" fill="#231f20">10<tspan font-size="3.0" dy="-2.2">3</tspan></text>
<line x1="226.70" y1="167.78" x2="228.10" y2="167.78" stroke="#666" stroke-width="0.5"/>
<text x="217.00" y="169.58" font-size="5.0" fill="#231f20">10<tspan font-size="3.0" dy="-2.2">2</tspan></text>
<line x1="226.70" y1="174.29" x2="228.10" y2="174.29" stroke="#666" stroke-width="0.5"/>
<text x="223.50" y="176.09" font-size="5.0" text-anchor="end" fill="#231f20">0</text>
<line x1="239.64" y1="180.20" x2="239.64" y2="181.40" stroke="#666" stroke-width="0.5"/>
<text x="237.04" y="189.40" font-size="5.0" fill="#231f20">10<tspan font-size="3.0" dy="-2.2">2</tspan></text>
<line x1="254.35" y1="180.20" x2="254.35" y2="181.40" stroke="#666" stroke-width="0.5"/>
<text x="251.75" y="189.40" font-size="5.0" fill="#231f20">10<tspan font-size="3.0" dy="-2.2">3</tspan></text>
<line x1="267.78" y1="180.20" x2="267.78" y2="181.40" stroke="#666" stroke-width="0.5"/>
<text x="265.18" y="189.40" font-size="5.0" fill="#231f20">10<tspan font-size="3.0" dy="-2.2">4</tspan></text>
<line x1="280.46" y1="180.20" x2="280.46" y2="181.40" stroke="#666" stroke-width="0.5"/>
<text x="277.86" y="189.40" font-size="5.0" fill="#231f20">10<tspan font-size="3.0" dy="-2.2">5</tspan></text>
<text x="233.82" y="189.40" font-size="5.0" text-anchor="middle" fill="#231f20">0</text>
<text x="257.30" y="198.40" font-size="8.0" text-anchor="middle" fill="#231f20" textLength="17.20" lengthAdjust="spacingAndGlyphs">CD19</text>
<text x="211.10" y="149.09" font-size="7.6" text-anchor="middle" fill="#231f20" textLength="10.40" lengthAdjust="spacingAndGlyphs" transform="rotate(-90 211.10 149.09)">IgA</text>
<text x="104.30" y="205.20" font-size="8.0" text-anchor="middle" fill="#231f20" textLength="17.00" lengthAdjust="spacingAndGlyphs">CD19</text>
<line x1="113" y1="203.1" x2="237" y2="203.1" stroke="#231f20" stroke-width="1"/>
<path d="M243.6,203.1L235.6,199.9L237.4,203.1L235.6,206.3Z" fill="#231f20"/>
<defs>
<filter id="wb1" x="-30%" y="-30%" width="160%" height="160%"><feGaussianBlur stdDeviation="1.3"/></filter>
<filter id="wb2" x="-30%" y="-30%" width="160%" height="160%"><feGaussianBlur stdDeviation="0.7"/></filter>
<filter id="wb3" x="-30%" y="-30%" width="160%" height="160%"><feGaussianBlur stdDeviation="2.2"/></filter>
<filter id="wb5" x="-30%" y="-30%" width="160%" height="160%"><feGaussianBlur stdDeviation="1.0"/></filter>
<filter id="wb4"><feGaussianBlur stdDeviation="0.35"/></filter>
</defs>
<svg x="358.00" y="337.20" width="41.60" height="41.70" viewBox="358.00 337.20 41.60 41.70" overflow="hidden">
<rect x="358.00" y="337.20" width="41.60" height="41.70" fill="#ecd0dc"/>
<circle cx="379.10" cy="358.40" r="22.80" fill="#f5e9ee" filter="url(#wb1)"/>
<radialGradient id="wg0" cx="0.5" cy="0.5" r="0.5"><stop offset="0" stop-color="#8a9488"/><stop offset="0.755" stop-color="#8a9488"/><stop offset="0.788" stop-color="#61695d"/><stop offset="0.825" stop-color="#8a9488" stop-opacity="0.95"/><stop offset="0.887" stop-color="#61695d" stop-opacity="0.75"/><stop offset="1" stop-color="#61695d" stop-opacity="0"/></radialGradient>
<circle cx="379.10" cy="358.40" r="21.20" fill="url(#wg0)" filter="url(#wb2)"/>
<g filter="url(#wb4)"><circle cx="386.94" cy="346.78" r="0.50" fill="#3f5a60" fill-opacity="0.55"/><circle cx="368.88" cy="357.67" r="0.62" fill="#3f5a60" fill-opacity="0.57"/><circle cx="366.94" cy="360.20" r="0.67" fill="#3f5a60" fill-opacity="0.65"/><circle cx="376.32" cy="372.12" r="0.57" fill="#3f5a60" fill-opacity="0.55"/><circle cx="392.56" cy="349.83" r="0.63" fill="#3f5a60" fill-opacity="0.81"/><circle cx="374.02" cy="371.18" r="0.66" fill="#3f5a60" fill-opacity="0.72"/><circle cx="374.07" cy="359.29" r="0.50" fill="#3f5a60" fill-opacity="0.69"/><circle cx="392.62" cy="350.17" r="0.52" fill="#3f5a60" fill-opacity="0.80"/><circle cx="378.15" cy="372.81" r="0.54" fill="#3f5a60" fill-opacity="0.46"/><circle cx="377.18" cy="348.42" r="0.64" fill="#3f5a60" fill-opacity="0.72"/><circle cx="390.41" cy="358.48" r="0.65" fill="#3f5a60" fill-opacity="0.55"/><circle cx="372.26" cy="371.78" r="0.42" fill="#3f5a60" fill-opacity="0.68"/><circle cx="380.23" cy="374.20" r="0.63" fill="#3f5a60" fill-opacity="0.63"/><circle cx="387.07" cy="362.81" r="0.53" fill="#3f5a60" fill-opacity="0.82"/></g>
<text x="361.80" y="344.50" font-size="5.0" font-weight="bold" fill="#111" stroke="none" font-family="Liberation Serif, serif">65</text>
</svg>
<svg x="399.60" y="337.20" width="41.60" height="41.70" viewBox="399.60 337.20 41.60 41.70" overflow="hidden">
<rect x="399.60" y="337.20" width="41.60" height="41.70" fill="#ecd0dc"/>
<circle cx="420.80" cy="357.60" r="23.00" fill="#f5e9ee" filter="url(#wb1)"/>
<radialGradient id="wg1" cx="0.5" cy="0.5" r="0.5"><stop offset="0" stop-color="#8e9488"/><stop offset="0.757" stop-color="#8e9488"/><stop offset="0.790" stop-color="#656b60"/><stop offset="0.827" stop-color="#8e9488" stop-opacity="0.95"/><stop offset="0.888" stop-color="#656b60" stop-opacity="0.75"/><stop offset="1" stop-color="#656b60" stop-opacity="0"/></radialGradient>
<circle cx="420.80" cy="357.60" r="21.40" fill="url(#wg1)" filter="url(#wb2)"/>
<g filter="url(#wb4)"><circle cx="430.77" cy="368.82" r="0.83" fill="#27485a" fill-opacity="0.55"/><circle cx="409.88" cy="357.91" r="0.78" fill="#27485a" fill-opacity="0.77"/><circle cx="423.08" cy="359.13" r="0.87" fill="#27485a" fill-opacity="0.62"/><circle cx="420.86" cy="356.85" r="0.67" fill="#27485a" fill-opacity="0.74"/><circle cx="422.91" cy="373.31" r="0.90" fill="#27485a" fill-opacity="0.46"/><circle cx="432.64" cy="359.51" r="0.92" fill="#27485a" fill-opacity="0.60"/><circle cx="423.01" cy="367.96" r="0.46" fill="#27485a" fill-opacity="0.54"/><circle cx="410.19" cy="361.97" r="0.57" fill="#27485a" fill-opacity="0.54"/><circle cx="422.95" cy="368.44" r="0.59" fill="#27485a" fill-opacity="0.46"/><circle cx="427.16" cy="347.24" r="0.77" fill="#27485a" fill-opacity="0.52"/><circle cx="435.90" cy="356.89" r="0.51" fill="#27485a" fill-opacity="0.58"/><circle cx="418.35" cy="344.07" r="0.92" fill="#27485a" fill-opacity="0.62"/><circle cx="427.23" cy="345.91" r="0.60" fill="#27485a" fill-opacity="0.69"/><circle cx="431.89" cy="347.51" r="0.70" fill="#27485a" fill-opacity="0.69"/><circle cx="428.64" cy="359.33" r="0.85" fill="#27485a" fill-opacity="0.62"/><circle cx="426.42" cy="368.29" r="0.80" fill="#27485a" fill-opacity="0.72"/><circle cx="413.18" cy="365.25" r="0.70" fill="#27485a" fill-opacity="0.76"/><circle cx="410.67" cy="356.26" r="0.69" fill="#27485a" fill-opacity="0.46"/></g>
<text x="403.40" y="344.50" font-size="5.0" font-weight="bold" fill="#111" stroke="none" font-family="Liberation Serif, serif">18</text>
</svg>
<svg x="441.20" y="337.20" width="41.60" height="41.70" viewBox="441.20 337.20 41.60 41.70" overflow="hidden">
<rect x="441.20" y="337.20" width="41.60" height="41.70" fill="#ecd0dc"/>
<circle cx="462.30" cy="358.20" r="23.60" fill="#f5e9ee" filter="url(#wb1)"/>
<radialGradient id="wg2" cx="0.5" cy="0.5" r="0.5"><stop offset="0" stop-color="#878e85"/><stop offset="0.764" stop-color="#878e85"/><stop offset="0.795" stop-color="#60665c"/><stop offset="0.832" stop-color="#878e85" stop-opacity="0.95"/><stop offset="0.891" stop-color="#60665c" stop-opacity="0.75"/><stop offset="1" stop-color="#60665c" stop-opacity="0"/></radialGradient>
<circle cx="462.30" cy="358.20" r="22.00" fill="url(#wg2)" filter="url(#wb2)"/>
<g filter="url(#wb4)"><circle cx="478.13" cy="353.71" r="0.48" fill="#23394a" fill-opacity="0.48"/><circle cx="469.72" cy="345.74" r="0.78" fill="#23394a" fill-opacity="0.57"/><circle cx="451.95" cy="350.07" r="0.74" fill="#23394a" fill-opacity="0.51"/><circle cx="452.69" cy="362.67" r="0.81" fill="#23394a" fill-opacity="0.85"/><circle cx="474.14" cy="354.30" r="0.67" fill="#23394a" fill-opacity="0.56"/><circle cx="465.03" cy="358.83" r="0.68" fill="#23394a" fill-opacity="0.58"/><circle cx="450.67" cy="369.12" r="0.71" fill="#23394a" fill-opacity="0.67"/><circle cx="462.53" cy="360.80" r="0.61" fill="#23394a" fill-opacity="0.50"/><circle cx="445.45" cy="357.12" r="0.79" fill="#23394a" fill-opacity="0.52"/><circle cx="474.14" cy="348.85" r="0.82" fill="#23394a" fill-opacity="0.81"/><circle cx="463.51" cy="343.23" r="0.63" fill="#23394a" fill-opacity="0.84"/><circle cx="468.89" cy="356.59" r="0.83" fill="#23394a" fill-opacity="0.74"/><circle cx="450.35" cy="361.16" r="0.70" fill="#23394a" fill-opacity="0.82"/><circle cx="446.89" cy="358.12" r="0.63" fill="#23394a" fill-opacity="0.80"/><circle cx="471.57" cy="351.44" r="0.73" fill="#23394a" fill-opacity="0.82"/><circle cx="460.37" cy="346.57" r="0.56" fill="#23394a" fill-opacity="0.58"/><circle cx="460.15" cy="351.66" r="0.90" fill="#23394a" fill-opacity="0.56"/><circle cx="470.28" cy="353.23" r="0.93" fill="#23394a" fill-opacity="0.73"/><circle cx="450.14" cy="357.88" r="0.78" fill="#23394a" fill-opacity="0.69"/><circle cx="459.38" cy="365.33" r="0.71" fill="#23394a" fill-opacity="0.82"/><circle cx="458.98" cy="354.96" r="0.86" fill="#23394a" fill-opacity="0.74"/><circle cx="468.48" cy="354.15" r="0.82" fill="#23394a" fill-opacity="0.47"/><circle cx="457.24" cy="350.96" r="0.56" fill="#23394a" fill-opacity="0.80"/><circle cx="471.89" cy="365.76" r="0.88" fill="#23394a" fill-opacity="0.55"/><circle cx="466.20" cy="373.57" r="0.66" fill="#23394a" fill-opacity="0.74"/><circle cx="472.27" cy="360.22" r="0.54" fill="#23394a" fill-opacity="0.72"/><circle cx="476.62" cy="366.42" r="0.46" fill="#23394a" fill-opacity="0.74"/><circle cx="470.77" cy="359.33" r="0.86" fill="#23394a" fill-opacity="0.51"/><circle cx="467.98" cy="371.05" r="0.64" fill="#23394a" fill-opacity="0.47"/><circle cx="468.86" cy="357.79" r="0.47" fill="#23394a" fill-opacity="0.59"/><circle cx="451.39" cy="348.55" r="0.51" fill="#23394a" fill-opacity="0.58"/><circle cx="473.41" cy="360.38" r="0.83" fill="#23394a" fill-opacity="0.75"/><circle cx="474.29" cy="349.72" r="0.88" fill="#23394a" fill-opacity="0.73"/><circle cx="454.39" cy="359.57" r="0.78" fill="#23394a" fill-opacity="0.58"/><circle cx="471.36" cy="364.96" r="0.89" fill="#23394a" fill-opacity="0.50"/><circle cx="453.18" cy="352.81" r="0.71" fill="#23394a" fill-opacity="0.51"/><circle cx="470.63" cy="356.05" r="0.75" fill="#23394a" fill-opacity="0.62"/><circle cx="474.84" cy="359.63" r="0.52" fill="#23394a" fill-opacity="0.47"/><circle cx="468.93" cy="359.62" r="0.50" fill="#23394a" fill-opacity="0.70"/><circle cx="445.56" cy="357.33" r="0.92" fill="#23394a" fill-opacity="0.85"/><circle cx="463.54" cy="369.40" r="0.58" fill="#23394a" fill-opacity="0.69"/><circle cx="451.55" cy="347.57" r="0.80" fill="#23394a" fill-opacity="0.55"/><circle cx="451.45" cy="363.90" r="0.45" fill="#23394a" fill-opacity="0.46"/><circle cx="457.57" cy="361.26" r="0.81" fill="#23394a" fill-opacity="0.55"/><circle cx="468.14" cy="362.43" r="0.57" fill="#23394a" fill-opacity="0.54"/><circle cx="450.88" cy="356.70" r="0.60" fill="#23394a" fill-opacity="0.71"/><circle cx="466.06" cy="373.85" r="0.93" fill="#23394a" fill-opacity="0.74"/><circle cx="451.25" cy="363.09" r="0.74" fill="#23394a" fill-opacity="0.47"/><circle cx="451.64" cy="364.23" r="0.54" fill="#23394a" fill-opacity="0.49"/><circle cx="465.62" cy="348.53" r="0.71" fill="#23394a" fill-opacity="0.82"/><circle cx="455.31" cy="352.38" r="0.94" fill="#23394a" fill-opacity="0.60"/><circle cx="476.19" cy="359.87" r="0.50" fill="#23394a" fill-opacity="0.57"/><circle cx="469.77" cy="346.53" r="0.46" fill="#23394a" fill-opacity="0.63"/><circle cx="452.33" cy="364.47" r="0.55" fill="#23394a" fill-opacity="0.69"/><circle cx="470.36" cy="362.23" r="0.64" fill="#23394a" fill-opacity="0.82"/><circle cx="475.32" cy="364.99" r="0.55" fill="#23394a" fill-opacity="0.68"/><circle cx="453.36" cy="365.43" r="0.83" fill="#23394a" fill-opacity="0.61"/><circle cx="466.55" cy="362.28" r="0.49" fill="#23394a" fill-opacity="0.79"/><circle cx="451.83" cy="345.38" r="0.80" fill="#23394a" fill-opacity="0.46"/><circle cx="454.25" cy="345.66" r="0.81" fill="#23394a" fill-opacity="0.65"/><circle cx="455.15" cy="367.11" r="0.85" fill="#23394a" fill-opacity="0.56"/><circle cx="450.78" cy="356.28" r="0.93" fill="#23394a" fill-opacity="0.77"/><circle cx="476.37" cy="351.80" r="0.60" fill="#23394a" fill-opacity="0.54"/><circle cx="453.71" cy="358.81" r="0.66" fill="#23394a" fill-opacity="0.72"/><circle cx="473.58" cy="351.87" r="0.86" fill="#23394a" fill-opacity="0.49"/><circle cx="451.87" cy="371.47" r="0.52" fill="#23394a" fill-opacity="0.62"/><circle cx="466.83" cy="360.22" r="0.90" fill="#23394a" fill-opacity="0.85"/><circle cx="458.68" cy="353.34" r="0.60" fill="#23394a" fill-opacity="0.54"/><circle cx="455.64" cy="345.95" r="0.67" fill="#23394a" fill-opacity="0.66"/><circle cx="471.77" cy="366.25" r="0.92" fill="#23394a" fill-opacity="0.75"/></g>
<text x="445.00" y="344.50" font-size="5.0" font-weight="bold" fill="#111" stroke="none" font-family="Liberation Serif, serif">80</text>
</svg>
<svg x="358.00" y="378.90" width="41.60" height="41.70" viewBox="358.00 378.90 41.60 41.70" overflow="hidden">
<rect x="358.00" y="378.90" width="41.60" height="41.70" fill="#ecd0dc"/>
<circle cx="379.10" cy="399.60" r="23.00" fill="#f5e9ee" filter="url(#wb1)"/>
<radialGradient id="wg10" cx="0.5" cy="0.5" r="0.5"><stop offset="0" stop-color="#909586"/><stop offset="0.757" stop-color="#909586"/><stop offset="0.790" stop-color="#676c60"/><stop offset="0.827" stop-color="#909586" stop-opacity="0.95"/><stop offset="0.888" stop-color="#676c60" stop-opacity="0.75"/><stop offset="1" stop-color="#676c60" stop-opacity="0"/></radialGradient>
<circle cx="379.10" cy="399.60" r="21.40" fill="url(#wg10)" filter="url(#wb2)"/>
<g filter="url(#wb4)"><circle cx="369.48" cy="394.97" r="0.55" fill="#3f5a60" fill-opacity="0.53"/><circle cx="384.83" cy="385.96" r="0.58" fill="#3f5a60" fill-opacity="0.51"/><circle cx="369.85" cy="398.39" r="0.44" fill="#3f5a60" fill-opacity="0.83"/><circle cx="382.54" cy="399.53" r="0.65" fill="#3f5a60" fill-opacity="0.69"/><circle cx="372.71" cy="405.48" r="0.59" fill="#3f5a60" fill-opacity="0.63"/><circle cx="373.90" cy="387.40" r="0.40" fill="#3f5a60" fill-opacity="0.76"/><circle cx="395.05" cy="397.83" r="0.56" fill="#3f5a60" fill-opacity="0.47"/><circle cx="385.06" cy="399.75" r="0.68" fill="#3f5a60" fill-opacity="0.57"/><circle cx="368.80" cy="411.11" r="0.46" fill="#3f5a60" fill-opacity="0.67"/><circle cx="375.28" cy="401.23" r="0.55" fill="#3f5a60" fill-opacity="0.79"/><circle cx="383.38" cy="406.02" r="0.49" fill="#3f5a60" fill-opacity="0.46"/><circle cx="364.36" cy="399.91" r="0.58" fill="#3f5a60" fill-opacity="0.66"/><circle cx="382.97" cy="394.62" r="0.55" fill="#3f5a60" fill-opacity="0.60"/><circle cx="374.70" cy="396.34" r="0.62" fill="#3f5a60" fill-opacity="0.49"/></g>
<text x="361.80" y="386.20" font-size="5.0" font-weight="bold" fill="#111" stroke="none" font-family="Liberation Serif, serif">63</text>
</svg>
<svg x="399.60" y="378.90" width="41.60" height="41.70" viewBox="399.60 378.90 41.60 41.70" overflow="hidden">
<rect x="399.60" y="378.90" width="41.60" height="41.70" fill="#ecd0dc"/>
<circle cx="420.60" cy="399.00" r="23.50" fill="#f5e9ee" filter="url(#wb1)"/>
<path d="M428,378.9 H441.2 V421 H433 C441,410 441,392 428,378.9Z" fill="#151515" filter="url(#wb3)"/>
<radialGradient id="wg11" cx="0.5" cy="0.5" r="0.5"><stop offset="0" stop-color="#8f9589"/><stop offset="0.763" stop-color="#8f9589"/><stop offset="0.795" stop-color="#686d61"/><stop offset="0.831" stop-color="#8f9589" stop-opacity="0.95"/><stop offset="0.890" stop-color="#686d61" stop-opacity="0.75"/><stop offset="1" stop-color="#686d61" stop-opacity="0"/></radialGradient>
<circle cx="420.60" cy="399.00" r="21.90" fill="url(#wg11)" filter="url(#wb2)"/>
<g filter="url(#wb4)"><circle cx="408.59" cy="402.71" r="0.91" fill="#2e5060" fill-opacity="0.64"/><circle cx="407.74" cy="398.37" r="0.54" fill="#2e5060" fill-opacity="0.65"/><circle cx="410.35" cy="388.10" r="0.50" fill="#2e5060" fill-opacity="0.57"/><circle cx="433.33" cy="407.15" r="0.80" fill="#2e5060" fill-opacity="0.47"/><circle cx="437.00" cy="397.16" r="0.78" fill="#2e5060" fill-opacity="0.70"/><circle cx="421.73" cy="400.72" r="0.71" fill="#2e5060" fill-opacity="0.47"/><circle cx="423.63" cy="406.69" r="0.47" fill="#2e5060" fill-opacity="0.64"/><circle cx="406.24" cy="404.63" r="0.71" fill="#2e5060" fill-opacity="0.71"/><circle cx="406.93" cy="399.02" r="0.68" fill="#2e5060" fill-opacity="0.56"/><circle cx="437.36" cy="398.75" r="0.87" fill="#2e5060" fill-opacity="0.73"/><circle cx="417.39" cy="406.38" r="0.59" fill="#2e5060" fill-opacity="0.48"/><circle cx="421.69" cy="388.43" r="0.87" fill="#2e5060" fill-opacity="0.60"/><circle cx="435.53" cy="394.97" r="0.45" fill="#2e5060" fill-opacity="0.53"/><circle cx="430.33" cy="392.85" r="0.94" fill="#2e5060" fill-opacity="0.61"/></g>
<text x="403.40" y="386.20" font-size="5.0" font-weight="bold" fill="#111" stroke="none" font-family="Liberation Serif, serif">12</text>
</svg>
<svg x="441.20" y="378.90" width="41.60" height="41.70" viewBox="441.20 378.90 41.60 41.70" overflow="hidden">
<rect x="441.20" y="378.90" width="41.60" height="41.70" fill="#ecd0dc"/>
<circle cx="463.10" cy="400.20" r="23.80" fill="#f5e9ee" filter="url(#wb1)"/>
<radialGradient id="wg12" cx="0.5" cy="0.5" r="0.5"><stop offset="0" stop-color="#899086"/><stop offset="0.766" stop-color="#899086"/><stop offset="0.797" stop-color="#61685d"/><stop offset="0.833" stop-color="#899086" stop-opacity="0.95"/><stop offset="0.892" stop-color="#61685d" stop-opacity="0.75"/><stop offset="1" stop-color="#61685d" stop-opacity="0"/></radialGradient>
<circle cx="463.10" cy="400.20" r="22.20" fill="url(#wg12)" filter="url(#wb2)"/>
<g filter="url(#wb4)"><circle cx="449.41" cy="402.41" r="0.78" fill="#23394a" fill-opacity="0.51"/><circle cx="473.54" cy="400.91" r="0.59" fill="#23394a" fill-opacity="0.77"/><circle cx="458.26" cy="387.85" r="0.73" fill="#23394a" fill-opacity="0.71"/><circle cx="470.04" cy="409.18" r="0.53" fill="#23394a" fill-opacity="0.81"/><circle cx="477.53" cy="405.79" r="0.49" fill="#23394a" fill-opacity="0.72"/><circle cx="457.45" cy="409.49" r="0.87" fill="#23394a" fill-opacity="0.46"/><circle cx="478.28" cy="406.30" r="0.70" fill="#23394a" fill-opacity="0.49"/><circle cx="479.68" cy="398.86" r="0.51" fill="#23394a" fill-opacity="0.62"/><circle cx="469.42" cy="407.37" r="0.76" fill="#23394a" fill-opacity="0.52"/><circle cx="461.83" cy="396.54" r="0.54" fill="#23394a" fill-opacity="0.78"/><circle cx="454.13" cy="406.68" r="0.75" fill="#23394a" fill-opacity="0.64"/><circle cx="460.87" cy="402.18" r="0.81" fill="#23394a" fill-opacity="0.84"/><circle cx="476.88" cy="398.13" r="0.63" fill="#23394a" fill-opacity="0.60"/><circle cx="457.94" cy="387.15" r="0.51" fill="#23394a" fill-opacity="0.54"/><circle cx="455.11" cy="409.46" r="0.86" fill="#23394a" fill-opacity="0.65"/><circle cx="478.37" cy="402.93" r="0.67" fill="#23394a" fill-opacity="0.66"/><circle cx="465.04" cy="411.21" r="0.64" fill="#23394a" fill-opacity="0.76"/><circle cx="473.24" cy="407.82" r="0.54" fill="#23394a" fill-opacity="0.73"/><circle cx="471.85" cy="402.26" r="0.62" fill="#23394a" fill-opacity="0.70"/><circle cx="474.07" cy="403.92" r="0.55" fill="#23394a" fill-opacity="0.56"/><circle cx="446.54" cy="402.69" r="0.69" fill="#23394a" fill-opacity="0.83"/><circle cx="471.24" cy="414.48" r="0.63" fill="#23394a" fill-opacity="0.53"/><circle cx="462.95" cy="383.87" r="0.45" fill="#23394a" fill-opacity="0.56"/><circle cx="464.39" cy="390.29" r="0.57" fill="#23394a" fill-opacity="0.45"/><circle cx="476.13" cy="403.55" r="0.94" fill="#23394a" fill-opacity="0.85"/><circle cx="460.46" cy="400.14" r="0.61" fill="#23394a" fill-opacity="0.76"/><circle cx="469.83" cy="388.30" r="0.56" fill="#23394a" fill-opacity="0.66"/><circle cx="449.70" cy="402.12" r="0.58" fill="#23394a" fill-opacity="0.83"/><circle cx="468.52" cy="395.96" r="0.60" fill="#23394a" fill-opacity="0.80"/><circle cx="460.16" cy="416.55" r="0.71" fill="#23394a" fill-opacity="0.73"/><circle cx="460.88" cy="392.61" r="0.59" fill="#23394a" fill-opacity="0.55"/><circle cx="457.30" cy="387.19" r="0.52" fill="#23394a" fill-opacity="0.80"/><circle cx="455.73" cy="404.23" r="0.67" fill="#23394a" fill-opacity="0.84"/><circle cx="450.53" cy="395.23" r="0.91" fill="#23394a" fill-opacity="0.83"/><circle cx="463.82" cy="389.17" r="0.74" fill="#23394a" fill-opacity="0.81"/><circle cx="466.28" cy="387.57" r="0.62" fill="#23394a" fill-opacity="0.60"/><circle cx="461.96" cy="387.42" r="0.46" fill="#23394a" fill-opacity="0.73"/><circle cx="475.67" cy="391.52" r="0.90" fill="#23394a" fill-opacity="0.81"/><circle cx="448.27" cy="396.89" r="0.64" fill="#23394a" fill-opacity="0.49"/><circle cx="457.33" cy="407.82" r="0.92" fill="#23394a" fill-opacity="0.73"/><circle cx="450.07" cy="396.71" r="0.51" fill="#23394a" fill-opacity="0.66"/><circle cx="459.82" cy="389.98" r="0.57" fill="#23394a" fill-opacity="0.61"/><circle cx="456.79" cy="412.87" r="0.52" fill="#23394a" fill-opacity="0.49"/><circle cx="457.64" cy="413.38" r="0.83" fill="#23394a" fill-opacity="0.71"/><circle cx="472.58" cy="396.08" r="0.46" fill="#23394a" fill-opacity="0.65"/><circle cx="456.31" cy="402.71" r="0.78" fill="#23394a" fill-opacity="0.59"/><circle cx="463.82" cy="409.96" r="0.92" fill="#23394a" fill-opacity="0.45"/><circle cx="457.32" cy="407.16" r="0.55" fill="#23394a" fill-opacity="0.62"/><circle cx="466.13" cy="416.31" r="0.70" fill="#23394a" fill-opacity="0.73"/><circle cx="469.20" cy="410.13" r="0.75" fill="#23394a" fill-opacity="0.79"/><circle cx="463.11" cy="411.79" r="0.88" fill="#23394a" fill-opacity="0.78"/><circle cx="464.87" cy="412.62" r="0.83" fill="#23394a" fill-opacity="0.61"/><circle cx="456.65" cy="387.86" r="0.94" fill="#23394a" fill-opacity="0.67"/><circle cx="458.84" cy="391.02" r="0.82" fill="#23394a" fill-opacity="0.58"/><circle cx="452.83" cy="400.21" r="0.60" fill="#23394a" fill-opacity="0.50"/><circle cx="465.02" cy="412.67" r="0.58" fill="#23394a" fill-opacity="0.47"/><circle cx="466.12" cy="391.57" r="0.92" fill="#23394a" fill-opacity="0.69"/><circle cx="450.85" cy="410.46" r="0.90" fill="#23394a" fill-opacity="0.58"/><circle cx="472.73" cy="409.93" r="0.87" fill="#23394a" fill-opacity="0.69"/><circle cx="465.45" cy="389.47" r="0.76" fill="#23394a" fill-opacity="0.56"/><circle cx="454.32" cy="406.02" r="0.64" fill="#23394a" fill-opacity="0.61"/><circle cx="465.58" cy="393.60" r="0.55" fill="#23394a" fill-opacity="0.55"/><circle cx="475.26" cy="397.96" r="0.48" fill="#23394a" fill-opacity="0.78"/><circle cx="473.96" cy="389.14" r="0.63" fill="#23394a" fill-opacity="0.74"/><circle cx="460.94" cy="406.15" r="0.88" fill="#23394a" fill-opacity="0.78"/><circle cx="466.97" cy="415.77" r="0.46" fill="#23394a" fill-opacity="0.57"/><circle cx="470.15" cy="400.78" r="0.53" fill="#23394a" fill-opacity="0.74"/><circle cx="460.95" cy="407.34" r="0.54" fill="#23394a" fill-opacity="0.57"/><circle cx="471.73" cy="390.05" r="0.50" fill="#23394a" fill-opacity="0.72"/><circle cx="451.94" cy="397.61" r="0.71" fill="#23394a" fill-opacity="0.71"/><circle cx="466.91" cy="388.66" r="0.77" fill="#23394a" fill-opacity="0.64"/><circle cx="456.00" cy="392.25" r="0.66" fill="#23394a" fill-opacity="0.66"/><circle cx="461.13" cy="391.39" r="0.91" fill="#23394a" fill-opacity="0.65"/><circle cx="471.84" cy="389.00" r="0.93" fill="#23394a" fill-opacity="0.72"/><circle cx="453.34" cy="405.03" r="0.75" fill="#23394a" fill-opacity="0.75"/><circle cx="466.36" cy="394.99" r="0.48" fill="#23394a" fill-opacity="0.49"/><circle cx="466.61" cy="402.25" r="0.45" fill="#23394a" fill-opacity="0.55"/><circle cx="473.82" cy="409.44" r="0.76" fill="#23394a" fill-opacity="0.84"/><circle cx="477.42" cy="396.57" r="0.92" fill="#23394a" fill-opacity="0.46"/><circle cx="465.37" cy="416.50" r="0.69" fill="#23394a" fill-opacity="0.53"/><circle cx="463.58" cy="389.08" r="0.72" fill="#23394a" fill-opacity="0.58"/><circle cx="463.36" cy="405.24" r="0.75" fill="#23394a" fill-opacity="0.83"/><circle cx="478.01" cy="398.95" r="0.92" fill="#23394a" fill-opacity="0.59"/><circle cx="458.20" cy="415.89" r="0.75" fill="#23394a" fill-opacity="0.72"/><circle cx="471.25" cy="400.84" r="0.69" fill="#23394a" fill-opacity="0.74"/><circle cx="469.92" cy="386.98" r="0.62" fill="#23394a" fill-opacity="0.60"/><circle cx="474.14" cy="387.25" r="0.69" fill="#23394a" fill-opacity="0.53"/><circle cx="454.22" cy="391.38" r="0.63" fill="#23394a" fill-opacity="0.54"/><circle cx="453.04" cy="409.03" r="0.51" fill="#23394a" fill-opacity="0.67"/><circle cx="477.20" cy="395.84" r="0.58" fill="#23394a" fill-opacity="0.62"/><circle cx="474.85" cy="409.00" r="0.77" fill="#23394a" fill-opacity="0.52"/><circle cx="450.50" cy="396.27" r="0.74" fill="#23394a" fill-opacity="0.60"/><circle cx="459.36" cy="409.67" r="0.95" fill="#23394a" fill-opacity="0.58"/><circle cx="451.50" cy="400.02" r="0.54" fill="#23394a" fill-opacity="0.61"/><circle cx="465.81" cy="409.52" r="0.63" fill="#23394a" fill-opacity="0.59"/><circle cx="471.72" cy="396.66" r="0.62" fill="#23394a" fill-opacity="0.71"/><circle cx="453.29" cy="407.59" r="0.77" fill="#23394a" fill-opacity="0.48"/><circle cx="460.53" cy="395.41" r="0.58" fill="#23394a" fill-opacity="0.77"/><circle cx="477.11" cy="399.28" r="0.54" fill="#23394a" fill-opacity="0.63"/><circle cx="459.91" cy="415.55" r="0.57" fill="#23394a" fill-opacity="0.53"/></g>
<text x="445.00" y="386.20" font-size="5.0" font-weight="bold" fill="#111" stroke="none" font-family="Liberation Serif, serif">109</text>
</svg>
<svg x="358.00" y="443.00" width="41.60" height="41.70" viewBox="358.00 443.00 41.60 41.70" overflow="hidden">
<rect x="358.00" y="443.00" width="41.60" height="41.70" fill="#ecd0dc"/>
<circle cx="379.00" cy="463.60" r="23.50" fill="#f5e9ee" filter="url(#wb1)"/>
<path d="M393,443 H399.6 V484.5 H395 C400,470 400,455 393,443Z" fill="#101010" filter="url(#wb3)"/>
<radialGradient id="wg100" cx="0.5" cy="0.5" r="0.5"><stop offset="0" stop-color="#999987"/><stop offset="0.763" stop-color="#999987"/><stop offset="0.795" stop-color="#717266"/><stop offset="0.831" stop-color="#999987" stop-opacity="0.95"/><stop offset="0.890" stop-color="#717266" stop-opacity="0.75"/><stop offset="1" stop-color="#717266" stop-opacity="0"/></radialGradient>
<circle cx="379.00" cy="463.60" r="21.90" fill="url(#wg100)" filter="url(#wb2)"/>
<g filter="url(#wb4)"><circle cx="385.91" cy="472.58" r="0.57" fill="#3a6466" fill-opacity="0.73"/><circle cx="377.75" cy="452.61" r="0.58" fill="#3a6466" fill-opacity="0.66"/><circle cx="388.94" cy="469.07" r="0.32" fill="#3a6466" fill-opacity="0.82"/><circle cx="388.20" cy="460.42" r="0.41" fill="#3a6466" fill-opacity="0.76"/><circle cx="381.03" cy="470.40" r="0.37" fill="#3a6466" fill-opacity="0.59"/><circle cx="367.44" cy="451.84" r="0.37" fill="#3a6466" fill-opacity="0.83"/><circle cx="364.01" cy="458.16" r="0.59" fill="#3a6466" fill-opacity="0.51"/><circle cx="375.48" cy="458.84" r="0.30" fill="#3a6466" fill-opacity="0.61"/><circle cx="380.86" cy="451.10" r="0.37" fill="#3a6466" fill-opacity="0.79"/><circle cx="386.01" cy="459.38" r="0.46" fill="#3a6466" fill-opacity="0.71"/><circle cx="383.89" cy="460.16" r="0.49" fill="#3a6466" fill-opacity="0.84"/><circle cx="367.99" cy="454.59" r="0.57" fill="#3a6466" fill-opacity="0.65"/><circle cx="375.80" cy="476.11" r="0.48" fill="#3a6466" fill-opacity="0.59"/><circle cx="385.16" cy="455.57" r="0.47" fill="#3a6466" fill-opacity="0.75"/><circle cx="385.19" cy="449.00" r="0.53" fill="#3a6466" fill-opacity="0.55"/><circle cx="388.20" cy="450.49" r="0.55" fill="#3a6466" fill-opacity="0.76"/><circle cx="367.24" cy="462.59" r="0.50" fill="#3a6466" fill-opacity="0.51"/><circle cx="372.01" cy="449.66" r="0.36" fill="#3a6466" fill-opacity="0.75"/><circle cx="377.41" cy="457.98" r="0.32" fill="#3a6466" fill-opacity="0.69"/><circle cx="380.80" cy="472.78" r="0.52" fill="#3a6466" fill-opacity="0.71"/><circle cx="378.90" cy="450.94" r="0.42" fill="#3a6466" fill-opacity="0.46"/><circle cx="384.56" cy="468.44" r="0.48" fill="#3a6466" fill-opacity="0.74"/><circle cx="381.66" cy="473.75" r="0.63" fill="#3a6466" fill-opacity="0.61"/><circle cx="375.97" cy="450.74" r="0.53" fill="#3a6466" fill-opacity="0.64"/><circle cx="365.50" cy="459.67" r="0.36" fill="#3a6466" fill-opacity="0.77"/><circle cx="381.54" cy="460.99" r="0.37" fill="#3a6466" fill-opacity="0.55"/><circle cx="384.21" cy="467.11" r="0.52" fill="#3a6466" fill-opacity="0.50"/><circle cx="393.92" cy="470.26" r="0.44" fill="#3a6466" fill-opacity="0.67"/><circle cx="369.28" cy="465.19" r="0.46" fill="#3a6466" fill-opacity="0.53"/><circle cx="371.61" cy="459.56" r="0.35" fill="#3a6466" fill-opacity="0.53"/><circle cx="365.17" cy="472.05" r="0.51" fill="#3a6466" fill-opacity="0.84"/><circle cx="372.04" cy="468.61" r="0.55" fill="#3a6466" fill-opacity="0.53"/><circle cx="389.50" cy="463.47" r="0.39" fill="#3a6466" fill-opacity="0.56"/><circle cx="373.54" cy="478.92" r="0.65" fill="#3a6466" fill-opacity="0.67"/><circle cx="379.19" cy="465.25" r="0.33" fill="#3a6466" fill-opacity="0.57"/><circle cx="370.70" cy="453.21" r="0.60" fill="#3a6466" fill-opacity="0.78"/><circle cx="370.71" cy="474.62" r="0.46" fill="#3a6466" fill-opacity="0.74"/><circle cx="385.66" cy="478.81" r="0.31" fill="#3a6466" fill-opacity="0.70"/><circle cx="369.98" cy="475.62" r="0.35" fill="#3a6466" fill-opacity="0.81"/><circle cx="393.40" cy="463.89" r="0.55" fill="#3a6466" fill-opacity="0.65"/><circle cx="383.74" cy="472.84" r="0.46" fill="#3a6466" fill-opacity="0.54"/><circle cx="387.18" cy="476.67" r="0.49" fill="#3a6466" fill-opacity="0.56"/><circle cx="369.57" cy="454.12" r="0.35" fill="#3a6466" fill-opacity="0.68"/><circle cx="374.17" cy="460.77" r="0.41" fill="#3a6466" fill-opacity="0.80"/><circle cx="372.02" cy="459.82" r="0.44" fill="#3a6466" fill-opacity="0.63"/><circle cx="374.96" cy="448.55" r="0.33" fill="#3a6466" fill-opacity="0.47"/><circle cx="376.78" cy="464.45" r="0.35" fill="#3a6466" fill-opacity="0.49"/><circle cx="390.28" cy="470.61" r="0.33" fill="#3a6466" fill-opacity="0.68"/><circle cx="385.15" cy="462.27" r="0.57" fill="#3a6466" fill-opacity="0.68"/><circle cx="386.87" cy="477.96" r="0.56" fill="#3a6466" fill-opacity="0.60"/><circle cx="383.14" cy="460.10" r="0.59" fill="#3a6466" fill-opacity="0.79"/><circle cx="390.99" cy="474.31" r="0.57" fill="#3a6466" fill-opacity="0.82"/><circle cx="376.16" cy="477.75" r="0.57" fill="#3a6466" fill-opacity="0.59"/><circle cx="380.95" cy="464.04" r="0.48" fill="#3a6466" fill-opacity="0.67"/><circle cx="388.44" cy="473.04" r="0.32" fill="#3a6466" fill-opacity="0.64"/><circle cx="371.44" cy="463.09" r="0.32" fill="#3a6466" fill-opacity="0.81"/><circle cx="386.73" cy="453.29" r="0.31" fill="#3a6466" fill-opacity="0.66"/><circle cx="393.32" cy="460.21" r="0.54" fill="#3a6466" fill-opacity="0.47"/><circle cx="371.86" cy="459.77" r="0.65" fill="#3a6466" fill-opacity="0.45"/><circle cx="381.69" cy="479.13" r="0.34" fill="#3a6466" fill-opacity="0.57"/><circle cx="373.53" cy="478.39" r="0.54" fill="#3a6466" fill-opacity="0.82"/><circle cx="380.78" cy="468.26" r="0.42" fill="#3a6466" fill-opacity="0.76"/><circle cx="367.09" cy="452.55" r="0.55" fill="#3a6466" fill-opacity="0.48"/><circle cx="375.98" cy="470.56" r="0.39" fill="#3a6466" fill-opacity="0.72"/><circle cx="365.29" cy="468.67" r="0.31" fill="#3a6466" fill-opacity="0.81"/><circle cx="386.58" cy="475.93" r="0.60" fill="#3a6466" fill-opacity="0.47"/><circle cx="363.00" cy="459.24" r="0.30" fill="#3a6466" fill-opacity="0.65"/><circle cx="369.75" cy="468.29" r="0.37" fill="#3a6466" fill-opacity="0.52"/><circle cx="378.22" cy="471.40" r="0.40" fill="#3a6466" fill-opacity="0.81"/><circle cx="387.13" cy="460.90" r="0.31" fill="#3a6466" fill-opacity="0.56"/><circle cx="383.38" cy="458.07" r="0.53" fill="#3a6466" fill-opacity="0.49"/><circle cx="374.85" cy="469.13" r="0.52" fill="#3a6466" fill-opacity="0.60"/><circle cx="380.80" cy="451.64" r="0.44" fill="#3a6466" fill-opacity="0.46"/><circle cx="380.75" cy="460.78" r="0.47" fill="#3a6466" fill-opacity="0.85"/><circle cx="381.53" cy="453.91" r="0.63" fill="#3a6466" fill-opacity="0.55"/><circle cx="367.89" cy="457.35" r="0.55" fill="#3a6466" fill-opacity="0.57"/><circle cx="371.34" cy="469.34" r="0.62" fill="#3a6466" fill-opacity="0.75"/><circle cx="371.09" cy="476.08" r="0.52" fill="#3a6466" fill-opacity="0.55"/><circle cx="373.75" cy="463.63" r="0.37" fill="#3a6466" fill-opacity="0.48"/><circle cx="390.52" cy="470.00" r="0.59" fill="#3a6466" fill-opacity="0.78"/><circle cx="382.15" cy="479.65" r="0.42" fill="#3a6466" fill-opacity="0.73"/><circle cx="369.43" cy="457.05" r="0.54" fill="#3a6466" fill-opacity="0.81"/><circle cx="375.01" cy="452.30" r="0.60" fill="#3a6466" fill-opacity="0.75"/><circle cx="367.29" cy="475.40" r="0.44" fill="#3a6466" fill-opacity="0.47"/><circle cx="394.89" cy="459.90" r="0.49" fill="#3a6466" fill-opacity="0.75"/><circle cx="377.24" cy="458.62" r="0.58" fill="#3a6466" fill-opacity="0.70"/><circle cx="390.35" cy="461.09" r="0.40" fill="#3a6466" fill-opacity="0.76"/><circle cx="364.17" cy="458.47" r="0.31" fill="#3a6466" fill-opacity="0.72"/><circle cx="385.05" cy="459.75" r="0.33" fill="#3a6466" fill-opacity="0.65"/><circle cx="371.39" cy="452.64" r="0.49" fill="#3a6466" fill-opacity="0.59"/><circle cx="374.90" cy="447.41" r="0.48" fill="#3a6466" fill-opacity="0.61"/><circle cx="385.94" cy="462.22" r="0.50" fill="#3a6466" fill-opacity="0.79"/><circle cx="382.65" cy="449.54" r="0.54" fill="#3a6466" fill-opacity="0.63"/><circle cx="379.65" cy="463.46" r="0.45" fill="#3a6466" fill-opacity="0.63"/><circle cx="377.20" cy="454.77" r="0.37" fill="#3a6466" fill-opacity="0.63"/><circle cx="370.99" cy="454.38" r="0.61" fill="#3a6466" fill-opacity="0.64"/><circle cx="382.75" cy="476.53" r="0.44" fill="#3a6466" fill-opacity="0.46"/><circle cx="374.46" cy="466.86" r="0.52" fill="#3a6466" fill-opacity="0.81"/><circle cx="377.22" cy="447.26" r="0.35" fill="#3a6466" fill-opacity="0.78"/><circle cx="379.70" cy="455.40" r="0.47" fill="#3a6466" fill-opacity="0.52"/><circle cx="374.57" cy="474.93" r="0.44" fill="#3a6466" fill-opacity="0.61"/><circle cx="375.66" cy="450.19" r="0.34" fill="#3a6466" fill-opacity="0.68"/><circle cx="379.52" cy="460.63" r="0.56" fill="#3a6466" fill-opacity="0.46"/><circle cx="369.66" cy="468.13" r="0.31" fill="#3a6466" fill-opacity="0.48"/><circle cx="374.82" cy="455.99" r="0.48" fill="#3a6466" fill-opacity="0.52"/><circle cx="366.86" cy="452.81" r="0.56" fill="#3a6466" fill-opacity="0.60"/><circle cx="388.60" cy="461.00" r="0.40" fill="#3a6466" fill-opacity="0.62"/><circle cx="389.41" cy="462.62" r="0.40" fill="#3a6466" fill-opacity="0.67"/><circle cx="369.41" cy="452.54" r="0.55" fill="#3a6466" fill-opacity="0.72"/><circle cx="369.54" cy="469.45" r="0.64" fill="#3a6466" fill-opacity="0.65"/><circle cx="379.68" cy="453.55" r="0.30" fill="#3a6466" fill-opacity="0.61"/><circle cx="368.49" cy="462.15" r="0.37" fill="#3a6466" fill-opacity="0.51"/><circle cx="392.44" cy="467.93" r="0.48" fill="#3a6466" fill-opacity="0.78"/><circle cx="388.54" cy="452.58" r="0.58" fill="#3a6466" fill-opacity="0.81"/><circle cx="392.04" cy="455.77" r="0.61" fill="#3a6466" fill-opacity="0.59"/><circle cx="394.87" cy="463.25" r="0.58" fill="#3a6466" fill-opacity="0.79"/><circle cx="378.71" cy="450.87" r="0.48" fill="#3a6466" fill-opacity="0.82"/><circle cx="375.90" cy="476.73" r="0.63" fill="#3a6466" fill-opacity="0.56"/><circle cx="384.18" cy="471.40" r="0.45" fill="#3a6466" fill-opacity="0.65"/><circle cx="379.87" cy="471.82" r="0.35" fill="#3a6466" fill-opacity="0.64"/><circle cx="385.28" cy="471.35" r="0.36" fill="#3a6466" fill-opacity="0.70"/><circle cx="373.14" cy="458.08" r="0.65" fill="#3a6466" fill-opacity="0.56"/><circle cx="386.66" cy="458.51" r="0.50" fill="#3a6466" fill-opacity="0.69"/><circle cx="370.39" cy="458.98" r="0.58" fill="#3a6466" fill-opacity="0.70"/><circle cx="368.17" cy="459.26" r="0.40" fill="#3a6466" fill-opacity="0.61"/><circle cx="377.63" cy="449.51" r="0.65" fill="#3a6466" fill-opacity="0.74"/><circle cx="388.61" cy="463.11" r="0.40" fill="#3a6466" fill-opacity="0.85"/><circle cx="367.57" cy="469.35" r="0.60" fill="#3a6466" fill-opacity="0.50"/><circle cx="387.41" cy="471.41" r="0.37" fill="#3a6466" fill-opacity="0.47"/><circle cx="376.07" cy="451.48" r="0.46" fill="#3a6466" fill-opacity="0.71"/></g>
<text x="361.80" y="450.30" font-size="5.0" font-weight="bold" fill="#111" stroke="none" font-family="Liberation Serif, serif">156</text>
</svg>
<svg x="399.60" y="443.00" width="41.60" height="41.70" viewBox="399.60 443.00 41.60 41.70" overflow="hidden">
<rect x="399.60" y="443.00" width="41.60" height="41.70" fill="#ecd0dc"/>
<circle cx="420.20" cy="462.60" r="23.20" fill="#f5e9ee" filter="url(#wb1)"/>
<path d="M432,443 H441.2 V484.5 H436 C442,470 441,452 432,443Z" fill="#101010" filter="url(#wb3)"/>
<radialGradient id="wg101" cx="0.5" cy="0.5" r="0.5"><stop offset="0" stop-color="#9c9b89"/><stop offset="0.759" stop-color="#9c9b89"/><stop offset="0.792" stop-color="#747569"/><stop offset="0.829" stop-color="#9c9b89" stop-opacity="0.95"/><stop offset="0.889" stop-color="#747569" stop-opacity="0.75"/><stop offset="1" stop-color="#747569" stop-opacity="0"/></radialGradient>
<circle cx="420.20" cy="462.60" r="21.60" fill="url(#wg101)" filter="url(#wb2)"/>
<g filter="url(#wb4)"><circle cx="413.84" cy="459.05" r="1.08" fill="#2f5e60" fill-opacity="0.82"/><circle cx="407.05" cy="465.36" r="0.63" fill="#2f5e60" fill-opacity="0.54"/><circle cx="416.91" cy="475.93" r="0.63" fill="#2f5e60" fill-opacity="0.84"/><circle cx="426.76" cy="465.70" r="0.55" fill="#2f5e60" fill-opacity="0.76"/><circle cx="412.63" cy="471.03" r="0.70" fill="#2f5e60" fill-opacity="0.70"/><circle cx="414.00" cy="466.88" r="0.76" fill="#2f5e60" fill-opacity="0.57"/><circle cx="431.69" cy="472.20" r="0.91" fill="#2f5e60" fill-opacity="0.72"/><circle cx="427.86" cy="455.62" r="0.73" fill="#2f5e60" fill-opacity="0.62"/><circle cx="409.06" cy="470.22" r="0.50" fill="#2f5e60" fill-opacity="0.64"/><circle cx="410.74" cy="460.48" r="0.51" fill="#2f5e60" fill-opacity="0.73"/><circle cx="432.57" cy="463.34" r="0.59" fill="#2f5e60" fill-opacity="0.46"/><circle cx="421.98" cy="466.44" r="0.59" fill="#2f5e60" fill-opacity="0.72"/><circle cx="418.85" cy="452.75" r="0.89" fill="#2f5e60" fill-opacity="0.64"/><circle cx="404.76" cy="462.75" r="0.69" fill="#2f5e60" fill-opacity="0.80"/><circle cx="415.26" cy="449.88" r="0.50" fill="#2f5e60" fill-opacity="0.48"/><circle cx="429.71" cy="464.54" r="1.07" fill="#2f5e60" fill-opacity="0.80"/><circle cx="423.21" cy="457.77" r="0.92" fill="#2f5e60" fill-opacity="0.76"/><circle cx="425.54" cy="448.92" r="0.58" fill="#2f5e60" fill-opacity="0.52"/><circle cx="423.95" cy="448.93" r="1.04" fill="#2f5e60" fill-opacity="0.63"/><circle cx="424.94" cy="458.66" r="1.07" fill="#2f5e60" fill-opacity="0.80"/><circle cx="417.96" cy="466.26" r="0.83" fill="#2f5e60" fill-opacity="0.73"/><circle cx="417.87" cy="465.80" r="0.67" fill="#2f5e60" fill-opacity="0.78"/><circle cx="433.65" cy="471.21" r="0.65" fill="#2f5e60" fill-opacity="0.53"/><circle cx="432.65" cy="473.19" r="1.04" fill="#2f5e60" fill-opacity="0.58"/><circle cx="431.20" cy="470.14" r="1.03" fill="#2f5e60" fill-opacity="0.45"/><circle cx="409.96" cy="451.27" r="0.78" fill="#2f5e60" fill-opacity="0.68"/><circle cx="422.89" cy="455.01" r="0.66" fill="#2f5e60" fill-opacity="0.71"/><circle cx="408.77" cy="458.70" r="0.70" fill="#2f5e60" fill-opacity="0.82"/><circle cx="416.97" cy="475.81" r="1.04" fill="#2f5e60" fill-opacity="0.61"/><circle cx="427.50" cy="465.19" r="0.54" fill="#2f5e60" fill-opacity="0.51"/><circle cx="427.22" cy="469.23" r="0.72" fill="#2f5e60" fill-opacity="0.63"/><circle cx="413.30" cy="450.91" r="0.91" fill="#2f5e60" fill-opacity="0.60"/><circle cx="413.83" cy="452.15" r="0.58" fill="#2f5e60" fill-opacity="0.67"/><circle cx="414.55" cy="474.93" r="0.94" fill="#2f5e60" fill-opacity="0.55"/></g>
<text x="403.40" y="450.30" font-size="5.0" font-weight="bold" fill="#111" stroke="none" font-family="Liberation Serif, serif">32</text>
</svg>
<svg x="441.20" y="443.00" width="41.60" height="41.70" viewBox="441.20 443.00 41.60 41.70" overflow="hidden">
<rect x="441.20" y="443.00" width="41.60" height="41.70" fill="#ecd0dc"/>
<circle cx="462.30" cy="462.00" r="23.40" fill="#f5e9ee" filter="url(#wb1)"/>
<path d="M477,443 H482.8 V484.5 H478 C482,470 482,455 477,443Z" fill="#101010" filter="url(#wb3)"/>
<radialGradient id="wg102" cx="0.5" cy="0.5" r="0.5"><stop offset="0" stop-color="#9e9c89"/><stop offset="0.761" stop-color="#9e9c89"/><stop offset="0.794" stop-color="#767669"/><stop offset="0.830" stop-color="#9e9c89" stop-opacity="0.95"/><stop offset="0.890" stop-color="#767669" stop-opacity="0.75"/><stop offset="1" stop-color="#767669" stop-opacity="0"/></radialGradient>
<circle cx="462.30" cy="462.00" r="21.80" fill="url(#wg102)" filter="url(#wb2)"/>
<g filter="url(#wb4)"><circle cx="470.13" cy="472.51" r="0.60" fill="#2f5e60" fill-opacity="0.74"/><circle cx="454.23" cy="455.51" r="0.87" fill="#2f5e60" fill-opacity="0.68"/><circle cx="474.01" cy="465.26" r="0.87" fill="#2f5e60" fill-opacity="0.66"/><circle cx="472.71" cy="452.16" r="0.73" fill="#2f5e60" fill-opacity="0.54"/><circle cx="472.72" cy="472.83" r="0.91" fill="#2f5e60" fill-opacity="0.69"/><circle cx="451.26" cy="466.23" r="0.63" fill="#2f5e60" fill-opacity="0.66"/><circle cx="470.34" cy="472.42" r="0.88" fill="#2f5e60" fill-opacity="0.72"/><circle cx="462.41" cy="467.06" r="0.70" fill="#2f5e60" fill-opacity="0.73"/><circle cx="447.89" cy="461.10" r="0.76" fill="#2f5e60" fill-opacity="0.61"/><circle cx="468.01" cy="458.26" r="0.62" fill="#2f5e60" fill-opacity="0.69"/><circle cx="454.85" cy="453.93" r="0.83" fill="#2f5e60" fill-opacity="0.63"/><circle cx="454.60" cy="448.27" r="1.00" fill="#2f5e60" fill-opacity="0.71"/><circle cx="446.33" cy="465.03" r="0.77" fill="#2f5e60" fill-opacity="0.70"/><circle cx="471.65" cy="451.85" r="0.73" fill="#2f5e60" fill-opacity="0.75"/><circle cx="449.39" cy="452.59" r="0.87" fill="#2f5e60" fill-opacity="0.66"/><circle cx="474.27" cy="460.03" r="0.74" fill="#2f5e60" fill-opacity="0.83"/><circle cx="468.80" cy="459.62" r="0.54" fill="#2f5e60" fill-opacity="0.79"/><circle cx="469.97" cy="455.04" r="0.65" fill="#2f5e60" fill-opacity="0.72"/><circle cx="469.47" cy="459.17" r="0.77" fill="#2f5e60" fill-opacity="0.72"/><circle cx="464.26" cy="472.58" r="0.59" fill="#2f5e60" fill-opacity="0.64"/><circle cx="462.90" cy="466.70" r="0.73" fill="#2f5e60" fill-opacity="0.51"/><circle cx="467.06" cy="466.40" r="0.75" fill="#2f5e60" fill-opacity="0.58"/><circle cx="460.84" cy="451.35" r="0.65" fill="#2f5e60" fill-opacity="0.53"/><circle cx="458.10" cy="475.77" r="0.62" fill="#2f5e60" fill-opacity="0.64"/><circle cx="467.60" cy="447.74" r="0.78" fill="#2f5e60" fill-opacity="0.79"/><circle cx="457.32" cy="455.80" r="0.56" fill="#2f5e60" fill-opacity="0.52"/><circle cx="464.90" cy="451.91" r="1.00" fill="#2f5e60" fill-opacity="0.84"/><circle cx="472.30" cy="456.45" r="0.50" fill="#2f5e60" fill-opacity="0.56"/><circle cx="464.91" cy="475.20" r="0.92" fill="#2f5e60" fill-opacity="0.82"/><circle cx="457.75" cy="446.29" r="0.88" fill="#2f5e60" fill-opacity="0.64"/></g>
<text x="445.00" y="450.30" font-size="5.0" font-weight="bold" fill="#111" stroke="none" font-family="Liberation Serif, serif">28</text>
</svg>
<svg x="358.00" y="484.50" width="41.60" height="41.70" viewBox="358.00 484.50 41.60 41.70" overflow="hidden">
<rect x="358.00" y="484.50" width="41.60" height="41.70" fill="#ecd0dc"/>
<circle cx="379.00" cy="505.20" r="23.60" fill="#f5e9ee" filter="url(#wb1)"/>
<radialGradient id="wg110" cx="0.5" cy="0.5" r="0.5"><stop offset="0" stop-color="#9a9987"/><stop offset="0.764" stop-color="#9a9987"/><stop offset="0.795" stop-color="#727367"/><stop offset="0.832" stop-color="#9a9987" stop-opacity="0.95"/><stop offset="0.891" stop-color="#727367" stop-opacity="0.75"/><stop offset="1" stop-color="#727367" stop-opacity="0"/></radialGradient>
<circle cx="379.00" cy="505.20" r="22.00" fill="url(#wg110)" filter="url(#wb2)"/>
<g filter="url(#wb4)"><circle cx="388.64" cy="500.97" r="0.63" fill="#3a6466" fill-opacity="0.55"/><circle cx="370.22" cy="506.19" r="0.52" fill="#3a6466" fill-opacity="0.48"/><circle cx="370.77" cy="509.95" r="0.32" fill="#3a6466" fill-opacity="0.78"/><circle cx="384.59" cy="501.77" r="0.55" fill="#3a6466" fill-opacity="0.66"/><circle cx="367.43" cy="511.09" r="0.56" fill="#3a6466" fill-opacity="0.56"/><circle cx="371.17" cy="514.34" r="0.70" fill="#3a6466" fill-opacity="0.82"/><circle cx="380.94" cy="493.93" r="0.66" fill="#3a6466" fill-opacity="0.84"/><circle cx="384.54" cy="500.22" r="0.46" fill="#3a6466" fill-opacity="0.54"/><circle cx="364.10" cy="509.89" r="0.50" fill="#3a6466" fill-opacity="0.58"/><circle cx="382.23" cy="510.64" r="0.63" fill="#3a6466" fill-opacity="0.83"/><circle cx="379.81" cy="504.52" r="0.41" fill="#3a6466" fill-opacity="0.51"/><circle cx="371.61" cy="506.92" r="0.49" fill="#3a6466" fill-opacity="0.63"/><circle cx="370.78" cy="496.29" r="0.50" fill="#3a6466" fill-opacity="0.47"/><circle cx="389.33" cy="501.30" r="0.65" fill="#3a6466" fill-opacity="0.58"/><circle cx="393.17" cy="514.27" r="0.50" fill="#3a6466" fill-opacity="0.52"/><circle cx="394.85" cy="501.49" r="0.34" fill="#3a6466" fill-opacity="0.83"/><circle cx="383.13" cy="509.65" r="0.36" fill="#3a6466" fill-opacity="0.80"/><circle cx="369.10" cy="497.41" r="0.58" fill="#3a6466" fill-opacity="0.57"/><circle cx="383.41" cy="506.98" r="0.39" fill="#3a6466" fill-opacity="0.68"/><circle cx="382.20" cy="506.79" r="0.38" fill="#3a6466" fill-opacity="0.45"/><circle cx="384.86" cy="507.37" r="0.35" fill="#3a6466" fill-opacity="0.58"/><circle cx="387.11" cy="494.02" r="0.30" fill="#3a6466" fill-opacity="0.48"/><circle cx="373.06" cy="515.00" r="0.48" fill="#3a6466" fill-opacity="0.67"/><circle cx="376.60" cy="491.95" r="0.40" fill="#3a6466" fill-opacity="0.56"/><circle cx="391.21" cy="504.67" r="0.67" fill="#3a6466" fill-opacity="0.82"/><circle cx="383.99" cy="492.79" r="0.60" fill="#3a6466" fill-opacity="0.57"/><circle cx="381.87" cy="515.37" r="0.38" fill="#3a6466" fill-opacity="0.52"/><circle cx="384.43" cy="509.77" r="0.31" fill="#3a6466" fill-opacity="0.50"/><circle cx="378.65" cy="501.48" r="0.58" fill="#3a6466" fill-opacity="0.73"/><circle cx="384.80" cy="515.33" r="0.54" fill="#3a6466" fill-opacity="0.83"/><circle cx="374.21" cy="501.21" r="0.32" fill="#3a6466" fill-opacity="0.52"/><circle cx="388.90" cy="516.82" r="0.64" fill="#3a6466" fill-opacity="0.49"/><circle cx="381.24" cy="489.29" r="0.39" fill="#3a6466" fill-opacity="0.65"/><circle cx="380.15" cy="516.15" r="0.61" fill="#3a6466" fill-opacity="0.53"/><circle cx="365.60" cy="504.93" r="0.65" fill="#3a6466" fill-opacity="0.83"/><circle cx="387.82" cy="499.12" r="0.44" fill="#3a6466" fill-opacity="0.81"/><circle cx="388.79" cy="493.59" r="0.54" fill="#3a6466" fill-opacity="0.83"/><circle cx="383.91" cy="510.59" r="0.60" fill="#3a6466" fill-opacity="0.56"/><circle cx="370.28" cy="495.72" r="0.55" fill="#3a6466" fill-opacity="0.56"/><circle cx="391.34" cy="502.33" r="0.30" fill="#3a6466" fill-opacity="0.58"/><circle cx="363.39" cy="503.27" r="0.54" fill="#3a6466" fill-opacity="0.83"/><circle cx="377.13" cy="508.71" r="0.48" fill="#3a6466" fill-opacity="0.82"/><circle cx="363.91" cy="501.29" r="0.63" fill="#3a6466" fill-opacity="0.81"/><circle cx="376.38" cy="505.21" r="0.53" fill="#3a6466" fill-opacity="0.49"/><circle cx="373.18" cy="510.94" r="0.44" fill="#3a6466" fill-opacity="0.64"/><circle cx="372.47" cy="490.02" r="0.64" fill="#3a6466" fill-opacity="0.78"/><circle cx="386.09" cy="515.92" r="0.45" fill="#3a6466" fill-opacity="0.63"/><circle cx="388.79" cy="511.09" r="0.68" fill="#3a6466" fill-opacity="0.80"/><circle cx="381.47" cy="500.57" r="0.64" fill="#3a6466" fill-opacity="0.61"/><circle cx="372.43" cy="515.15" r="0.43" fill="#3a6466" fill-opacity="0.55"/><circle cx="389.58" cy="497.74" r="0.48" fill="#3a6466" fill-opacity="0.66"/><circle cx="383.65" cy="507.43" r="0.31" fill="#3a6466" fill-opacity="0.59"/><circle cx="381.39" cy="502.89" r="0.42" fill="#3a6466" fill-opacity="0.80"/><circle cx="382.82" cy="516.61" r="0.66" fill="#3a6466" fill-opacity="0.76"/><circle cx="371.75" cy="511.01" r="0.41" fill="#3a6466" fill-opacity="0.58"/><circle cx="391.82" cy="504.04" r="0.48" fill="#3a6466" fill-opacity="0.82"/><circle cx="372.61" cy="510.29" r="0.51" fill="#3a6466" fill-opacity="0.50"/><circle cx="379.70" cy="504.93" r="0.45" fill="#3a6466" fill-opacity="0.46"/><circle cx="382.41" cy="520.61" r="0.36" fill="#3a6466" fill-opacity="0.76"/><circle cx="376.94" cy="502.00" r="0.68" fill="#3a6466" fill-opacity="0.47"/><circle cx="386.93" cy="490.72" r="0.46" fill="#3a6466" fill-opacity="0.60"/><circle cx="368.78" cy="514.83" r="0.55" fill="#3a6466" fill-opacity="0.51"/><circle cx="383.42" cy="510.18" r="0.33" fill="#3a6466" fill-opacity="0.49"/><circle cx="372.88" cy="505.46" r="0.57" fill="#3a6466" fill-opacity="0.57"/><circle cx="383.13" cy="503.82" r="0.55" fill="#3a6466" fill-opacity="0.63"/><circle cx="378.89" cy="502.37" r="0.37" fill="#3a6466" fill-opacity="0.82"/><circle cx="369.10" cy="507.30" r="0.33" fill="#3a6466" fill-opacity="0.68"/><circle cx="392.07" cy="502.60" r="0.68" fill="#3a6466" fill-opacity="0.70"/><circle cx="392.21" cy="506.61" r="0.52" fill="#3a6466" fill-opacity="0.84"/><circle cx="382.80" cy="491.54" r="0.35" fill="#3a6466" fill-opacity="0.63"/><circle cx="379.60" cy="492.80" r="0.53" fill="#3a6466" fill-opacity="0.48"/><circle cx="374.06" cy="504.21" r="0.31" fill="#3a6466" fill-opacity="0.74"/><circle cx="372.52" cy="509.27" r="0.49" fill="#3a6466" fill-opacity="0.48"/><circle cx="367.49" cy="493.22" r="0.62" fill="#3a6466" fill-opacity="0.80"/><circle cx="371.55" cy="490.44" r="0.47" fill="#3a6466" fill-opacity="0.50"/><circle cx="379.72" cy="506.72" r="0.38" fill="#3a6466" fill-opacity="0.50"/><circle cx="386.63" cy="517.77" r="0.45" fill="#3a6466" fill-opacity="0.58"/><circle cx="389.87" cy="515.24" r="0.40" fill="#3a6466" fill-opacity="0.81"/><circle cx="380.55" cy="506.32" r="0.63" fill="#3a6466" fill-opacity="0.64"/><circle cx="387.30" cy="493.70" r="0.58" fill="#3a6466" fill-opacity="0.55"/><circle cx="375.87" cy="500.77" r="0.66" fill="#3a6466" fill-opacity="0.79"/><circle cx="375.14" cy="500.93" r="0.39" fill="#3a6466" fill-opacity="0.63"/><circle cx="390.51" cy="517.18" r="0.67" fill="#3a6466" fill-opacity="0.64"/><circle cx="379.80" cy="517.21" r="0.70" fill="#3a6466" fill-opacity="0.63"/><circle cx="378.43" cy="493.83" r="0.35" fill="#3a6466" fill-opacity="0.57"/><circle cx="366.46" cy="511.37" r="0.45" fill="#3a6466" fill-opacity="0.54"/><circle cx="392.99" cy="513.66" r="0.64" fill="#3a6466" fill-opacity="0.62"/><circle cx="379.09" cy="494.34" r="0.41" fill="#3a6466" fill-opacity="0.48"/><circle cx="377.99" cy="504.16" r="0.66" fill="#3a6466" fill-opacity="0.51"/><circle cx="388.44" cy="500.35" r="0.57" fill="#3a6466" fill-opacity="0.53"/><circle cx="383.19" cy="519.44" r="0.52" fill="#3a6466" fill-opacity="0.67"/><circle cx="370.52" cy="515.37" r="0.69" fill="#3a6466" fill-opacity="0.84"/><circle cx="387.86" cy="496.40" r="0.47" fill="#3a6466" fill-opacity="0.79"/><circle cx="383.73" cy="495.84" r="0.51" fill="#3a6466" fill-opacity="0.45"/><circle cx="370.85" cy="496.30" r="0.35" fill="#3a6466" fill-opacity="0.83"/><circle cx="376.34" cy="493.56" r="0.63" fill="#3a6466" fill-opacity="0.67"/><circle cx="376.79" cy="505.07" r="0.58" fill="#3a6466" fill-opacity="0.65"/><circle cx="366.29" cy="503.06" r="0.60" fill="#3a6466" fill-opacity="0.73"/><circle cx="371.87" cy="489.90" r="0.46" fill="#3a6466" fill-opacity="0.84"/><circle cx="392.09" cy="513.74" r="0.54" fill="#3a6466" fill-opacity="0.64"/><circle cx="378.67" cy="511.76" r="0.45" fill="#3a6466" fill-opacity="0.64"/><circle cx="393.15" cy="505.79" r="0.65" fill="#3a6466" fill-opacity="0.68"/><circle cx="377.40" cy="499.82" r="0.44" fill="#3a6466" fill-opacity="0.46"/><circle cx="395.26" cy="503.12" r="0.48" fill="#3a6466" fill-opacity="0.54"/><circle cx="368.24" cy="495.07" r="0.38" fill="#3a6466" fill-opacity="0.54"/><circle cx="383.85" cy="492.06" r="0.36" fill="#3a6466" fill-opacity="0.58"/><circle cx="384.03" cy="493.07" r="0.70" fill="#3a6466" fill-opacity="0.82"/><circle cx="363.90" cy="511.28" r="0.32" fill="#3a6466" fill-opacity="0.70"/><circle cx="386.13" cy="503.78" r="0.62" fill="#3a6466" fill-opacity="0.61"/><circle cx="390.22" cy="507.81" r="0.63" fill="#3a6466" fill-opacity="0.62"/><circle cx="386.94" cy="509.00" r="0.49" fill="#3a6466" fill-opacity="0.74"/><circle cx="389.58" cy="512.90" r="0.42" fill="#3a6466" fill-opacity="0.65"/><circle cx="393.81" cy="500.52" r="0.32" fill="#3a6466" fill-opacity="0.74"/><circle cx="367.28" cy="503.23" r="0.68" fill="#3a6466" fill-opacity="0.75"/><circle cx="391.53" cy="510.10" r="0.66" fill="#3a6466" fill-opacity="0.52"/><circle cx="376.26" cy="505.35" r="0.60" fill="#3a6466" fill-opacity="0.55"/><circle cx="369.36" cy="497.85" r="0.63" fill="#3a6466" fill-opacity="0.60"/><circle cx="389.24" cy="508.89" r="0.68" fill="#3a6466" fill-opacity="0.64"/><circle cx="385.49" cy="513.12" r="0.39" fill="#3a6466" fill-opacity="0.64"/><circle cx="391.24" cy="493.59" r="0.60" fill="#3a6466" fill-opacity="0.76"/><circle cx="369.55" cy="517.26" r="0.55" fill="#3a6466" fill-opacity="0.64"/><circle cx="373.82" cy="499.53" r="0.30" fill="#3a6466" fill-opacity="0.67"/><circle cx="383.60" cy="497.19" r="0.62" fill="#3a6466" fill-opacity="0.55"/><circle cx="368.69" cy="511.39" r="0.53" fill="#3a6466" fill-opacity="0.63"/><circle cx="380.35" cy="520.64" r="0.58" fill="#3a6466" fill-opacity="0.54"/><circle cx="393.88" cy="497.28" r="0.39" fill="#3a6466" fill-opacity="0.73"/><circle cx="368.88" cy="510.13" r="0.69" fill="#3a6466" fill-opacity="0.52"/><circle cx="380.64" cy="512.82" r="0.37" fill="#3a6466" fill-opacity="0.84"/><circle cx="387.01" cy="515.55" r="0.55" fill="#3a6466" fill-opacity="0.80"/><circle cx="377.59" cy="492.59" r="0.66" fill="#3a6466" fill-opacity="0.72"/></g>
<text x="361.80" y="491.80" font-size="5.0" font-weight="bold" fill="#111" stroke="none" font-family="Liberation Serif, serif">153</text>
</svg>
<svg x="399.60" y="484.50" width="41.60" height="41.70" viewBox="399.60 484.50 41.60 41.70" overflow="hidden">
<rect x="399.60" y="484.50" width="41.60" height="41.70" fill="#ecd0dc"/>
<circle cx="420.80" cy="505.40" r="23.70" fill="#f5e9ee" filter="url(#wb1)"/>
<radialGradient id="wg111" cx="0.5" cy="0.5" r="0.5"><stop offset="0" stop-color="#9e9c8a"/><stop offset="0.765" stop-color="#9e9c8a"/><stop offset="0.796" stop-color="#767669"/><stop offset="0.833" stop-color="#9e9c8a" stop-opacity="0.95"/><stop offset="0.891" stop-color="#767669" stop-opacity="0.75"/><stop offset="1" stop-color="#767669" stop-opacity="0"/></radialGradient>
<circle cx="420.80" cy="505.40" r="22.10" fill="url(#wg111)" filter="url(#wb2)"/>
<g filter="url(#wb4)"><circle cx="424.45" cy="498.46" r="1.16" fill="#2f5e60" fill-opacity="0.65"/><circle cx="410.12" cy="513.41" r="0.62" fill="#2f5e60" fill-opacity="0.53"/><circle cx="413.62" cy="509.25" r="0.97" fill="#2f5e60" fill-opacity="0.62"/><circle cx="414.13" cy="511.39" r="0.65" fill="#2f5e60" fill-opacity="0.74"/><circle cx="429.03" cy="499.62" r="1.06" fill="#2f5e60" fill-opacity="0.58"/><circle cx="421.34" cy="497.11" r="0.90" fill="#2f5e60" fill-opacity="0.61"/><circle cx="431.02" cy="494.65" r="0.58" fill="#2f5e60" fill-opacity="0.49"/><circle cx="413.16" cy="507.36" r="0.67" fill="#2f5e60" fill-opacity="0.83"/><circle cx="422.89" cy="504.58" r="0.52" fill="#2f5e60" fill-opacity="0.70"/><circle cx="435.96" cy="500.22" r="0.99" fill="#2f5e60" fill-opacity="0.75"/><circle cx="408.97" cy="506.68" r="1.10" fill="#2f5e60" fill-opacity="0.49"/><circle cx="414.85" cy="492.26" r="0.61" fill="#2f5e60" fill-opacity="0.76"/><circle cx="428.99" cy="519.98" r="1.03" fill="#2f5e60" fill-opacity="0.63"/><circle cx="406.30" cy="496.95" r="0.76" fill="#2f5e60" fill-opacity="0.53"/><circle cx="414.81" cy="490.40" r="0.61" fill="#2f5e60" fill-opacity="0.76"/><circle cx="410.01" cy="514.46" r="0.83" fill="#2f5e60" fill-opacity="0.83"/><circle cx="405.96" cy="497.71" r="1.17" fill="#2f5e60" fill-opacity="0.50"/><circle cx="434.50" cy="499.79" r="0.60" fill="#2f5e60" fill-opacity="0.68"/><circle cx="420.30" cy="509.07" r="0.54" fill="#2f5e60" fill-opacity="0.60"/><circle cx="424.02" cy="502.14" r="0.91" fill="#2f5e60" fill-opacity="0.80"/><circle cx="411.40" cy="516.32" r="0.92" fill="#2f5e60" fill-opacity="0.75"/><circle cx="404.07" cy="507.35" r="0.78" fill="#2f5e60" fill-opacity="0.53"/><circle cx="427.03" cy="511.36" r="0.58" fill="#2f5e60" fill-opacity="0.83"/><circle cx="431.24" cy="516.97" r="1.04" fill="#2f5e60" fill-opacity="0.64"/><circle cx="428.06" cy="507.80" r="1.16" fill="#2f5e60" fill-opacity="0.62"/><circle cx="421.97" cy="499.51" r="0.53" fill="#2f5e60" fill-opacity="0.59"/><circle cx="416.25" cy="511.62" r="0.95" fill="#2f5e60" fill-opacity="0.68"/><circle cx="411.92" cy="501.88" r="0.79" fill="#2f5e60" fill-opacity="0.56"/><circle cx="410.78" cy="501.96" r="0.96" fill="#2f5e60" fill-opacity="0.84"/><circle cx="414.98" cy="517.12" r="0.57" fill="#2f5e60" fill-opacity="0.78"/><circle cx="407.97" cy="502.78" r="0.89" fill="#2f5e60" fill-opacity="0.50"/><circle cx="422.11" cy="504.14" r="0.64" fill="#2f5e60" fill-opacity="0.64"/><circle cx="433.39" cy="498.80" r="1.13" fill="#2f5e60" fill-opacity="0.59"/><circle cx="408.30" cy="501.25" r="0.66" fill="#2f5e60" fill-opacity="0.49"/><circle cx="418.11" cy="509.63" r="0.51" fill="#2f5e60" fill-opacity="0.52"/><circle cx="429.33" cy="495.17" r="1.02" fill="#2f5e60" fill-opacity="0.68"/><circle cx="404.87" cy="507.20" r="0.74" fill="#2f5e60" fill-opacity="0.55"/><circle cx="419.66" cy="509.89" r="0.51" fill="#2f5e60" fill-opacity="0.56"/><circle cx="415.78" cy="499.79" r="0.83" fill="#2f5e60" fill-opacity="0.57"/><circle cx="420.90" cy="497.09" r="0.82" fill="#2f5e60" fill-opacity="0.75"/><circle cx="417.75" cy="489.59" r="0.51" fill="#2f5e60" fill-opacity="0.64"/><circle cx="426.59" cy="520.37" r="0.67" fill="#2f5e60" fill-opacity="0.77"/><circle cx="405.99" cy="503.81" r="1.06" fill="#2f5e60" fill-opacity="0.79"/><circle cx="429.03" cy="498.40" r="0.97" fill="#2f5e60" fill-opacity="0.82"/><circle cx="424.17" cy="494.61" r="1.08" fill="#2f5e60" fill-opacity="0.76"/></g>
<text x="403.40" y="491.80" font-size="5.0" font-weight="bold" fill="#111" stroke="none" font-family="Liberation Serif, serif">43</text>
</svg>
<svg x="441.20" y="484.50" width="41.60" height="41.70" viewBox="441.20 484.50 41.60 41.70" overflow="hidden">
<rect x="441.20" y="484.50" width="41.60" height="41.70" fill="#ecd0dc"/>
<circle cx="462.30" cy="505.40" r="23.40" fill="#f5e9ee" filter="url(#wb1)"/>
<radialGradient id="wg112" cx="0.5" cy="0.5" r="0.5"><stop offset="0" stop-color="#a09d8c"/><stop offset="0.761" stop-color="#a09d8c"/><stop offset="0.794" stop-color="#77776a"/><stop offset="0.830" stop-color="#a09d8c" stop-opacity="0.95"/><stop offset="0.890" stop-color="#77776a" stop-opacity="0.75"/><stop offset="1" stop-color="#77776a" stop-opacity="0"/></radialGradient>
<circle cx="462.30" cy="505.40" r="21.80" fill="url(#wg112)" filter="url(#wb2)"/>
<g filter="url(#wb4)"><circle cx="448.76" cy="507.00" r="0.87" fill="#2f5e60" fill-opacity="0.73"/><circle cx="474.13" cy="497.06" r="0.60" fill="#2f5e60" fill-opacity="0.54"/><circle cx="452.29" cy="508.32" r="1.08" fill="#2f5e60" fill-opacity="0.74"/><circle cx="452.59" cy="507.35" r="0.64" fill="#2f5e60" fill-opacity="0.69"/><circle cx="468.36" cy="502.26" r="0.77" fill="#2f5e60" fill-opacity="0.59"/><circle cx="455.80" cy="500.05" r="0.54" fill="#2f5e60" fill-opacity="0.72"/><circle cx="457.59" cy="517.98" r="1.04" fill="#2f5e60" fill-opacity="0.68"/><circle cx="475.05" cy="497.57" r="0.54" fill="#2f5e60" fill-opacity="0.55"/><circle cx="456.25" cy="495.56" r="0.50" fill="#2f5e60" fill-opacity="0.78"/><circle cx="455.82" cy="496.50" r="0.81" fill="#2f5e60" fill-opacity="0.52"/><circle cx="456.31" cy="503.45" r="0.90" fill="#2f5e60" fill-opacity="0.83"/><circle cx="464.11" cy="513.81" r="0.85" fill="#2f5e60" fill-opacity="0.80"/><circle cx="467.38" cy="514.53" r="0.86" fill="#2f5e60" fill-opacity="0.52"/><circle cx="475.40" cy="511.47" r="0.87" fill="#2f5e60" fill-opacity="0.68"/><circle cx="457.16" cy="503.88" r="0.79" fill="#2f5e60" fill-opacity="0.64"/><circle cx="455.58" cy="504.78" r="0.54" fill="#2f5e60" fill-opacity="0.66"/><circle cx="457.75" cy="492.54" r="1.06" fill="#2f5e60" fill-opacity="0.60"/><circle cx="454.86" cy="511.47" r="0.80" fill="#2f5e60" fill-opacity="0.72"/><circle cx="465.64" cy="501.57" r="0.85" fill="#2f5e60" fill-opacity="0.76"/><circle cx="462.27" cy="494.44" r="0.54" fill="#2f5e60" fill-opacity="0.58"/><circle cx="450.18" cy="497.02" r="0.63" fill="#2f5e60" fill-opacity="0.58"/><circle cx="459.74" cy="508.22" r="1.08" fill="#2f5e60" fill-opacity="0.59"/><circle cx="446.96" cy="511.33" r="0.97" fill="#2f5e60" fill-opacity="0.56"/><circle cx="476.44" cy="499.90" r="0.84" fill="#2f5e60" fill-opacity="0.63"/><circle cx="471.63" cy="492.37" r="0.90" fill="#2f5e60" fill-opacity="0.58"/><circle cx="471.71" cy="495.64" r="1.06" fill="#2f5e60" fill-opacity="0.78"/><circle cx="456.66" cy="490.63" r="0.76" fill="#2f5e60" fill-opacity="0.69"/><circle cx="462.15" cy="494.33" r="0.58" fill="#2f5e60" fill-opacity="0.78"/><circle cx="451.32" cy="502.83" r="0.82" fill="#2f5e60" fill-opacity="0.57"/><circle cx="467.25" cy="497.97" r="0.65" fill="#2f5e60" fill-opacity="0.70"/></g>
<text x="445.00" y="491.80" font-size="5.0" font-weight="bold" fill="#111" stroke="none" font-family="Liberation Serif, serif">26</text>
</svg>
<text x="380.4" y="332.3" font-size="9.0" text-anchor="middle" fill="#231f20" textLength="12.0" lengthAdjust="spacingAndGlyphs">IgG</text>
<text x="420.8" y="332.3" font-size="9.0" text-anchor="middle" fill="#231f20" textLength="12.8" lengthAdjust="spacingAndGlyphs">IgM</text>
<text x="463.6" y="332.3" font-size="9.0" text-anchor="middle" fill="#231f20" textLength="11.8" lengthAdjust="spacingAndGlyphs">IgA</text>
<text x="380.4" y="439.8" font-size="9.0" text-anchor="middle" fill="#231f20" textLength="12.0" lengthAdjust="spacingAndGlyphs">IgG</text>
<text x="420.8" y="439.8" font-size="9.0" text-anchor="middle" fill="#231f20" textLength="12.8" lengthAdjust="spacingAndGlyphs">IgM</text>
<text x="463.6" y="439.8" font-size="9.0" text-anchor="middle" fill="#231f20" textLength="11.8" lengthAdjust="spacingAndGlyphs">IgA</text>
<text x="486.4" y="363.4" font-size="9.0" fill="#231f20" textLength="21.2" lengthAdjust="spacingAndGlyphs">CD19-</text>
<text x="486.4" y="470.9" font-size="9.0" fill="#231f20" textLength="21.2" lengthAdjust="spacingAndGlyphs">CD19-</text>
<text x="486.4" y="399.8" font-size="9.0" fill="#231f20" textLength="23.4" lengthAdjust="spacingAndGlyphs">CD19+</text>
<text x="486.4" y="507.9" font-size="9.0" fill="#231f20" textLength="23.4" lengthAdjust="spacingAndGlyphs">CD19+</text>
<text x="352.6" y="378.5" font-size="10.0" text-anchor="middle" fill="#231f20" textLength="12.0" lengthAdjust="spacingAndGlyphs" transform="rotate(-90 352.6 378.5)">BM</text>
<text x="352.9" y="484.0" font-size="10.0" text-anchor="middle" fill="#231f20" textLength="28" lengthAdjust="spacingAndGlyphs" transform="rotate(-90 352.9 484.0)">Spleen</text>
<rect x="0" y="0" width="520" height="1.5" fill="#3a3a3a"/>
<rect x="518.2" y="0" width="1.8" height="539" fill="#333"/>
<rect x="0" y="0" width="1.1" height="539" fill="#000"/>
<rect x="0" y="537.6" width="520" height="1.4" fill="#000"/>
</svg></body></html>
